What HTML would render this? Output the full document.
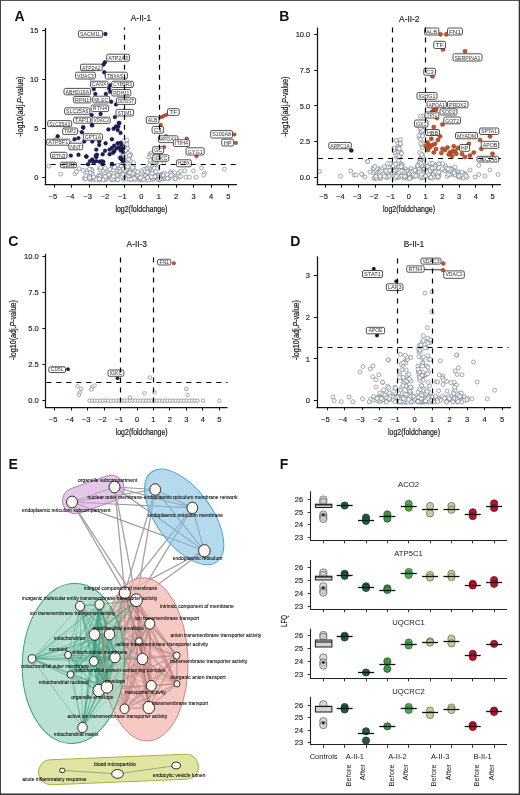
<!DOCTYPE html>
<html><head><meta charset="utf-8"><style>
html,body{margin:0;padding:0;background:#fff;width:520px;height:795px;overflow:hidden;font-family:"Liberation Sans", sans-serif;}
svg{display:block;will-change:transform;}
</style></head><body>
<svg width="520" height="795" viewBox="0 0 520 795" font-family='"Liberation Sans", sans-serif'><rect x="0" y="0" width="520" height="795" fill="#fff"/>
<circle cx="126.33" cy="141.79" r="2.0" fill="#f6f8fa" stroke="#727a85" stroke-width="0.6" />
<circle cx="127.63" cy="160.89" r="2.0" fill="#f6f8fa" stroke="#727a85" stroke-width="0.6" />
<circle cx="149.96" cy="154.16" r="2.0" fill="#f6f8fa" stroke="#727a85" stroke-width="0.6" />
<circle cx="142.33" cy="179.96" r="2.0" fill="#f6f8fa" stroke="#727a85" stroke-width="0.6" />
<circle cx="133.78" cy="177.86" r="2.0" fill="#f6f8fa" stroke="#727a85" stroke-width="0.6" />
<circle cx="105.71" cy="175.00" r="2.0" fill="#f6f8fa" stroke="#727a85" stroke-width="0.6" />
<circle cx="125.17" cy="161.26" r="2.0" fill="#f6f8fa" stroke="#727a85" stroke-width="0.6" />
<circle cx="146.92" cy="176.31" r="2.0" fill="#f6f8fa" stroke="#727a85" stroke-width="0.6" />
<circle cx="112.90" cy="177.09" r="2.0" fill="#f6f8fa" stroke="#727a85" stroke-width="0.6" />
<circle cx="165.04" cy="178.66" r="2.0" fill="#f6f8fa" stroke="#727a85" stroke-width="0.6" />
<circle cx="158.29" cy="179.40" r="2.0" fill="#f6f8fa" stroke="#727a85" stroke-width="0.6" />
<circle cx="156.29" cy="176.93" r="2.0" fill="#f6f8fa" stroke="#727a85" stroke-width="0.6" />
<circle cx="91.90" cy="171.45" r="2.0" fill="#f6f8fa" stroke="#727a85" stroke-width="0.6" />
<circle cx="125.85" cy="150.75" r="2.0" fill="#f6f8fa" stroke="#727a85" stroke-width="0.6" />
<circle cx="102.86" cy="167.36" r="2.0" fill="#f6f8fa" stroke="#727a85" stroke-width="0.6" />
<circle cx="168.72" cy="177.18" r="2.0" fill="#f6f8fa" stroke="#727a85" stroke-width="0.6" />
<circle cx="102.90" cy="170.61" r="2.0" fill="#f6f8fa" stroke="#727a85" stroke-width="0.6" />
<circle cx="114.24" cy="179.50" r="2.0" fill="#f6f8fa" stroke="#727a85" stroke-width="0.6" />
<circle cx="99.92" cy="168.80" r="2.0" fill="#f6f8fa" stroke="#727a85" stroke-width="0.6" />
<circle cx="162.14" cy="178.76" r="2.0" fill="#f6f8fa" stroke="#727a85" stroke-width="0.6" />
<circle cx="123.30" cy="179.45" r="2.0" fill="#f6f8fa" stroke="#727a85" stroke-width="0.6" />
<circle cx="151.05" cy="157.49" r="2.0" fill="#f6f8fa" stroke="#727a85" stroke-width="0.6" />
<circle cx="88.74" cy="174.83" r="2.0" fill="#f6f8fa" stroke="#727a85" stroke-width="0.6" />
<circle cx="101.99" cy="177.64" r="2.0" fill="#f6f8fa" stroke="#727a85" stroke-width="0.6" />
<circle cx="125.68" cy="175.35" r="2.0" fill="#f6f8fa" stroke="#727a85" stroke-width="0.6" />
<circle cx="139.28" cy="179.87" r="2.0" fill="#f6f8fa" stroke="#727a85" stroke-width="0.6" />
<circle cx="129.26" cy="172.54" r="2.0" fill="#f6f8fa" stroke="#727a85" stroke-width="0.6" />
<circle cx="179.94" cy="176.71" r="2.0" fill="#f6f8fa" stroke="#727a85" stroke-width="0.6" />
<circle cx="122.88" cy="149.74" r="2.0" fill="#f6f8fa" stroke="#727a85" stroke-width="0.6" />
<circle cx="119.47" cy="166.52" r="2.0" fill="#f6f8fa" stroke="#727a85" stroke-width="0.6" />
<circle cx="153.36" cy="162.77" r="2.0" fill="#f6f8fa" stroke="#727a85" stroke-width="0.6" />
<circle cx="164.16" cy="172.86" r="2.0" fill="#f6f8fa" stroke="#727a85" stroke-width="0.6" />
<circle cx="129.13" cy="159.08" r="2.0" fill="#f6f8fa" stroke="#727a85" stroke-width="0.6" />
<circle cx="130.73" cy="154.62" r="2.0" fill="#f6f8fa" stroke="#727a85" stroke-width="0.6" />
<circle cx="107.07" cy="177.11" r="2.0" fill="#f6f8fa" stroke="#727a85" stroke-width="0.6" />
<circle cx="148.46" cy="177.71" r="2.0" fill="#f6f8fa" stroke="#727a85" stroke-width="0.6" />
<circle cx="125.31" cy="169.62" r="2.0" fill="#f6f8fa" stroke="#727a85" stroke-width="0.6" />
<circle cx="147.26" cy="173.22" r="2.0" fill="#f6f8fa" stroke="#727a85" stroke-width="0.6" />
<circle cx="109.13" cy="175.01" r="2.0" fill="#f6f8fa" stroke="#727a85" stroke-width="0.6" />
<circle cx="108.97" cy="175.54" r="2.0" fill="#f6f8fa" stroke="#727a85" stroke-width="0.6" />
<circle cx="89.32" cy="170.70" r="2.0" fill="#f6f8fa" stroke="#727a85" stroke-width="0.6" />
<circle cx="159.57" cy="179.15" r="2.0" fill="#f6f8fa" stroke="#727a85" stroke-width="0.6" />
<circle cx="126.57" cy="147.39" r="2.0" fill="#f6f8fa" stroke="#727a85" stroke-width="0.6" />
<circle cx="105.27" cy="179.75" r="2.0" fill="#f6f8fa" stroke="#727a85" stroke-width="0.6" />
<circle cx="149.08" cy="170.71" r="2.0" fill="#f6f8fa" stroke="#727a85" stroke-width="0.6" />
<circle cx="99.51" cy="175.24" r="2.0" fill="#f6f8fa" stroke="#727a85" stroke-width="0.6" />
<circle cx="151.99" cy="174.68" r="2.0" fill="#f6f8fa" stroke="#727a85" stroke-width="0.6" />
<circle cx="156.11" cy="165.67" r="2.0" fill="#f6f8fa" stroke="#727a85" stroke-width="0.6" />
<circle cx="170.81" cy="171.75" r="2.0" fill="#f6f8fa" stroke="#727a85" stroke-width="0.6" />
<circle cx="152.79" cy="170.33" r="2.0" fill="#f6f8fa" stroke="#727a85" stroke-width="0.6" />
<circle cx="145.83" cy="168.90" r="2.0" fill="#f6f8fa" stroke="#727a85" stroke-width="0.6" />
<circle cx="152.33" cy="155.51" r="2.0" fill="#f6f8fa" stroke="#727a85" stroke-width="0.6" />
<circle cx="129.77" cy="156.21" r="2.0" fill="#f6f8fa" stroke="#727a85" stroke-width="0.6" />
<circle cx="159.21" cy="178.97" r="2.0" fill="#f6f8fa" stroke="#727a85" stroke-width="0.6" />
<circle cx="175.02" cy="178.85" r="2.0" fill="#f6f8fa" stroke="#727a85" stroke-width="0.6" />
<circle cx="133.61" cy="167.38" r="2.0" fill="#f6f8fa" stroke="#727a85" stroke-width="0.6" />
<circle cx="138.15" cy="175.56" r="2.0" fill="#f6f8fa" stroke="#727a85" stroke-width="0.6" />
<circle cx="131.31" cy="179.75" r="2.0" fill="#f6f8fa" stroke="#727a85" stroke-width="0.6" />
<circle cx="149.72" cy="168.41" r="2.0" fill="#f6f8fa" stroke="#727a85" stroke-width="0.6" />
<circle cx="128.37" cy="167.91" r="2.0" fill="#f6f8fa" stroke="#727a85" stroke-width="0.6" />
<circle cx="128.70" cy="175.95" r="2.0" fill="#f6f8fa" stroke="#727a85" stroke-width="0.6" />
<circle cx="84.23" cy="178.49" r="2.0" fill="#f6f8fa" stroke="#727a85" stroke-width="0.6" />
<circle cx="149.33" cy="173.48" r="2.0" fill="#f6f8fa" stroke="#727a85" stroke-width="0.6" />
<circle cx="142.74" cy="173.35" r="2.0" fill="#f6f8fa" stroke="#727a85" stroke-width="0.6" />
<circle cx="106.55" cy="174.00" r="2.0" fill="#f6f8fa" stroke="#727a85" stroke-width="0.6" />
<circle cx="124.80" cy="166.43" r="2.0" fill="#f6f8fa" stroke="#727a85" stroke-width="0.6" />
<circle cx="133.88" cy="177.69" r="2.0" fill="#f6f8fa" stroke="#727a85" stroke-width="0.6" />
<circle cx="112.96" cy="166.81" r="2.0" fill="#f6f8fa" stroke="#727a85" stroke-width="0.6" />
<circle cx="168.98" cy="178.53" r="2.0" fill="#f6f8fa" stroke="#727a85" stroke-width="0.6" />
<circle cx="153.20" cy="178.74" r="2.0" fill="#f6f8fa" stroke="#727a85" stroke-width="0.6" />
<circle cx="159.41" cy="176.38" r="2.0" fill="#f6f8fa" stroke="#727a85" stroke-width="0.6" />
<circle cx="149.15" cy="176.95" r="2.0" fill="#f6f8fa" stroke="#727a85" stroke-width="0.6" />
<circle cx="176.90" cy="176.78" r="2.0" fill="#f6f8fa" stroke="#727a85" stroke-width="0.6" />
<circle cx="149.20" cy="179.21" r="2.0" fill="#f6f8fa" stroke="#727a85" stroke-width="0.6" />
<circle cx="92.40" cy="174.66" r="2.0" fill="#f6f8fa" stroke="#727a85" stroke-width="0.6" />
<circle cx="132.45" cy="178.13" r="2.0" fill="#f6f8fa" stroke="#727a85" stroke-width="0.6" />
<circle cx="100.08" cy="169.86" r="2.0" fill="#f6f8fa" stroke="#727a85" stroke-width="0.6" />
<circle cx="91.33" cy="169.31" r="2.0" fill="#f6f8fa" stroke="#727a85" stroke-width="0.6" />
<circle cx="127.28" cy="170.82" r="2.0" fill="#f6f8fa" stroke="#727a85" stroke-width="0.6" />
<circle cx="127.76" cy="167.39" r="2.0" fill="#f6f8fa" stroke="#727a85" stroke-width="0.6" />
<circle cx="140.89" cy="173.70" r="2.0" fill="#f6f8fa" stroke="#727a85" stroke-width="0.6" />
<circle cx="164.74" cy="176.33" r="2.0" fill="#f6f8fa" stroke="#727a85" stroke-width="0.6" />
<circle cx="154.45" cy="177.23" r="2.0" fill="#f6f8fa" stroke="#727a85" stroke-width="0.6" />
<circle cx="121.64" cy="166.59" r="2.0" fill="#f6f8fa" stroke="#727a85" stroke-width="0.6" />
<circle cx="156.99" cy="168.62" r="2.0" fill="#f6f8fa" stroke="#727a85" stroke-width="0.6" />
<circle cx="127.95" cy="170.31" r="2.0" fill="#f6f8fa" stroke="#727a85" stroke-width="0.6" />
<circle cx="147.28" cy="168.19" r="2.0" fill="#f6f8fa" stroke="#727a85" stroke-width="0.6" />
<circle cx="154.40" cy="172.88" r="2.0" fill="#f6f8fa" stroke="#727a85" stroke-width="0.6" />
<circle cx="86.94" cy="176.99" r="2.0" fill="#f6f8fa" stroke="#727a85" stroke-width="0.6" />
<circle cx="91.65" cy="169.94" r="2.0" fill="#f6f8fa" stroke="#727a85" stroke-width="0.6" />
<circle cx="161.33" cy="174.40" r="2.0" fill="#f6f8fa" stroke="#727a85" stroke-width="0.6" />
<circle cx="156.41" cy="162.97" r="2.0" fill="#f6f8fa" stroke="#727a85" stroke-width="0.6" />
<circle cx="141.89" cy="170.71" r="2.0" fill="#f6f8fa" stroke="#727a85" stroke-width="0.6" />
<circle cx="123.23" cy="160.67" r="2.0" fill="#f6f8fa" stroke="#727a85" stroke-width="0.6" />
<circle cx="117.83" cy="171.13" r="2.0" fill="#f6f8fa" stroke="#727a85" stroke-width="0.6" />
<circle cx="152.23" cy="179.89" r="2.0" fill="#f6f8fa" stroke="#727a85" stroke-width="0.6" />
<circle cx="106.01" cy="178.78" r="2.0" fill="#f6f8fa" stroke="#727a85" stroke-width="0.6" />
<circle cx="155.96" cy="162.84" r="2.0" fill="#f6f8fa" stroke="#727a85" stroke-width="0.6" />
<circle cx="155.34" cy="159.14" r="2.0" fill="#f6f8fa" stroke="#727a85" stroke-width="0.6" />
<circle cx="174.56" cy="172.71" r="2.0" fill="#f6f8fa" stroke="#727a85" stroke-width="0.6" />
<circle cx="124.09" cy="140.91" r="2.0" fill="#f6f8fa" stroke="#727a85" stroke-width="0.6" />
<circle cx="126.66" cy="179.11" r="2.0" fill="#f6f8fa" stroke="#727a85" stroke-width="0.6" />
<circle cx="133.75" cy="173.55" r="2.0" fill="#f6f8fa" stroke="#727a85" stroke-width="0.6" />
<circle cx="147.45" cy="176.37" r="2.0" fill="#f6f8fa" stroke="#727a85" stroke-width="0.6" />
<circle cx="153.96" cy="178.56" r="2.0" fill="#f6f8fa" stroke="#727a85" stroke-width="0.6" />
<circle cx="100.60" cy="167.55" r="2.0" fill="#f6f8fa" stroke="#727a85" stroke-width="0.6" />
<circle cx="85.87" cy="178.06" r="2.0" fill="#f6f8fa" stroke="#727a85" stroke-width="0.6" />
<circle cx="123.67" cy="177.98" r="2.0" fill="#f6f8fa" stroke="#727a85" stroke-width="0.6" />
<circle cx="135.08" cy="179.59" r="2.0" fill="#f6f8fa" stroke="#727a85" stroke-width="0.6" />
<circle cx="148.28" cy="167.59" r="2.0" fill="#f6f8fa" stroke="#727a85" stroke-width="0.6" />
<circle cx="89.29" cy="171.58" r="2.0" fill="#f6f8fa" stroke="#727a85" stroke-width="0.6" />
<circle cx="118.19" cy="167.03" r="2.0" fill="#f6f8fa" stroke="#727a85" stroke-width="0.6" />
<circle cx="89.69" cy="174.70" r="2.0" fill="#f6f8fa" stroke="#727a85" stroke-width="0.6" />
<circle cx="129.52" cy="173.31" r="2.0" fill="#f6f8fa" stroke="#727a85" stroke-width="0.6" />
<circle cx="158.00" cy="177.98" r="2.0" fill="#f6f8fa" stroke="#727a85" stroke-width="0.6" />
<circle cx="146.89" cy="175.88" r="2.0" fill="#f6f8fa" stroke="#727a85" stroke-width="0.6" />
<circle cx="109.73" cy="176.28" r="2.0" fill="#f6f8fa" stroke="#727a85" stroke-width="0.6" />
<circle cx="153.15" cy="178.38" r="2.0" fill="#f6f8fa" stroke="#727a85" stroke-width="0.6" />
<circle cx="151.51" cy="153.16" r="2.0" fill="#f6f8fa" stroke="#727a85" stroke-width="0.6" />
<circle cx="124.92" cy="170.79" r="2.0" fill="#f6f8fa" stroke="#727a85" stroke-width="0.6" />
<circle cx="117.83" cy="175.40" r="2.0" fill="#f6f8fa" stroke="#727a85" stroke-width="0.6" />
<circle cx="119.98" cy="167.02" r="2.0" fill="#f6f8fa" stroke="#727a85" stroke-width="0.6" />
<circle cx="160.82" cy="176.10" r="2.0" fill="#f6f8fa" stroke="#727a85" stroke-width="0.6" />
<circle cx="159.23" cy="179.53" r="2.0" fill="#f6f8fa" stroke="#727a85" stroke-width="0.6" />
<circle cx="145.60" cy="177.70" r="2.0" fill="#f6f8fa" stroke="#727a85" stroke-width="0.6" />
<circle cx="156.94" cy="175.73" r="2.0" fill="#f6f8fa" stroke="#727a85" stroke-width="0.6" />
<circle cx="130.38" cy="160.79" r="2.0" fill="#f6f8fa" stroke="#727a85" stroke-width="0.6" />
<circle cx="122.24" cy="159.59" r="2.0" fill="#f6f8fa" stroke="#727a85" stroke-width="0.6" />
<circle cx="123.20" cy="154.49" r="2.0" fill="#f6f8fa" stroke="#727a85" stroke-width="0.6" />
<circle cx="98.43" cy="175.90" r="2.0" fill="#f6f8fa" stroke="#727a85" stroke-width="0.6" />
<circle cx="158.04" cy="179.59" r="2.0" fill="#f6f8fa" stroke="#727a85" stroke-width="0.6" />
<circle cx="126.96" cy="144.36" r="2.0" fill="#f6f8fa" stroke="#727a85" stroke-width="0.6" />
<circle cx="85.56" cy="178.83" r="2.0" fill="#f6f8fa" stroke="#727a85" stroke-width="0.6" />
<circle cx="103.30" cy="171.43" r="2.0" fill="#f6f8fa" stroke="#727a85" stroke-width="0.6" />
<circle cx="140.29" cy="178.88" r="2.0" fill="#f6f8fa" stroke="#727a85" stroke-width="0.6" />
<circle cx="109.54" cy="170.15" r="2.0" fill="#f6f8fa" stroke="#727a85" stroke-width="0.6" />
<circle cx="129.30" cy="179.34" r="2.0" fill="#f6f8fa" stroke="#727a85" stroke-width="0.6" />
<circle cx="119.73" cy="168.78" r="2.0" fill="#f6f8fa" stroke="#727a85" stroke-width="0.6" />
<circle cx="146.44" cy="179.95" r="2.0" fill="#f6f8fa" stroke="#727a85" stroke-width="0.6" />
<circle cx="128.32" cy="153.22" r="2.0" fill="#f6f8fa" stroke="#727a85" stroke-width="0.6" />
<circle cx="151.90" cy="177.37" r="2.0" fill="#f6f8fa" stroke="#727a85" stroke-width="0.6" />
<circle cx="134.39" cy="172.88" r="2.0" fill="#f6f8fa" stroke="#727a85" stroke-width="0.6" />
<circle cx="90.08" cy="172.73" r="2.0" fill="#f6f8fa" stroke="#727a85" stroke-width="0.6" />
<circle cx="133.52" cy="164.77" r="2.0" fill="#f6f8fa" stroke="#727a85" stroke-width="0.6" />
<circle cx="112.52" cy="179.49" r="2.0" fill="#f6f8fa" stroke="#727a85" stroke-width="0.6" />
<circle cx="152.08" cy="162.41" r="2.0" fill="#f6f8fa" stroke="#727a85" stroke-width="0.6" />
<circle cx="127.25" cy="149.09" r="2.0" fill="#f6f8fa" stroke="#727a85" stroke-width="0.6" />
<circle cx="146.09" cy="175.06" r="2.0" fill="#f6f8fa" stroke="#727a85" stroke-width="0.6" />
<circle cx="151.58" cy="165.84" r="2.0" fill="#f6f8fa" stroke="#727a85" stroke-width="0.6" />
<circle cx="126.89" cy="139.90" r="2.0" fill="#f6f8fa" stroke="#727a85" stroke-width="0.6" />
<circle cx="160.35" cy="174.86" r="2.0" fill="#f6f8fa" stroke="#727a85" stroke-width="0.6" />
<circle cx="147.34" cy="177.48" r="2.0" fill="#f6f8fa" stroke="#727a85" stroke-width="0.6" />
<circle cx="153.68" cy="156.79" r="2.0" fill="#f6f8fa" stroke="#727a85" stroke-width="0.6" />
<circle cx="91.04" cy="179.47" r="2.0" fill="#f6f8fa" stroke="#727a85" stroke-width="0.6" />
<circle cx="90.83" cy="178.98" r="2.0" fill="#f6f8fa" stroke="#727a85" stroke-width="0.6" />
<circle cx="123.85" cy="157.44" r="2.0" fill="#f6f8fa" stroke="#727a85" stroke-width="0.6" />
<circle cx="119.82" cy="171.52" r="2.0" fill="#f6f8fa" stroke="#727a85" stroke-width="0.6" />
<circle cx="141.64" cy="177.62" r="2.0" fill="#f6f8fa" stroke="#727a85" stroke-width="0.6" />
<circle cx="143.46" cy="179.55" r="2.0" fill="#f6f8fa" stroke="#727a85" stroke-width="0.6" />
<circle cx="150.32" cy="155.21" r="2.0" fill="#f6f8fa" stroke="#727a85" stroke-width="0.6" />
<circle cx="163.41" cy="175.19" r="2.0" fill="#f6f8fa" stroke="#727a85" stroke-width="0.6" />
<circle cx="89.47" cy="178.80" r="2.0" fill="#f6f8fa" stroke="#727a85" stroke-width="0.6" />
<circle cx="146.52" cy="168.95" r="2.0" fill="#f6f8fa" stroke="#727a85" stroke-width="0.6" />
<circle cx="154.29" cy="168.08" r="2.0" fill="#f6f8fa" stroke="#727a85" stroke-width="0.6" />
<circle cx="160.77" cy="178.93" r="2.0" fill="#f6f8fa" stroke="#727a85" stroke-width="0.6" />
<circle cx="127.87" cy="169.13" r="2.0" fill="#f6f8fa" stroke="#727a85" stroke-width="0.6" />
<circle cx="137.81" cy="175.73" r="2.0" fill="#f6f8fa" stroke="#727a85" stroke-width="0.6" />
<circle cx="122.32" cy="158.53" r="2.0" fill="#f6f8fa" stroke="#727a85" stroke-width="0.6" />
<circle cx="122.08" cy="163.75" r="2.0" fill="#f6f8fa" stroke="#727a85" stroke-width="0.6" />
<circle cx="133.45" cy="162.84" r="2.0" fill="#f6f8fa" stroke="#727a85" stroke-width="0.6" />
<circle cx="113.43" cy="170.30" r="2.0" fill="#f6f8fa" stroke="#727a85" stroke-width="0.6" />
<circle cx="88.84" cy="176.13" r="2.0" fill="#f6f8fa" stroke="#727a85" stroke-width="0.6" />
<circle cx="131.26" cy="179.43" r="2.0" fill="#f6f8fa" stroke="#727a85" stroke-width="0.6" />
<circle cx="150.10" cy="175.83" r="2.0" fill="#f6f8fa" stroke="#727a85" stroke-width="0.6" />
<circle cx="105.12" cy="168.06" r="2.0" fill="#f6f8fa" stroke="#727a85" stroke-width="0.6" />
<circle cx="170.53" cy="173.28" r="2.0" fill="#f6f8fa" stroke="#727a85" stroke-width="0.6" />
<circle cx="175.20" cy="178.70" r="2.0" fill="#f6f8fa" stroke="#727a85" stroke-width="0.6" />
<circle cx="111.33" cy="179.61" r="2.0" fill="#f6f8fa" stroke="#727a85" stroke-width="0.6" />
<circle cx="120.93" cy="164.85" r="2.0" fill="#f6f8fa" stroke="#727a85" stroke-width="0.6" />
<circle cx="86.50" cy="170.71" r="2.0" fill="#f6f8fa" stroke="#727a85" stroke-width="0.6" />
<circle cx="128.32" cy="172.63" r="2.0" fill="#f6f8fa" stroke="#727a85" stroke-width="0.6" />
<circle cx="143.97" cy="169.25" r="2.0" fill="#f6f8fa" stroke="#727a85" stroke-width="0.6" />
<circle cx="86.90" cy="172.92" r="2.0" fill="#f6f8fa" stroke="#727a85" stroke-width="0.6" />
<circle cx="89.74" cy="177.59" r="2.0" fill="#f6f8fa" stroke="#727a85" stroke-width="0.6" />
<circle cx="151.63" cy="176.78" r="2.0" fill="#f6f8fa" stroke="#727a85" stroke-width="0.6" />
<circle cx="139.81" cy="177.90" r="2.0" fill="#f6f8fa" stroke="#727a85" stroke-width="0.6" />
<circle cx="125.15" cy="160.73" r="2.0" fill="#f6f8fa" stroke="#727a85" stroke-width="0.6" />
<circle cx="109.88" cy="169.33" r="2.0" fill="#f6f8fa" stroke="#727a85" stroke-width="0.6" />
<circle cx="156.06" cy="176.28" r="2.0" fill="#f6f8fa" stroke="#727a85" stroke-width="0.6" />
<circle cx="135.71" cy="171.32" r="2.0" fill="#f6f8fa" stroke="#727a85" stroke-width="0.6" />
<circle cx="178.80" cy="177.28" r="2.0" fill="#f6f8fa" stroke="#727a85" stroke-width="0.6" />
<circle cx="155.56" cy="161.21" r="2.0" fill="#f6f8fa" stroke="#727a85" stroke-width="0.6" />
<circle cx="130.99" cy="167.21" r="2.0" fill="#f6f8fa" stroke="#727a85" stroke-width="0.6" />
<circle cx="145.21" cy="170.99" r="2.0" fill="#f6f8fa" stroke="#727a85" stroke-width="0.6" />
<circle cx="149.06" cy="157.14" r="2.0" fill="#f6f8fa" stroke="#727a85" stroke-width="0.6" />
<circle cx="159.53" cy="175.45" r="2.0" fill="#f6f8fa" stroke="#727a85" stroke-width="0.6" />
<circle cx="130.90" cy="165.83" r="2.0" fill="#f6f8fa" stroke="#727a85" stroke-width="0.6" />
<circle cx="152.04" cy="155.91" r="2.0" fill="#f6f8fa" stroke="#727a85" stroke-width="0.6" />
<circle cx="99.64" cy="179.93" r="2.0" fill="#f6f8fa" stroke="#727a85" stroke-width="0.6" />
<circle cx="130.62" cy="170.11" r="2.0" fill="#f6f8fa" stroke="#727a85" stroke-width="0.6" />
<circle cx="159.58" cy="179.06" r="2.0" fill="#f6f8fa" stroke="#727a85" stroke-width="0.6" />
<circle cx="112.48" cy="176.76" r="2.0" fill="#f6f8fa" stroke="#727a85" stroke-width="0.6" />
<circle cx="98.82" cy="178.85" r="2.0" fill="#f6f8fa" stroke="#727a85" stroke-width="0.6" />
<circle cx="159.10" cy="176.06" r="2.0" fill="#f6f8fa" stroke="#727a85" stroke-width="0.6" />
<circle cx="117.71" cy="165.23" r="2.0" fill="#f6f8fa" stroke="#727a85" stroke-width="0.6" />
<circle cx="155.00" cy="176.56" r="2.0" fill="#f6f8fa" stroke="#727a85" stroke-width="0.6" />
<circle cx="169.23" cy="177.22" r="2.0" fill="#f6f8fa" stroke="#727a85" stroke-width="0.6" />
<circle cx="89.50" cy="168.93" r="2.0" fill="#f6f8fa" stroke="#727a85" stroke-width="0.6" />
<circle cx="104.53" cy="173.82" r="2.0" fill="#f6f8fa" stroke="#727a85" stroke-width="0.6" />
<circle cx="141.87" cy="176.93" r="2.0" fill="#f6f8fa" stroke="#727a85" stroke-width="0.6" />
<circle cx="145.68" cy="175.86" r="2.0" fill="#f6f8fa" stroke="#727a85" stroke-width="0.6" />
<circle cx="127.33" cy="148.66" r="2.0" fill="#f6f8fa" stroke="#727a85" stroke-width="0.6" />
<circle cx="98.06" cy="178.32" r="2.0" fill="#f6f8fa" stroke="#727a85" stroke-width="0.6" />
<circle cx="127.84" cy="166.82" r="2.0" fill="#f6f8fa" stroke="#727a85" stroke-width="0.6" />
<circle cx="166.55" cy="177.16" r="2.0" fill="#f6f8fa" stroke="#727a85" stroke-width="0.6" />
<circle cx="117.56" cy="179.91" r="2.0" fill="#f6f8fa" stroke="#727a85" stroke-width="0.6" />
<circle cx="99.84" cy="176.24" r="2.0" fill="#f6f8fa" stroke="#727a85" stroke-width="0.6" />
<circle cx="119.67" cy="157.60" r="2.0" fill="#f6f8fa" stroke="#727a85" stroke-width="0.6" />
<circle cx="132.89" cy="173.64" r="2.0" fill="#f6f8fa" stroke="#727a85" stroke-width="0.6" />
<circle cx="105.35" cy="178.84" r="2.0" fill="#f6f8fa" stroke="#727a85" stroke-width="0.6" />
<circle cx="140.35" cy="177.80" r="2.0" fill="#f6f8fa" stroke="#727a85" stroke-width="0.6" />
<circle cx="123.56" cy="177.10" r="2.0" fill="#f6f8fa" stroke="#727a85" stroke-width="0.6" />
<circle cx="151.25" cy="160.62" r="2.0" fill="#f6f8fa" stroke="#727a85" stroke-width="0.6" />
<circle cx="147.29" cy="177.42" r="2.0" fill="#f6f8fa" stroke="#727a85" stroke-width="0.6" />
<circle cx="121.72" cy="152.71" r="2.0" fill="#f6f8fa" stroke="#727a85" stroke-width="0.6" />
<circle cx="104.15" cy="176.66" r="2.0" fill="#f6f8fa" stroke="#727a85" stroke-width="0.6" />
<circle cx="103.14" cy="179.89" r="2.0" fill="#f6f8fa" stroke="#727a85" stroke-width="0.6" />
<circle cx="172.07" cy="174.58" r="2.0" fill="#f6f8fa" stroke="#727a85" stroke-width="0.6" />
<circle cx="167.10" cy="174.61" r="2.0" fill="#f6f8fa" stroke="#727a85" stroke-width="0.6" />
<circle cx="120.46" cy="171.70" r="2.0" fill="#f6f8fa" stroke="#727a85" stroke-width="0.6" />
<circle cx="109.42" cy="175.68" r="2.0" fill="#f6f8fa" stroke="#727a85" stroke-width="0.6" />
<circle cx="128.57" cy="159.30" r="2.0" fill="#f6f8fa" stroke="#727a85" stroke-width="0.6" />
<circle cx="105.50" cy="176.65" r="2.0" fill="#f6f8fa" stroke="#727a85" stroke-width="0.6" />
<circle cx="123.39" cy="161.06" r="2.0" fill="#f6f8fa" stroke="#727a85" stroke-width="0.6" />
<circle cx="150.73" cy="162.23" r="2.0" fill="#f6f8fa" stroke="#727a85" stroke-width="0.6" />
<circle cx="117.70" cy="175.27" r="2.0" fill="#f6f8fa" stroke="#727a85" stroke-width="0.6" />
<circle cx="113.90" cy="179.89" r="2.0" fill="#f6f8fa" stroke="#727a85" stroke-width="0.6" />
<circle cx="147.47" cy="172.25" r="2.0" fill="#f6f8fa" stroke="#727a85" stroke-width="0.6" />
<circle cx="122.27" cy="173.49" r="2.0" fill="#f6f8fa" stroke="#727a85" stroke-width="0.6" />
<circle cx="85.74" cy="175.63" r="2.0" fill="#f6f8fa" stroke="#727a85" stroke-width="0.6" />
<circle cx="112.24" cy="165.90" r="2.0" fill="#f6f8fa" stroke="#727a85" stroke-width="0.6" />
<circle cx="96.69" cy="178.21" r="2.0" fill="#f6f8fa" stroke="#727a85" stroke-width="0.6" />
<circle cx="148.66" cy="180.00" r="2.0" fill="#f6f8fa" stroke="#727a85" stroke-width="0.6" />
<circle cx="114.68" cy="167.26" r="2.0" fill="#f6f8fa" stroke="#727a85" stroke-width="0.6" />
<circle cx="130.08" cy="171.69" r="2.0" fill="#f6f8fa" stroke="#727a85" stroke-width="0.6" />
<circle cx="134.33" cy="178.36" r="2.0" fill="#f6f8fa" stroke="#727a85" stroke-width="0.6" />
<circle cx="113.85" cy="173.78" r="2.0" fill="#f6f8fa" stroke="#727a85" stroke-width="0.6" />
<circle cx="94.35" cy="179.64" r="2.0" fill="#f6f8fa" stroke="#727a85" stroke-width="0.6" />
<circle cx="167.24" cy="178.36" r="2.0" fill="#f6f8fa" stroke="#727a85" stroke-width="0.6" />
<circle cx="120.44" cy="175.20" r="2.0" fill="#f6f8fa" stroke="#727a85" stroke-width="0.6" />
<circle cx="152.14" cy="173.15" r="2.0" fill="#f6f8fa" stroke="#727a85" stroke-width="0.6" />
<circle cx="123.22" cy="159.62" r="2.0" fill="#f6f8fa" stroke="#727a85" stroke-width="0.6" />
<circle cx="147.60" cy="177.66" r="2.0" fill="#f6f8fa" stroke="#727a85" stroke-width="0.6" />
<circle cx="123.09" cy="168.79" r="2.0" fill="#f6f8fa" stroke="#727a85" stroke-width="0.6" />
<circle cx="93.60" cy="177.69" r="2.0" fill="#f6f8fa" stroke="#727a85" stroke-width="0.6" />
<circle cx="129.34" cy="172.89" r="2.0" fill="#f6f8fa" stroke="#727a85" stroke-width="0.6" />
<circle cx="150.02" cy="160.10" r="2.0" fill="#f6f8fa" stroke="#727a85" stroke-width="0.6" />
<circle cx="96.40" cy="179.33" r="2.0" fill="#f6f8fa" stroke="#727a85" stroke-width="0.6" />
<circle cx="129.85" cy="172.83" r="2.0" fill="#f6f8fa" stroke="#727a85" stroke-width="0.6" />
<circle cx="108.85" cy="174.57" r="2.0" fill="#f6f8fa" stroke="#727a85" stroke-width="0.6" />
<circle cx="117.85" cy="179.68" r="2.0" fill="#f6f8fa" stroke="#727a85" stroke-width="0.6" />
<circle cx="112.32" cy="178.41" r="2.0" fill="#f6f8fa" stroke="#727a85" stroke-width="0.6" />
<circle cx="129.46" cy="155.53" r="2.0" fill="#f6f8fa" stroke="#727a85" stroke-width="0.6" />
<circle cx="120.80" cy="166.21" r="2.0" fill="#f6f8fa" stroke="#727a85" stroke-width="0.6" />
<circle cx="125.43" cy="150.52" r="2.0" fill="#f6f8fa" stroke="#727a85" stroke-width="0.6" />
<circle cx="99.23" cy="178.75" r="2.0" fill="#f6f8fa" stroke="#727a85" stroke-width="0.6" />
<circle cx="93.64" cy="176.90" r="2.0" fill="#f6f8fa" stroke="#727a85" stroke-width="0.6" />
<circle cx="155.85" cy="171.58" r="2.0" fill="#f6f8fa" stroke="#727a85" stroke-width="0.6" />
<circle cx="83.03" cy="170.38" r="2.0" fill="#f6f8fa" stroke="#727a85" stroke-width="0.6" />
<circle cx="154.07" cy="161.89" r="2.0" fill="#f6f8fa" stroke="#727a85" stroke-width="0.6" />
<circle cx="178.62" cy="173.00" r="2.0" fill="#f6f8fa" stroke="#727a85" stroke-width="0.6" />
<circle cx="121.42" cy="174.72" r="2.0" fill="#f6f8fa" stroke="#727a85" stroke-width="0.6" />
<circle cx="171.14" cy="175.61" r="2.0" fill="#f6f8fa" stroke="#727a85" stroke-width="0.6" />
<circle cx="113.52" cy="176.45" r="2.0" fill="#f6f8fa" stroke="#727a85" stroke-width="0.6" />
<circle cx="154.68" cy="164.58" r="2.0" fill="#f6f8fa" stroke="#727a85" stroke-width="0.6" />
<circle cx="99.37" cy="178.99" r="2.0" fill="#f6f8fa" stroke="#727a85" stroke-width="0.6" />
<circle cx="121.53" cy="165.61" r="2.0" fill="#f6f8fa" stroke="#727a85" stroke-width="0.6" />
<circle cx="155.91" cy="160.45" r="2.0" fill="#f6f8fa" stroke="#727a85" stroke-width="0.6" />
<circle cx="124.15" cy="174.33" r="2.0" fill="#f6f8fa" stroke="#727a85" stroke-width="0.6" />
<circle cx="122.01" cy="176.42" r="2.0" fill="#f6f8fa" stroke="#727a85" stroke-width="0.6" />
<circle cx="178.97" cy="175.90" r="2.0" fill="#f6f8fa" stroke="#727a85" stroke-width="0.6" />
<circle cx="137.64" cy="172.06" r="2.0" fill="#f6f8fa" stroke="#727a85" stroke-width="0.6" />
<circle cx="149.60" cy="164.90" r="2.0" fill="#f6f8fa" stroke="#727a85" stroke-width="0.6" />
<circle cx="123.10" cy="174.48" r="2.0" fill="#f6f8fa" stroke="#727a85" stroke-width="0.6" />
<circle cx="132.49" cy="167.66" r="2.0" fill="#f6f8fa" stroke="#727a85" stroke-width="0.6" />
<circle cx="48.80" cy="166.10" r="2.0" fill="#f6f8fa" stroke="#727a85" stroke-width="0.6" />
<circle cx="60.70" cy="174.20" r="2.0" fill="#f6f8fa" stroke="#727a85" stroke-width="0.6" />
<circle cx="75.00" cy="173.80" r="2.0" fill="#f6f8fa" stroke="#727a85" stroke-width="0.6" />
<circle cx="76.50" cy="171.60" r="2.0" fill="#f6f8fa" stroke="#727a85" stroke-width="0.6" />
<circle cx="79.20" cy="168.80" r="2.0" fill="#f6f8fa" stroke="#727a85" stroke-width="0.6" />
<circle cx="201.50" cy="167.80" r="2.0" fill="#f6f8fa" stroke="#727a85" stroke-width="0.6" />
<circle cx="224.40" cy="169.10" r="2.0" fill="#f6f8fa" stroke="#727a85" stroke-width="0.6" />
<circle cx="193.50" cy="170.90" r="2.0" fill="#f6f8fa" stroke="#727a85" stroke-width="0.6" />
<circle cx="204.50" cy="173.20" r="2.0" fill="#f6f8fa" stroke="#727a85" stroke-width="0.6" />
<circle cx="203.60" cy="175.20" r="2.0" fill="#f6f8fa" stroke="#727a85" stroke-width="0.6" />
<circle cx="196.20" cy="177.20" r="2.0" fill="#f6f8fa" stroke="#727a85" stroke-width="0.6" />
<circle cx="186.00" cy="177.20" r="2.0" fill="#f6f8fa" stroke="#727a85" stroke-width="0.6" />
<circle cx="189.40" cy="177.20" r="2.0" fill="#f6f8fa" stroke="#727a85" stroke-width="0.6" />
<circle cx="184.70" cy="170.90" r="2.0" fill="#f6f8fa" stroke="#727a85" stroke-width="0.6" />
<circle cx="180.70" cy="171.10" r="2.0" fill="#f6f8fa" stroke="#727a85" stroke-width="0.6" />
<circle cx="180.70" cy="176.50" r="2.0" fill="#f6f8fa" stroke="#727a85" stroke-width="0.6" />
<circle cx="160.50" cy="152.00" r="2.0" fill="#f6f8fa" stroke="#727a85" stroke-width="0.6" />
<circle cx="160.00" cy="156.00" r="2.0" fill="#f6f8fa" stroke="#727a85" stroke-width="0.6" />
<circle cx="162.00" cy="160.00" r="2.0" fill="#f6f8fa" stroke="#727a85" stroke-width="0.6" />
<circle cx="164.00" cy="163.00" r="2.0" fill="#f6f8fa" stroke="#727a85" stroke-width="0.6" />
<circle cx="105.40" cy="34.00" r="1.95" fill="#1d1e5a" stroke="#0c0d33" stroke-width="0.3" />
<circle cx="104.90" cy="62.30" r="1.95" fill="#1d1e5a" stroke="#0c0d33" stroke-width="0.3" />
<circle cx="103.50" cy="64.50" r="1.95" fill="#1d1e5a" stroke="#0c0d33" stroke-width="0.3" />
<circle cx="104.30" cy="72.20" r="1.95" fill="#1d1e5a" stroke="#0c0d33" stroke-width="0.3" />
<circle cx="110.20" cy="85.40" r="1.95" fill="#1d1e5a" stroke="#0c0d33" stroke-width="0.3" />
<circle cx="109.10" cy="88.60" r="1.95" fill="#1d1e5a" stroke="#0c0d33" stroke-width="0.3" />
<circle cx="93.80" cy="89.10" r="1.95" fill="#1d1e5a" stroke="#0c0d33" stroke-width="0.3" />
<circle cx="95.30" cy="93.90" r="1.95" fill="#1d1e5a" stroke="#0c0d33" stroke-width="0.3" />
<circle cx="105.90" cy="93.90" r="1.95" fill="#1d1e5a" stroke="#0c0d33" stroke-width="0.3" />
<circle cx="110.20" cy="91.70" r="1.95" fill="#1d1e5a" stroke="#0c0d33" stroke-width="0.3" />
<circle cx="111.20" cy="101.80" r="1.95" fill="#1d1e5a" stroke="#0c0d33" stroke-width="0.3" />
<circle cx="116.00" cy="104.40" r="1.95" fill="#1d1e5a" stroke="#0c0d33" stroke-width="0.3" />
<circle cx="100.60" cy="114.00" r="1.95" fill="#1d1e5a" stroke="#0c0d33" stroke-width="0.3" />
<circle cx="91.60" cy="115.00" r="1.95" fill="#1d1e5a" stroke="#0c0d33" stroke-width="0.3" />
<circle cx="114.90" cy="117.10" r="1.95" fill="#1d1e5a" stroke="#0c0d33" stroke-width="0.3" />
<circle cx="92.00" cy="124.80" r="1.95" fill="#1d1e5a" stroke="#0c0d33" stroke-width="0.3" />
<circle cx="83.30" cy="127.70" r="1.95" fill="#1d1e5a" stroke="#0c0d33" stroke-width="0.3" />
<circle cx="118.80" cy="122.90" r="1.95" fill="#1d1e5a" stroke="#0c0d33" stroke-width="0.3" />
<circle cx="92.10" cy="125.40" r="1.95" fill="#1d1e5a" stroke="#0c0d33" stroke-width="0.3" />
<circle cx="83.10" cy="127.10" r="1.95" fill="#1d1e5a" stroke="#0c0d33" stroke-width="0.3" />
<circle cx="81.90" cy="132.30" r="1.95" fill="#1d1e5a" stroke="#0c0d33" stroke-width="0.3" />
<circle cx="108.40" cy="129.40" r="1.95" fill="#1d1e5a" stroke="#0c0d33" stroke-width="0.3" />
<circle cx="113.60" cy="128.80" r="1.95" fill="#1d1e5a" stroke="#0c0d33" stroke-width="0.3" />
<circle cx="115.90" cy="126.50" r="1.95" fill="#1d1e5a" stroke="#0c0d33" stroke-width="0.3" />
<circle cx="119.40" cy="123.10" r="1.95" fill="#1d1e5a" stroke="#0c0d33" stroke-width="0.3" />
<circle cx="118.30" cy="126.50" r="1.95" fill="#1d1e5a" stroke="#0c0d33" stroke-width="0.3" />
<circle cx="117.70" cy="130.00" r="1.95" fill="#1d1e5a" stroke="#0c0d33" stroke-width="0.3" />
<circle cx="120.60" cy="132.90" r="1.95" fill="#1d1e5a" stroke="#0c0d33" stroke-width="0.3" />
<circle cx="78.50" cy="138.10" r="1.95" fill="#1d1e5a" stroke="#0c0d33" stroke-width="0.3" />
<circle cx="84.20" cy="141.50" r="1.95" fill="#1d1e5a" stroke="#0c0d33" stroke-width="0.3" />
<circle cx="92.30" cy="141.50" r="1.95" fill="#1d1e5a" stroke="#0c0d33" stroke-width="0.3" />
<circle cx="99.20" cy="141.50" r="1.95" fill="#1d1e5a" stroke="#0c0d33" stroke-width="0.3" />
<circle cx="99.20" cy="145.00" r="1.95" fill="#1d1e5a" stroke="#0c0d33" stroke-width="0.3" />
<circle cx="105.60" cy="143.30" r="1.95" fill="#1d1e5a" stroke="#0c0d33" stroke-width="0.3" />
<circle cx="111.90" cy="139.20" r="1.95" fill="#1d1e5a" stroke="#0c0d33" stroke-width="0.3" />
<circle cx="117.70" cy="143.30" r="1.95" fill="#1d1e5a" stroke="#0c0d33" stroke-width="0.3" />
<circle cx="120.60" cy="142.70" r="1.95" fill="#1d1e5a" stroke="#0c0d33" stroke-width="0.3" />
<circle cx="121.70" cy="145.00" r="1.95" fill="#1d1e5a" stroke="#0c0d33" stroke-width="0.3" />
<circle cx="114.20" cy="145.60" r="1.95" fill="#1d1e5a" stroke="#0c0d33" stroke-width="0.3" />
<circle cx="111.90" cy="147.90" r="1.95" fill="#1d1e5a" stroke="#0c0d33" stroke-width="0.3" />
<circle cx="109.60" cy="149.60" r="1.95" fill="#1d1e5a" stroke="#0c0d33" stroke-width="0.3" />
<circle cx="116.50" cy="148.40" r="1.95" fill="#1d1e5a" stroke="#0c0d33" stroke-width="0.3" />
<circle cx="118.80" cy="147.30" r="1.95" fill="#1d1e5a" stroke="#0c0d33" stroke-width="0.3" />
<circle cx="122.30" cy="148.40" r="1.95" fill="#1d1e5a" stroke="#0c0d33" stroke-width="0.3" />
<circle cx="120.60" cy="150.20" r="1.95" fill="#1d1e5a" stroke="#0c0d33" stroke-width="0.3" />
<circle cx="114.20" cy="151.30" r="1.95" fill="#1d1e5a" stroke="#0c0d33" stroke-width="0.3" />
<circle cx="109.60" cy="154.20" r="1.95" fill="#1d1e5a" stroke="#0c0d33" stroke-width="0.3" />
<circle cx="122.90" cy="151.90" r="1.95" fill="#1d1e5a" stroke="#0c0d33" stroke-width="0.3" />
<circle cx="96.30" cy="149.60" r="1.95" fill="#1d1e5a" stroke="#0c0d33" stroke-width="0.3" />
<circle cx="105.00" cy="150.80" r="1.95" fill="#1d1e5a" stroke="#0c0d33" stroke-width="0.3" />
<circle cx="96.90" cy="154.80" r="1.95" fill="#1d1e5a" stroke="#0c0d33" stroke-width="0.3" />
<circle cx="102.70" cy="154.20" r="1.95" fill="#1d1e5a" stroke="#0c0d33" stroke-width="0.3" />
<circle cx="96.30" cy="157.10" r="1.95" fill="#1d1e5a" stroke="#0c0d33" stroke-width="0.3" />
<circle cx="78.50" cy="154.80" r="1.95" fill="#1d1e5a" stroke="#0c0d33" stroke-width="0.3" />
<circle cx="86.50" cy="156.50" r="1.95" fill="#1d1e5a" stroke="#0c0d33" stroke-width="0.3" />
<circle cx="92.30" cy="159.40" r="1.95" fill="#1d1e5a" stroke="#0c0d33" stroke-width="0.3" />
<circle cx="90.00" cy="161.10" r="1.95" fill="#1d1e5a" stroke="#0c0d33" stroke-width="0.3" />
<circle cx="96.30" cy="161.10" r="1.95" fill="#1d1e5a" stroke="#0c0d33" stroke-width="0.3" />
<circle cx="99.80" cy="161.70" r="1.95" fill="#1d1e5a" stroke="#0c0d33" stroke-width="0.3" />
<circle cx="103.30" cy="161.70" r="1.95" fill="#1d1e5a" stroke="#0c0d33" stroke-width="0.3" />
<circle cx="102.70" cy="164.00" r="1.95" fill="#1d1e5a" stroke="#0c0d33" stroke-width="0.3" />
<circle cx="111.90" cy="164.00" r="1.95" fill="#1d1e5a" stroke="#0c0d33" stroke-width="0.3" />
<circle cx="120.60" cy="157.70" r="1.95" fill="#1d1e5a" stroke="#0c0d33" stroke-width="0.3" />
<circle cx="121.70" cy="159.40" r="1.95" fill="#1d1e5a" stroke="#0c0d33" stroke-width="0.3" />
<circle cx="123.40" cy="161.10" r="1.95" fill="#1d1e5a" stroke="#0c0d33" stroke-width="0.3" />
<circle cx="57.70" cy="136.30" r="1.95" fill="#1d1e5a" stroke="#0c0d33" stroke-width="0.3" />
<circle cx="74.60" cy="139.20" r="1.95" fill="#1d1e5a" stroke="#0c0d33" stroke-width="0.3" />
<circle cx="70.80" cy="155.60" r="1.95" fill="#1d1e5a" stroke="#0c0d33" stroke-width="0.3" />
<circle cx="86.20" cy="156.50" r="1.95" fill="#1d1e5a" stroke="#0c0d33" stroke-width="0.3" />
<circle cx="95.80" cy="155.60" r="1.95" fill="#1d1e5a" stroke="#0c0d33" stroke-width="0.3" />
<circle cx="88.00" cy="164.20" r="1.95" fill="#1d1e5a" stroke="#0c0d33" stroke-width="0.3" />
<circle cx="93.80" cy="162.30" r="1.95" fill="#1d1e5a" stroke="#0c0d33" stroke-width="0.3" />
<circle cx="101.50" cy="161.30" r="1.95" fill="#1d1e5a" stroke="#0c0d33" stroke-width="0.3" />
<circle cx="113.00" cy="152.70" r="1.95" fill="#1d1e5a" stroke="#0c0d33" stroke-width="0.3" />
<circle cx="120.80" cy="158.50" r="1.95" fill="#1d1e5a" stroke="#0c0d33" stroke-width="0.3" />
<circle cx="122.70" cy="160.40" r="1.95" fill="#1d1e5a" stroke="#0c0d33" stroke-width="0.3" />
<circle cx="112.00" cy="164.20" r="1.95" fill="#1d1e5a" stroke="#0c0d33" stroke-width="0.3" />
<circle cx="161.30" cy="117.30" r="1.8" fill="#c4532b" stroke="#7e3115" stroke-width="0.4" />
<circle cx="163.60" cy="116.10" r="1.8" fill="#c4532b" stroke="#7e3115" stroke-width="0.4" />
<circle cx="166.30" cy="114.90" r="1.8" fill="#c4532b" stroke="#7e3115" stroke-width="0.4" />
<circle cx="160.80" cy="124.80" r="1.8" fill="#c4532b" stroke="#7e3115" stroke-width="0.4" />
<circle cx="166.00" cy="136.00" r="1.8" fill="#c4532b" stroke="#7e3115" stroke-width="0.4" />
<circle cx="186.70" cy="138.60" r="1.8" fill="#c4532b" stroke="#7e3115" stroke-width="0.4" />
<circle cx="164.20" cy="147.00" r="1.8" fill="#c4532b" stroke="#7e3115" stroke-width="0.4" />
<circle cx="196.50" cy="156.30" r="1.8" fill="#c4532b" stroke="#7e3115" stroke-width="0.4" />
<circle cx="234.50" cy="134.50" r="1.8" fill="#c4532b" stroke="#7e3115" stroke-width="0.4" />
<circle cx="235.90" cy="142.90" r="1.8" fill="#c4532b" stroke="#7e3115" stroke-width="0.4" />
<line x1="90.00" y1="79.00" x2="93.80" y2="89.10" stroke="#333" stroke-width="0.5" />
<line x1="104.30" y1="72.20" x2="105.40" y2="78.00" stroke="#333" stroke-width="0.5" />
<line x1="70.00" y1="142.00" x2="78.50" y2="138.10" stroke="#333" stroke-width="0.5" />
<line x1="57.70" y1="136.30" x2="52.00" y2="140.00" stroke="#333" stroke-width="0.5" />
<line x1="76.00" y1="130.00" x2="81.90" y2="132.30" stroke="#333" stroke-width="0.5" />
<line x1="98.00" y1="140.20" x2="99.20" y2="141.50" stroke="#333" stroke-width="0.5" />
<rect x="78.50" y="30.60" width="24.00" height="6.70" rx="1.5" fill="#fff" stroke="#333" stroke-width="0.85"/>
<text x="90.50" y="36.06" font-size="5.7" fill="#333" text-anchor="middle" textLength="21.00" lengthAdjust="spacingAndGlyphs" >SACM1L</text>
<rect x="106.70" y="54.20" width="22.70" height="7.10" rx="1.5" fill="#fff" stroke="#333" stroke-width="0.85"/>
<text x="118.05" y="59.86" font-size="5.7" fill="#333" text-anchor="middle" textLength="19.70" lengthAdjust="spacingAndGlyphs" >ATP2A3</text>
<rect x="80.50" y="64.20" width="21.70" height="6.40" rx="1.5" fill="#fff" stroke="#333" stroke-width="0.85"/>
<text x="91.35" y="69.51" font-size="5.7" fill="#333" text-anchor="middle" textLength="18.70" lengthAdjust="spacingAndGlyphs" >ATP2A2</text>
<rect x="75.60" y="72.20" width="19.70" height="6.80" rx="1.5" fill="#fff" stroke="#333" stroke-width="0.85"/>
<text x="85.45" y="77.71" font-size="5.7" fill="#333" text-anchor="middle" textLength="16.70" lengthAdjust="spacingAndGlyphs" >VDAC3</text>
<rect x="105.40" y="72.20" width="22.00" height="6.80" rx="1.5" fill="#fff" stroke="#333" stroke-width="0.85"/>
<text x="116.40" y="77.71" font-size="5.7" fill="#333" text-anchor="middle" textLength="19.00" lengthAdjust="spacingAndGlyphs" >TBXAS1</text>
<rect x="90.60" y="81.20" width="17.40" height="6.30" rx="1.5" fill="#fff" stroke="#333" stroke-width="0.85"/>
<text x="99.30" y="86.46" font-size="5.7" fill="#333" text-anchor="middle" textLength="14.40" lengthAdjust="spacingAndGlyphs" >CANX</text>
<rect x="111.70" y="81.20" width="21.70" height="6.30" rx="1.5" fill="#fff" stroke="#333" stroke-width="0.85"/>
<text x="122.55" y="86.46" font-size="5.7" fill="#333" text-anchor="middle" textLength="18.70" lengthAdjust="spacingAndGlyphs" >CYB5R3</text>
<rect x="64.00" y="88.40" width="26.60" height="6.40" rx="1.5" fill="#fff" stroke="#333" stroke-width="0.85"/>
<text x="77.30" y="93.71" font-size="5.7" fill="#333" text-anchor="middle" textLength="23.60" lengthAdjust="spacingAndGlyphs" >ABHD16A</text>
<rect x="111.70" y="89.60" width="19.10" height="6.40" rx="1.5" fill="#fff" stroke="#333" stroke-width="0.85"/>
<text x="121.25" y="94.91" font-size="5.7" fill="#333" text-anchor="middle" textLength="16.10" lengthAdjust="spacingAndGlyphs" >RDH11</text>
<rect x="73.60" y="96.50" width="17.20" height="6.40" rx="1.5" fill="#fff" stroke="#333" stroke-width="0.85"/>
<text x="82.20" y="101.81" font-size="5.7" fill="#333" text-anchor="middle" textLength="14.20" lengthAdjust="spacingAndGlyphs" >RPN1</text>
<rect x="92.70" y="96.20" width="16.90" height="6.70" rx="1.5" fill="#fff" stroke="#333" stroke-width="0.85"/>
<text x="101.15" y="101.66" font-size="5.7" fill="#333" text-anchor="middle" textLength="13.90" lengthAdjust="spacingAndGlyphs" >MLEC</text>
<rect x="116.50" y="97.80" width="19.10" height="6.60" rx="1.5" fill="#fff" stroke="#333" stroke-width="0.85"/>
<text x="126.05" y="103.21" font-size="5.7" fill="#333" text-anchor="middle" textLength="16.10" lengthAdjust="spacingAndGlyphs" >DDOST</text>
<rect x="91.10" y="105.00" width="17.50" height="6.60" rx="1.5" fill="#fff" stroke="#333" stroke-width="0.85"/>
<text x="99.85" y="110.41" font-size="5.7" fill="#333" text-anchor="middle" textLength="14.50" lengthAdjust="spacingAndGlyphs" >RTN4</text>
<rect x="64.60" y="107.80" width="25.20" height="6.50" rx="1.5" fill="#fff" stroke="#333" stroke-width="0.85"/>
<text x="77.20" y="113.16" font-size="5.7" fill="#333" text-anchor="middle" textLength="22.20" lengthAdjust="spacingAndGlyphs" >SLC25A6</text>
<rect x="116.00" y="109.40" width="17.60" height="6.60" rx="1.5" fill="#fff" stroke="#333" stroke-width="0.85"/>
<text x="124.80" y="114.81" font-size="5.7" fill="#333" text-anchor="middle" textLength="14.60" lengthAdjust="spacingAndGlyphs" >STIM1</text>
<rect x="73.60" y="117.20" width="16.80" height="6.00" rx="1.5" fill="#fff" stroke="#333" stroke-width="0.85"/>
<text x="82.00" y="122.31" font-size="5.7" fill="#333" text-anchor="middle" textLength="13.80" lengthAdjust="spacingAndGlyphs" >TAP1</text>
<rect x="92.00" y="117.20" width="18.20" height="6.20" rx="1.5" fill="#fff" stroke="#333" stroke-width="0.85"/>
<text x="101.10" y="122.41" font-size="5.7" fill="#333" text-anchor="middle" textLength="15.20" lengthAdjust="spacingAndGlyphs" >VDAC2</text>
<rect x="47.70" y="120.60" width="24.00" height="6.00" rx="1.5" fill="#fff" stroke="#333" stroke-width="0.85"/>
<text x="59.70" y="125.71" font-size="5.7" fill="#333" text-anchor="middle" textLength="21.00" lengthAdjust="spacingAndGlyphs" >SLC25A3</text>
<rect x="62.70" y="128.00" width="14.80" height="6.40" rx="1.5" fill="#fff" stroke="#333" stroke-width="0.85"/>
<text x="70.10" y="133.31" font-size="5.7" fill="#333" text-anchor="middle" textLength="11.80" lengthAdjust="spacingAndGlyphs" >TAP2</text>
<rect x="83.30" y="133.80" width="19.20" height="6.40" rx="1.5" fill="#fff" stroke="#333" stroke-width="0.85"/>
<text x="92.90" y="139.11" font-size="5.7" fill="#333" text-anchor="middle" textLength="16.20" lengthAdjust="spacingAndGlyphs" >CPT1A</text>
<rect x="46.70" y="139.20" width="23.10" height="6.00" rx="1.5" fill="#fff" stroke="#333" stroke-width="0.85"/>
<text x="58.25" y="144.31" font-size="5.7" fill="#333" text-anchor="middle" textLength="20.10" lengthAdjust="spacingAndGlyphs" >ATP5F1</text>
<rect x="68.80" y="143.20" width="13.90" height="6.60" rx="1.5" fill="#fff" stroke="#333" stroke-width="0.85"/>
<text x="75.75" y="148.61" font-size="5.7" fill="#333" text-anchor="middle" textLength="10.90" lengthAdjust="spacingAndGlyphs" >NNT</text>
<rect x="50.60" y="152.30" width="16.40" height="6.20" rx="1.5" fill="#fff" stroke="#333" stroke-width="0.85"/>
<text x="58.80" y="157.51" font-size="5.7" fill="#333" text-anchor="middle" textLength="13.40" lengthAdjust="spacingAndGlyphs" >RTN3</text>
<rect x="60.40" y="162.20" width="16.10" height="5.60" rx="1.5" fill="#fff" stroke="#333" stroke-width="0.85"/>
<text x="68.45" y="167.11" font-size="5.7" fill="#333" text-anchor="middle" textLength="13.10" lengthAdjust="spacingAndGlyphs" >CBR2</text>
<rect x="167.50" y="108.70" width="11.70" height="6.70" rx="1.5" fill="#fff" stroke="#333" stroke-width="0.85"/>
<text x="173.35" y="114.16" font-size="5.7" fill="#333" text-anchor="middle" textLength="7.98" lengthAdjust="spacingAndGlyphs" >TF</text>
<rect x="146.30" y="116.70" width="12.70" height="6.70" rx="1.5" fill="#fff" stroke="#333" stroke-width="0.85"/>
<text x="152.65" y="122.16" font-size="5.7" fill="#333" text-anchor="middle" textLength="9.70" lengthAdjust="spacingAndGlyphs" >ALB</text>
<rect x="152.10" y="126.50" width="11.50" height="6.70" rx="1.5" fill="#fff" stroke="#333" stroke-width="0.85"/>
<text x="157.85" y="131.96" font-size="5.7" fill="#333" text-anchor="middle" textLength="7.98" lengthAdjust="spacingAndGlyphs" >C3</text>
<rect x="158.50" y="135.80" width="19.50" height="6.80" rx="1.5" fill="#fff" stroke="#333" stroke-width="0.85"/>
<text x="168.25" y="141.31" font-size="5.7" fill="#333" text-anchor="middle" textLength="16.50" lengthAdjust="spacingAndGlyphs" >APOA1</text>
<rect x="173.40" y="139.80" width="16.20" height="6.70" rx="1.5" fill="#fff" stroke="#333" stroke-width="0.85"/>
<text x="181.50" y="145.26" font-size="5.7" fill="#333" text-anchor="middle" textLength="13.20" lengthAdjust="spacingAndGlyphs" >ITIH4</text>
<rect x="152.70" y="146.70" width="10.90" height="6.70" rx="1.5" fill="#fff" stroke="#333" stroke-width="0.85"/>
<text x="158.15" y="152.16" font-size="5.7" fill="#333" text-anchor="middle" textLength="7.90" lengthAdjust="spacingAndGlyphs" >GC</text>
<rect x="152.70" y="154.80" width="16.10" height="6.40" rx="1.5" fill="#fff" stroke="#333" stroke-width="0.85"/>
<text x="160.75" y="160.11" font-size="5.7" fill="#333" text-anchor="middle" textLength="13.10" lengthAdjust="spacingAndGlyphs" >IGKC</text>
<rect x="186.00" y="147.80" width="18.20" height="7.20" rx="1.5" fill="#fff" stroke="#333" stroke-width="0.85"/>
<text x="195.10" y="153.51" font-size="5.7" fill="#333" text-anchor="middle" textLength="15.20" lengthAdjust="spacingAndGlyphs" >GYG1</text>
<rect x="176.50" y="159.80" width="14.90" height="7.00" rx="1.5" fill="#fff" stroke="#333" stroke-width="0.85"/>
<text x="183.95" y="165.41" font-size="5.7" fill="#333" text-anchor="middle" textLength="11.90" lengthAdjust="spacingAndGlyphs" >H2BX</text>
<rect x="210.70" y="130.60" width="21.80" height="7.40" rx="1.5" fill="#fff" stroke="#333" stroke-width="0.85"/>
<text x="221.60" y="136.41" font-size="5.7" fill="#333" text-anchor="middle" textLength="18.80" lengthAdjust="spacingAndGlyphs" >S100A8</text>
<rect x="221.70" y="139.20" width="11.90" height="6.80" rx="1.5" fill="#fff" stroke="#333" stroke-width="0.85"/>
<text x="227.65" y="144.71" font-size="5.7" fill="#333" text-anchor="middle" textLength="7.98" lengthAdjust="spacingAndGlyphs" >HP</text>
<line x1="124.50" y1="27.60" x2="124.50" y2="184.00" stroke="#000" stroke-width="1.2" stroke-dasharray="5 5" stroke-dashoffset="2.9"/>
<line x1="159.50" y1="27.60" x2="159.50" y2="184.00" stroke="#000" stroke-width="1.2" stroke-dasharray="5 5" stroke-dashoffset="2.9"/>
<line x1="46.00" y1="164.50" x2="237.50" y2="164.50" stroke="#000" stroke-width="1.2" stroke-dasharray="5 5" stroke-dashoffset="5.3"/>
<line x1="45.50" y1="28.00" x2="45.50" y2="185.10" stroke="#111" stroke-width="1.25" />
<line x1="44.80" y1="184.50" x2="237.00" y2="184.50" stroke="#111" stroke-width="1.25" />
<line x1="42.20" y1="177.50" x2="45.40" y2="177.50" stroke="#111" stroke-width="1.0" />
<text x="38.40" y="180.20" font-size="7.5" fill="#222" text-anchor="end" stroke="#222" stroke-width="0.15">0</text>
<line x1="42.20" y1="128.50" x2="45.40" y2="128.50" stroke="#111" stroke-width="1.0" />
<text x="38.40" y="131.20" font-size="7.5" fill="#222" text-anchor="end" stroke="#222" stroke-width="0.15">5</text>
<line x1="42.20" y1="79.50" x2="45.40" y2="79.50" stroke="#111" stroke-width="1.0" />
<text x="38.40" y="82.20" font-size="7.5" fill="#222" text-anchor="end" stroke="#222" stroke-width="0.15">10</text>
<line x1="42.20" y1="30.50" x2="45.40" y2="30.50" stroke="#111" stroke-width="1.0" />
<text x="38.40" y="33.20" font-size="7.5" fill="#222" text-anchor="end" stroke="#222" stroke-width="0.15">15</text>
<line x1="54.50" y1="184.50" x2="54.50" y2="187.70" stroke="#111" stroke-width="1.0" />
<text x="52.80" y="199.10" font-size="7.5" fill="#222" text-anchor="middle" stroke="#222" stroke-width="0.15">−5</text>
<line x1="71.50" y1="184.50" x2="71.50" y2="187.70" stroke="#111" stroke-width="1.0" />
<text x="70.20" y="199.10" font-size="7.5" fill="#222" text-anchor="middle" stroke="#222" stroke-width="0.15">−4</text>
<line x1="89.50" y1="184.50" x2="89.50" y2="187.70" stroke="#111" stroke-width="1.0" />
<text x="87.60" y="199.10" font-size="7.5" fill="#222" text-anchor="middle" stroke="#222" stroke-width="0.15">−3</text>
<line x1="106.50" y1="184.50" x2="106.50" y2="187.70" stroke="#111" stroke-width="1.0" />
<text x="105.00" y="199.10" font-size="7.5" fill="#222" text-anchor="middle" stroke="#222" stroke-width="0.15">−2</text>
<line x1="124.50" y1="184.50" x2="124.50" y2="187.70" stroke="#111" stroke-width="1.0" />
<text x="122.40" y="199.10" font-size="7.5" fill="#222" text-anchor="middle" stroke="#222" stroke-width="0.15">−1</text>
<line x1="141.50" y1="184.50" x2="141.50" y2="187.70" stroke="#111" stroke-width="1.0" />
<text x="141.40" y="199.10" font-size="7.5" fill="#222" text-anchor="middle" stroke="#222" stroke-width="0.15">0</text>
<line x1="158.50" y1="184.50" x2="158.50" y2="187.70" stroke="#111" stroke-width="1.0" />
<text x="158.80" y="199.10" font-size="7.5" fill="#222" text-anchor="middle" stroke="#222" stroke-width="0.15">1</text>
<line x1="176.50" y1="184.50" x2="176.50" y2="187.70" stroke="#111" stroke-width="1.0" />
<text x="176.20" y="199.10" font-size="7.5" fill="#222" text-anchor="middle" stroke="#222" stroke-width="0.15">2</text>
<line x1="193.50" y1="184.50" x2="193.50" y2="187.70" stroke="#111" stroke-width="1.0" />
<text x="193.60" y="199.10" font-size="7.5" fill="#222" text-anchor="middle" stroke="#222" stroke-width="0.15">3</text>
<line x1="211.50" y1="184.50" x2="211.50" y2="187.70" stroke="#111" stroke-width="1.0" />
<text x="211.00" y="199.10" font-size="7.5" fill="#222" text-anchor="middle" stroke="#222" stroke-width="0.15">4</text>
<line x1="228.50" y1="184.50" x2="228.50" y2="187.70" stroke="#111" stroke-width="1.0" />
<text x="228.40" y="199.10" font-size="7.5" fill="#222" text-anchor="middle" stroke="#222" stroke-width="0.15">5</text>
<text x="141.00" y="21.00" font-size="8.4" fill="#1a1a1a" text-anchor="middle" stroke="#1a1a1a" stroke-width="0.15">A-II-1</text>
<text x="14.60" y="20.60" font-size="14.0" fill="#111" text-anchor="start" font-weight="bold" >A</text>
<text x="23.20" y="106.50" font-size="8.2" fill="#222" text-anchor="middle" textLength="60" lengthAdjust="spacingAndGlyphs" transform="rotate(-90 23.20 106.50)" stroke="#222" stroke-width="0.22">-log10(adj.<tspan font-style="italic">P</tspan>-value)</text>
<text x="141.40" y="212.00" font-size="8.4" fill="#222" text-anchor="middle" textLength="52" lengthAdjust="spacingAndGlyphs" stroke="#222" stroke-width="0.22">log2(foldchange)</text>
<circle cx="463.99" cy="173.47" r="2.0" fill="#f6f8fa" stroke="#727a85" stroke-width="0.6" />
<circle cx="374.27" cy="178.48" r="2.0" fill="#f6f8fa" stroke="#727a85" stroke-width="0.6" />
<circle cx="389.69" cy="164.87" r="2.0" fill="#f6f8fa" stroke="#727a85" stroke-width="0.6" />
<circle cx="434.54" cy="168.36" r="2.0" fill="#f6f8fa" stroke="#727a85" stroke-width="0.6" />
<circle cx="457.40" cy="172.23" r="2.0" fill="#f6f8fa" stroke="#727a85" stroke-width="0.6" />
<circle cx="464.11" cy="174.55" r="2.0" fill="#f6f8fa" stroke="#727a85" stroke-width="0.6" />
<circle cx="429.71" cy="177.45" r="2.0" fill="#f6f8fa" stroke="#727a85" stroke-width="0.6" />
<circle cx="437.78" cy="177.32" r="2.0" fill="#f6f8fa" stroke="#727a85" stroke-width="0.6" />
<circle cx="439.98" cy="163.75" r="2.0" fill="#f6f8fa" stroke="#727a85" stroke-width="0.6" />
<circle cx="456.61" cy="175.04" r="2.0" fill="#f6f8fa" stroke="#727a85" stroke-width="0.6" />
<circle cx="401.83" cy="165.95" r="2.0" fill="#f6f8fa" stroke="#727a85" stroke-width="0.6" />
<circle cx="453.58" cy="174.54" r="2.0" fill="#f6f8fa" stroke="#727a85" stroke-width="0.6" />
<circle cx="462.05" cy="177.02" r="2.0" fill="#f6f8fa" stroke="#727a85" stroke-width="0.6" />
<circle cx="464.27" cy="176.00" r="2.0" fill="#f6f8fa" stroke="#727a85" stroke-width="0.6" />
<circle cx="439.04" cy="172.49" r="2.0" fill="#f6f8fa" stroke="#727a85" stroke-width="0.6" />
<circle cx="396.81" cy="177.83" r="2.0" fill="#f6f8fa" stroke="#727a85" stroke-width="0.6" />
<circle cx="402.00" cy="175.11" r="2.0" fill="#f6f8fa" stroke="#727a85" stroke-width="0.6" />
<circle cx="463.64" cy="176.41" r="2.0" fill="#f6f8fa" stroke="#727a85" stroke-width="0.6" />
<circle cx="385.65" cy="175.79" r="2.0" fill="#f6f8fa" stroke="#727a85" stroke-width="0.6" />
<circle cx="436.08" cy="165.87" r="2.0" fill="#f6f8fa" stroke="#727a85" stroke-width="0.6" />
<circle cx="376.72" cy="173.12" r="2.0" fill="#f6f8fa" stroke="#727a85" stroke-width="0.6" />
<circle cx="375.10" cy="177.64" r="2.0" fill="#f6f8fa" stroke="#727a85" stroke-width="0.6" />
<circle cx="420.60" cy="171.02" r="2.0" fill="#f6f8fa" stroke="#727a85" stroke-width="0.6" />
<circle cx="411.31" cy="174.94" r="2.0" fill="#f6f8fa" stroke="#727a85" stroke-width="0.6" />
<circle cx="459.98" cy="173.47" r="2.0" fill="#f6f8fa" stroke="#727a85" stroke-width="0.6" />
<circle cx="407.88" cy="174.12" r="2.0" fill="#f6f8fa" stroke="#727a85" stroke-width="0.6" />
<circle cx="400.54" cy="172.23" r="2.0" fill="#f6f8fa" stroke="#727a85" stroke-width="0.6" />
<circle cx="424.14" cy="169.72" r="2.0" fill="#f6f8fa" stroke="#727a85" stroke-width="0.6" />
<circle cx="436.63" cy="171.19" r="2.0" fill="#f6f8fa" stroke="#727a85" stroke-width="0.6" />
<circle cx="380.46" cy="178.45" r="2.0" fill="#f6f8fa" stroke="#727a85" stroke-width="0.6" />
<circle cx="406.15" cy="172.53" r="2.0" fill="#f6f8fa" stroke="#727a85" stroke-width="0.6" />
<circle cx="410.67" cy="177.76" r="2.0" fill="#f6f8fa" stroke="#727a85" stroke-width="0.6" />
<circle cx="463.41" cy="175.54" r="2.0" fill="#f6f8fa" stroke="#727a85" stroke-width="0.6" />
<circle cx="410.46" cy="169.01" r="2.0" fill="#f6f8fa" stroke="#727a85" stroke-width="0.6" />
<circle cx="457.97" cy="171.90" r="2.0" fill="#f6f8fa" stroke="#727a85" stroke-width="0.6" />
<circle cx="424.48" cy="168.41" r="2.0" fill="#f6f8fa" stroke="#727a85" stroke-width="0.6" />
<circle cx="403.52" cy="171.75" r="2.0" fill="#f6f8fa" stroke="#727a85" stroke-width="0.6" />
<circle cx="390.36" cy="163.57" r="2.0" fill="#f6f8fa" stroke="#727a85" stroke-width="0.6" />
<circle cx="423.40" cy="175.34" r="2.0" fill="#f6f8fa" stroke="#727a85" stroke-width="0.6" />
<circle cx="434.12" cy="166.12" r="2.0" fill="#f6f8fa" stroke="#727a85" stroke-width="0.6" />
<circle cx="438.59" cy="163.81" r="2.0" fill="#f6f8fa" stroke="#727a85" stroke-width="0.6" />
<circle cx="411.43" cy="176.70" r="2.0" fill="#f6f8fa" stroke="#727a85" stroke-width="0.6" />
<circle cx="460.42" cy="174.67" r="2.0" fill="#f6f8fa" stroke="#727a85" stroke-width="0.6" />
<circle cx="453.27" cy="173.68" r="2.0" fill="#f6f8fa" stroke="#727a85" stroke-width="0.6" />
<circle cx="422.30" cy="172.06" r="2.0" fill="#f6f8fa" stroke="#727a85" stroke-width="0.6" />
<circle cx="467.16" cy="177.28" r="2.0" fill="#f6f8fa" stroke="#727a85" stroke-width="0.6" />
<circle cx="417.41" cy="174.27" r="2.0" fill="#f6f8fa" stroke="#727a85" stroke-width="0.6" />
<circle cx="433.75" cy="168.48" r="2.0" fill="#f6f8fa" stroke="#727a85" stroke-width="0.6" />
<circle cx="447.28" cy="176.39" r="2.0" fill="#f6f8fa" stroke="#727a85" stroke-width="0.6" />
<circle cx="430.41" cy="177.61" r="2.0" fill="#f6f8fa" stroke="#727a85" stroke-width="0.6" />
<circle cx="373.75" cy="172.75" r="2.0" fill="#f6f8fa" stroke="#727a85" stroke-width="0.6" />
<circle cx="432.92" cy="168.28" r="2.0" fill="#f6f8fa" stroke="#727a85" stroke-width="0.6" />
<circle cx="388.45" cy="173.73" r="2.0" fill="#f6f8fa" stroke="#727a85" stroke-width="0.6" />
<circle cx="413.70" cy="170.82" r="2.0" fill="#f6f8fa" stroke="#727a85" stroke-width="0.6" />
<circle cx="376.02" cy="178.12" r="2.0" fill="#f6f8fa" stroke="#727a85" stroke-width="0.6" />
<circle cx="405.82" cy="169.24" r="2.0" fill="#f6f8fa" stroke="#727a85" stroke-width="0.6" />
<circle cx="392.77" cy="166.95" r="2.0" fill="#f6f8fa" stroke="#727a85" stroke-width="0.6" />
<circle cx="455.15" cy="171.17" r="2.0" fill="#f6f8fa" stroke="#727a85" stroke-width="0.6" />
<circle cx="398.53" cy="164.51" r="2.0" fill="#f6f8fa" stroke="#727a85" stroke-width="0.6" />
<circle cx="417.12" cy="166.22" r="2.0" fill="#f6f8fa" stroke="#727a85" stroke-width="0.6" />
<circle cx="405.04" cy="175.72" r="2.0" fill="#f6f8fa" stroke="#727a85" stroke-width="0.6" />
<circle cx="460.81" cy="177.34" r="2.0" fill="#f6f8fa" stroke="#727a85" stroke-width="0.6" />
<circle cx="375.68" cy="171.34" r="2.0" fill="#f6f8fa" stroke="#727a85" stroke-width="0.6" />
<circle cx="453.50" cy="169.29" r="2.0" fill="#f6f8fa" stroke="#727a85" stroke-width="0.6" />
<circle cx="391.51" cy="170.59" r="2.0" fill="#f6f8fa" stroke="#727a85" stroke-width="0.6" />
<circle cx="408.71" cy="175.88" r="2.0" fill="#f6f8fa" stroke="#727a85" stroke-width="0.6" />
<circle cx="440.94" cy="170.20" r="2.0" fill="#f6f8fa" stroke="#727a85" stroke-width="0.6" />
<circle cx="395.91" cy="166.58" r="2.0" fill="#f6f8fa" stroke="#727a85" stroke-width="0.6" />
<circle cx="397.56" cy="164.01" r="2.0" fill="#f6f8fa" stroke="#727a85" stroke-width="0.6" />
<circle cx="435.91" cy="165.45" r="2.0" fill="#f6f8fa" stroke="#727a85" stroke-width="0.6" />
<circle cx="457.38" cy="175.61" r="2.0" fill="#f6f8fa" stroke="#727a85" stroke-width="0.6" />
<circle cx="377.45" cy="172.74" r="2.0" fill="#f6f8fa" stroke="#727a85" stroke-width="0.6" />
<circle cx="429.95" cy="163.65" r="2.0" fill="#f6f8fa" stroke="#727a85" stroke-width="0.6" />
<circle cx="418.73" cy="163.46" r="2.0" fill="#f6f8fa" stroke="#727a85" stroke-width="0.6" />
<circle cx="445.56" cy="166.25" r="2.0" fill="#f6f8fa" stroke="#727a85" stroke-width="0.6" />
<circle cx="432.67" cy="178.28" r="2.0" fill="#f6f8fa" stroke="#727a85" stroke-width="0.6" />
<circle cx="453.25" cy="171.13" r="2.0" fill="#f6f8fa" stroke="#727a85" stroke-width="0.6" />
<circle cx="423.32" cy="165.17" r="2.0" fill="#f6f8fa" stroke="#727a85" stroke-width="0.6" />
<circle cx="404.86" cy="177.07" r="2.0" fill="#f6f8fa" stroke="#727a85" stroke-width="0.6" />
<circle cx="450.50" cy="168.02" r="2.0" fill="#f6f8fa" stroke="#727a85" stroke-width="0.6" />
<circle cx="408.47" cy="174.72" r="2.0" fill="#f6f8fa" stroke="#727a85" stroke-width="0.6" />
<circle cx="388.85" cy="175.44" r="2.0" fill="#f6f8fa" stroke="#727a85" stroke-width="0.6" />
<circle cx="457.74" cy="174.89" r="2.0" fill="#f6f8fa" stroke="#727a85" stroke-width="0.6" />
<circle cx="406.76" cy="176.91" r="2.0" fill="#f6f8fa" stroke="#727a85" stroke-width="0.6" />
<circle cx="421.23" cy="165.92" r="2.0" fill="#f6f8fa" stroke="#727a85" stroke-width="0.6" />
<circle cx="398.67" cy="165.47" r="2.0" fill="#f6f8fa" stroke="#727a85" stroke-width="0.6" />
<circle cx="452.52" cy="173.66" r="2.0" fill="#f6f8fa" stroke="#727a85" stroke-width="0.6" />
<circle cx="438.88" cy="175.67" r="2.0" fill="#f6f8fa" stroke="#727a85" stroke-width="0.6" />
<circle cx="465.48" cy="174.18" r="2.0" fill="#f6f8fa" stroke="#727a85" stroke-width="0.6" />
<circle cx="410.95" cy="177.18" r="2.0" fill="#f6f8fa" stroke="#727a85" stroke-width="0.6" />
<circle cx="445.12" cy="170.86" r="2.0" fill="#f6f8fa" stroke="#727a85" stroke-width="0.6" />
<circle cx="434.95" cy="166.02" r="2.0" fill="#f6f8fa" stroke="#727a85" stroke-width="0.6" />
<circle cx="387.53" cy="163.78" r="2.0" fill="#f6f8fa" stroke="#727a85" stroke-width="0.6" />
<circle cx="408.45" cy="170.48" r="2.0" fill="#f6f8fa" stroke="#727a85" stroke-width="0.6" />
<circle cx="421.70" cy="178.03" r="2.0" fill="#f6f8fa" stroke="#727a85" stroke-width="0.6" />
<circle cx="386.68" cy="171.64" r="2.0" fill="#f6f8fa" stroke="#727a85" stroke-width="0.6" />
<circle cx="455.01" cy="174.89" r="2.0" fill="#f6f8fa" stroke="#727a85" stroke-width="0.6" />
<circle cx="422.61" cy="174.90" r="2.0" fill="#f6f8fa" stroke="#727a85" stroke-width="0.6" />
<circle cx="374.10" cy="177.91" r="2.0" fill="#f6f8fa" stroke="#727a85" stroke-width="0.6" />
<circle cx="437.90" cy="175.50" r="2.0" fill="#f6f8fa" stroke="#727a85" stroke-width="0.6" />
<circle cx="451.22" cy="169.19" r="2.0" fill="#f6f8fa" stroke="#727a85" stroke-width="0.6" />
<circle cx="378.39" cy="169.05" r="2.0" fill="#f6f8fa" stroke="#727a85" stroke-width="0.6" />
<circle cx="420.46" cy="177.54" r="2.0" fill="#f6f8fa" stroke="#727a85" stroke-width="0.6" />
<circle cx="459.29" cy="174.09" r="2.0" fill="#f6f8fa" stroke="#727a85" stroke-width="0.6" />
<circle cx="431.75" cy="174.47" r="2.0" fill="#f6f8fa" stroke="#727a85" stroke-width="0.6" />
<circle cx="403.91" cy="178.19" r="2.0" fill="#f6f8fa" stroke="#727a85" stroke-width="0.6" />
<circle cx="462.41" cy="176.75" r="2.0" fill="#f6f8fa" stroke="#727a85" stroke-width="0.6" />
<circle cx="458.54" cy="176.95" r="2.0" fill="#f6f8fa" stroke="#727a85" stroke-width="0.6" />
<circle cx="434.61" cy="167.98" r="2.0" fill="#f6f8fa" stroke="#727a85" stroke-width="0.6" />
<circle cx="399.01" cy="166.70" r="2.0" fill="#f6f8fa" stroke="#727a85" stroke-width="0.6" />
<circle cx="377.51" cy="177.65" r="2.0" fill="#f6f8fa" stroke="#727a85" stroke-width="0.6" />
<circle cx="400.64" cy="163.37" r="2.0" fill="#f6f8fa" stroke="#727a85" stroke-width="0.6" />
<circle cx="402.35" cy="164.60" r="2.0" fill="#f6f8fa" stroke="#727a85" stroke-width="0.6" />
<circle cx="414.73" cy="171.49" r="2.0" fill="#f6f8fa" stroke="#727a85" stroke-width="0.6" />
<circle cx="388.85" cy="170.39" r="2.0" fill="#f6f8fa" stroke="#727a85" stroke-width="0.6" />
<circle cx="411.83" cy="171.72" r="2.0" fill="#f6f8fa" stroke="#727a85" stroke-width="0.6" />
<circle cx="450.07" cy="171.07" r="2.0" fill="#f6f8fa" stroke="#727a85" stroke-width="0.6" />
<circle cx="423.96" cy="176.61" r="2.0" fill="#f6f8fa" stroke="#727a85" stroke-width="0.6" />
<circle cx="464.07" cy="174.86" r="2.0" fill="#f6f8fa" stroke="#727a85" stroke-width="0.6" />
<circle cx="375.89" cy="177.93" r="2.0" fill="#f6f8fa" stroke="#727a85" stroke-width="0.6" />
<circle cx="421.36" cy="166.37" r="2.0" fill="#f6f8fa" stroke="#727a85" stroke-width="0.6" />
<circle cx="384.31" cy="166.70" r="2.0" fill="#f6f8fa" stroke="#727a85" stroke-width="0.6" />
<circle cx="401.81" cy="165.15" r="2.0" fill="#f6f8fa" stroke="#727a85" stroke-width="0.6" />
<circle cx="376.71" cy="178.44" r="2.0" fill="#f6f8fa" stroke="#727a85" stroke-width="0.6" />
<circle cx="450.74" cy="169.20" r="2.0" fill="#f6f8fa" stroke="#727a85" stroke-width="0.6" />
<circle cx="418.15" cy="175.42" r="2.0" fill="#f6f8fa" stroke="#727a85" stroke-width="0.6" />
<circle cx="420.43" cy="164.07" r="2.0" fill="#f6f8fa" stroke="#727a85" stroke-width="0.6" />
<circle cx="404.61" cy="172.00" r="2.0" fill="#f6f8fa" stroke="#727a85" stroke-width="0.6" />
<circle cx="459.79" cy="175.45" r="2.0" fill="#f6f8fa" stroke="#727a85" stroke-width="0.6" />
<circle cx="416.06" cy="172.78" r="2.0" fill="#f6f8fa" stroke="#727a85" stroke-width="0.6" />
<circle cx="376.67" cy="174.89" r="2.0" fill="#f6f8fa" stroke="#727a85" stroke-width="0.6" />
<circle cx="449.57" cy="174.91" r="2.0" fill="#f6f8fa" stroke="#727a85" stroke-width="0.6" />
<circle cx="406.64" cy="171.00" r="2.0" fill="#f6f8fa" stroke="#727a85" stroke-width="0.6" />
<circle cx="372.97" cy="167.94" r="2.0" fill="#f6f8fa" stroke="#727a85" stroke-width="0.6" />
<circle cx="386.84" cy="170.03" r="2.0" fill="#f6f8fa" stroke="#727a85" stroke-width="0.6" />
<circle cx="446.72" cy="169.18" r="2.0" fill="#f6f8fa" stroke="#727a85" stroke-width="0.6" />
<circle cx="417.35" cy="172.86" r="2.0" fill="#f6f8fa" stroke="#727a85" stroke-width="0.6" />
<circle cx="432.43" cy="163.32" r="2.0" fill="#f6f8fa" stroke="#727a85" stroke-width="0.6" />
<circle cx="460.37" cy="175.55" r="2.0" fill="#f6f8fa" stroke="#727a85" stroke-width="0.6" />
<circle cx="401.11" cy="166.71" r="2.0" fill="#f6f8fa" stroke="#727a85" stroke-width="0.6" />
<circle cx="438.14" cy="177.46" r="2.0" fill="#f6f8fa" stroke="#727a85" stroke-width="0.6" />
<circle cx="404.38" cy="172.18" r="2.0" fill="#f6f8fa" stroke="#727a85" stroke-width="0.6" />
<circle cx="425.48" cy="165.71" r="2.0" fill="#f6f8fa" stroke="#727a85" stroke-width="0.6" />
<circle cx="410.96" cy="177.63" r="2.0" fill="#f6f8fa" stroke="#727a85" stroke-width="0.6" />
<circle cx="425.41" cy="175.76" r="2.0" fill="#f6f8fa" stroke="#727a85" stroke-width="0.6" />
<circle cx="397.14" cy="176.46" r="2.0" fill="#f6f8fa" stroke="#727a85" stroke-width="0.6" />
<circle cx="447.13" cy="169.40" r="2.0" fill="#f6f8fa" stroke="#727a85" stroke-width="0.6" />
<circle cx="422.88" cy="173.57" r="2.0" fill="#f6f8fa" stroke="#727a85" stroke-width="0.6" />
<circle cx="427.00" cy="172.33" r="2.0" fill="#f6f8fa" stroke="#727a85" stroke-width="0.6" />
<circle cx="395.05" cy="171.59" r="2.0" fill="#f6f8fa" stroke="#727a85" stroke-width="0.6" />
<circle cx="406.04" cy="176.38" r="2.0" fill="#f6f8fa" stroke="#727a85" stroke-width="0.6" />
<circle cx="407.78" cy="178.28" r="2.0" fill="#f6f8fa" stroke="#727a85" stroke-width="0.6" />
<circle cx="427.73" cy="166.53" r="2.0" fill="#f6f8fa" stroke="#727a85" stroke-width="0.6" />
<circle cx="411.91" cy="169.34" r="2.0" fill="#f6f8fa" stroke="#727a85" stroke-width="0.6" />
<circle cx="442.69" cy="163.71" r="2.0" fill="#f6f8fa" stroke="#727a85" stroke-width="0.6" />
<circle cx="430.07" cy="167.77" r="2.0" fill="#f6f8fa" stroke="#727a85" stroke-width="0.6" />
<circle cx="446.60" cy="168.07" r="2.0" fill="#f6f8fa" stroke="#727a85" stroke-width="0.6" />
<circle cx="437.32" cy="174.07" r="2.0" fill="#f6f8fa" stroke="#727a85" stroke-width="0.6" />
<circle cx="394.38" cy="165.02" r="2.0" fill="#f6f8fa" stroke="#727a85" stroke-width="0.6" />
<circle cx="407.76" cy="174.81" r="2.0" fill="#f6f8fa" stroke="#727a85" stroke-width="0.6" />
<circle cx="397.05" cy="163.14" r="2.0" fill="#f6f8fa" stroke="#727a85" stroke-width="0.6" />
<circle cx="414.38" cy="176.49" r="2.0" fill="#f6f8fa" stroke="#727a85" stroke-width="0.6" />
<circle cx="387.15" cy="177.58" r="2.0" fill="#f6f8fa" stroke="#727a85" stroke-width="0.6" />
<circle cx="420.79" cy="165.49" r="2.0" fill="#f6f8fa" stroke="#727a85" stroke-width="0.6" />
<circle cx="381.61" cy="168.75" r="2.0" fill="#f6f8fa" stroke="#727a85" stroke-width="0.6" />
<circle cx="417.73" cy="165.72" r="2.0" fill="#f6f8fa" stroke="#727a85" stroke-width="0.6" />
<circle cx="380.07" cy="170.77" r="2.0" fill="#f6f8fa" stroke="#727a85" stroke-width="0.6" />
<circle cx="396.39" cy="169.89" r="2.0" fill="#f6f8fa" stroke="#727a85" stroke-width="0.6" />
<circle cx="415.27" cy="175.32" r="2.0" fill="#f6f8fa" stroke="#727a85" stroke-width="0.6" />
<circle cx="427.45" cy="166.54" r="2.0" fill="#f6f8fa" stroke="#727a85" stroke-width="0.6" />
<circle cx="389.25" cy="176.31" r="2.0" fill="#f6f8fa" stroke="#727a85" stroke-width="0.6" />
<circle cx="376.85" cy="168.42" r="2.0" fill="#f6f8fa" stroke="#727a85" stroke-width="0.6" />
<circle cx="378.71" cy="176.50" r="2.0" fill="#f6f8fa" stroke="#727a85" stroke-width="0.6" />
<circle cx="423.93" cy="177.32" r="2.0" fill="#f6f8fa" stroke="#727a85" stroke-width="0.6" />
<circle cx="432.12" cy="168.20" r="2.0" fill="#f6f8fa" stroke="#727a85" stroke-width="0.6" />
<circle cx="413.33" cy="175.69" r="2.0" fill="#f6f8fa" stroke="#727a85" stroke-width="0.6" />
<circle cx="394.20" cy="175.45" r="2.0" fill="#f6f8fa" stroke="#727a85" stroke-width="0.6" />
<circle cx="411.12" cy="168.44" r="2.0" fill="#f6f8fa" stroke="#727a85" stroke-width="0.6" />
<circle cx="404.99" cy="173.88" r="2.0" fill="#f6f8fa" stroke="#727a85" stroke-width="0.6" />
<circle cx="386.07" cy="177.03" r="2.0" fill="#f6f8fa" stroke="#727a85" stroke-width="0.6" />
<circle cx="460.91" cy="175.11" r="2.0" fill="#f6f8fa" stroke="#727a85" stroke-width="0.6" />
<circle cx="458.84" cy="176.13" r="2.0" fill="#f6f8fa" stroke="#727a85" stroke-width="0.6" />
<circle cx="423.65" cy="165.45" r="2.0" fill="#f6f8fa" stroke="#727a85" stroke-width="0.6" />
<circle cx="463.47" cy="178.01" r="2.0" fill="#f6f8fa" stroke="#727a85" stroke-width="0.6" />
<circle cx="415.39" cy="172.04" r="2.0" fill="#f6f8fa" stroke="#727a85" stroke-width="0.6" />
<circle cx="379.07" cy="174.12" r="2.0" fill="#f6f8fa" stroke="#727a85" stroke-width="0.6" />
<circle cx="454.07" cy="172.80" r="2.0" fill="#f6f8fa" stroke="#727a85" stroke-width="0.6" />
<circle cx="399.72" cy="172.50" r="2.0" fill="#f6f8fa" stroke="#727a85" stroke-width="0.6" />
<circle cx="448.16" cy="169.04" r="2.0" fill="#f6f8fa" stroke="#727a85" stroke-width="0.6" />
<circle cx="399.11" cy="172.96" r="2.0" fill="#f6f8fa" stroke="#727a85" stroke-width="0.6" />
<circle cx="375.97" cy="176.39" r="2.0" fill="#f6f8fa" stroke="#727a85" stroke-width="0.6" />
<circle cx="402.29" cy="175.90" r="2.0" fill="#f6f8fa" stroke="#727a85" stroke-width="0.6" />
<circle cx="415.67" cy="169.74" r="2.0" fill="#f6f8fa" stroke="#727a85" stroke-width="0.6" />
<circle cx="373.86" cy="168.30" r="2.0" fill="#f6f8fa" stroke="#727a85" stroke-width="0.6" />
<circle cx="396.99" cy="174.74" r="2.0" fill="#f6f8fa" stroke="#727a85" stroke-width="0.6" />
<circle cx="448.23" cy="174.31" r="2.0" fill="#f6f8fa" stroke="#727a85" stroke-width="0.6" />
<circle cx="401.49" cy="173.29" r="2.0" fill="#f6f8fa" stroke="#727a85" stroke-width="0.6" />
<circle cx="442.32" cy="168.69" r="2.0" fill="#f6f8fa" stroke="#727a85" stroke-width="0.6" />
<circle cx="379.83" cy="172.39" r="2.0" fill="#f6f8fa" stroke="#727a85" stroke-width="0.6" />
<circle cx="393.31" cy="165.92" r="2.0" fill="#f6f8fa" stroke="#727a85" stroke-width="0.6" />
<circle cx="403.43" cy="170.63" r="2.0" fill="#f6f8fa" stroke="#727a85" stroke-width="0.6" />
<circle cx="433.88" cy="172.39" r="2.0" fill="#f6f8fa" stroke="#727a85" stroke-width="0.6" />
<circle cx="433.91" cy="176.27" r="2.0" fill="#f6f8fa" stroke="#727a85" stroke-width="0.6" />
<circle cx="380.65" cy="177.64" r="2.0" fill="#f6f8fa" stroke="#727a85" stroke-width="0.6" />
<circle cx="428.57" cy="174.47" r="2.0" fill="#f6f8fa" stroke="#727a85" stroke-width="0.6" />
<circle cx="433.06" cy="174.07" r="2.0" fill="#f6f8fa" stroke="#727a85" stroke-width="0.6" />
<circle cx="381.51" cy="171.27" r="2.0" fill="#f6f8fa" stroke="#727a85" stroke-width="0.6" />
<circle cx="398.63" cy="177.29" r="2.0" fill="#f6f8fa" stroke="#727a85" stroke-width="0.6" />
<circle cx="429.77" cy="171.00" r="2.0" fill="#f6f8fa" stroke="#727a85" stroke-width="0.6" />
<circle cx="400.99" cy="170.95" r="2.0" fill="#f6f8fa" stroke="#727a85" stroke-width="0.6" />
<circle cx="393.71" cy="172.99" r="2.0" fill="#f6f8fa" stroke="#727a85" stroke-width="0.6" />
<circle cx="404.87" cy="171.27" r="2.0" fill="#f6f8fa" stroke="#727a85" stroke-width="0.6" />
<circle cx="419.46" cy="172.06" r="2.0" fill="#f6f8fa" stroke="#727a85" stroke-width="0.6" />
<circle cx="433.40" cy="174.09" r="2.0" fill="#f6f8fa" stroke="#727a85" stroke-width="0.6" />
<circle cx="405.78" cy="176.51" r="2.0" fill="#f6f8fa" stroke="#727a85" stroke-width="0.6" />
<circle cx="400.70" cy="172.18" r="2.0" fill="#f6f8fa" stroke="#727a85" stroke-width="0.6" />
<circle cx="387.35" cy="172.51" r="2.0" fill="#f6f8fa" stroke="#727a85" stroke-width="0.6" />
<circle cx="394.07" cy="176.25" r="2.0" fill="#f6f8fa" stroke="#727a85" stroke-width="0.6" />
<circle cx="401.30" cy="176.01" r="2.0" fill="#f6f8fa" stroke="#727a85" stroke-width="0.6" />
<circle cx="396.53" cy="170.59" r="2.0" fill="#f6f8fa" stroke="#727a85" stroke-width="0.6" />
<circle cx="398.29" cy="173.34" r="2.0" fill="#f6f8fa" stroke="#727a85" stroke-width="0.6" />
<circle cx="434.61" cy="171.69" r="2.0" fill="#f6f8fa" stroke="#727a85" stroke-width="0.6" />
<circle cx="392.70" cy="171.33" r="2.0" fill="#f6f8fa" stroke="#727a85" stroke-width="0.6" />
<circle cx="395.19" cy="178.16" r="2.0" fill="#f6f8fa" stroke="#727a85" stroke-width="0.6" />
<circle cx="435.91" cy="171.93" r="2.0" fill="#f6f8fa" stroke="#727a85" stroke-width="0.6" />
<circle cx="382.99" cy="174.14" r="2.0" fill="#f6f8fa" stroke="#727a85" stroke-width="0.6" />
<circle cx="415.08" cy="170.95" r="2.0" fill="#f6f8fa" stroke="#727a85" stroke-width="0.6" />
<circle cx="405.09" cy="176.53" r="2.0" fill="#f6f8fa" stroke="#727a85" stroke-width="0.6" />
<circle cx="380.08" cy="176.11" r="2.0" fill="#f6f8fa" stroke="#727a85" stroke-width="0.6" />
<circle cx="421.09" cy="176.68" r="2.0" fill="#f6f8fa" stroke="#727a85" stroke-width="0.6" />
<circle cx="409.21" cy="173.94" r="2.0" fill="#f6f8fa" stroke="#727a85" stroke-width="0.6" />
<circle cx="411.11" cy="171.16" r="2.0" fill="#f6f8fa" stroke="#727a85" stroke-width="0.6" />
<circle cx="410.83" cy="172.04" r="2.0" fill="#f6f8fa" stroke="#727a85" stroke-width="0.6" />
<circle cx="399.26" cy="170.38" r="2.0" fill="#f6f8fa" stroke="#727a85" stroke-width="0.6" />
<circle cx="389.51" cy="170.47" r="2.0" fill="#f6f8fa" stroke="#727a85" stroke-width="0.6" />
<circle cx="412.46" cy="172.01" r="2.0" fill="#f6f8fa" stroke="#727a85" stroke-width="0.6" />
<circle cx="413.34" cy="174.28" r="2.0" fill="#f6f8fa" stroke="#727a85" stroke-width="0.6" />
<circle cx="393.98" cy="171.08" r="2.0" fill="#f6f8fa" stroke="#727a85" stroke-width="0.6" />
<circle cx="415.76" cy="175.75" r="2.0" fill="#f6f8fa" stroke="#727a85" stroke-width="0.6" />
<circle cx="421.42" cy="174.32" r="2.0" fill="#f6f8fa" stroke="#727a85" stroke-width="0.6" />
<circle cx="414.80" cy="170.21" r="2.0" fill="#f6f8fa" stroke="#727a85" stroke-width="0.6" />
<circle cx="398.38" cy="176.81" r="2.0" fill="#f6f8fa" stroke="#727a85" stroke-width="0.6" />
<circle cx="402.63" cy="170.88" r="2.0" fill="#f6f8fa" stroke="#727a85" stroke-width="0.6" />
<circle cx="405.25" cy="177.09" r="2.0" fill="#f6f8fa" stroke="#727a85" stroke-width="0.6" />
<circle cx="385.89" cy="170.95" r="2.0" fill="#f6f8fa" stroke="#727a85" stroke-width="0.6" />
<circle cx="409.90" cy="177.42" r="2.0" fill="#f6f8fa" stroke="#727a85" stroke-width="0.6" />
<circle cx="403.43" cy="172.11" r="2.0" fill="#f6f8fa" stroke="#727a85" stroke-width="0.6" />
<circle cx="426.08" cy="170.80" r="2.0" fill="#f6f8fa" stroke="#727a85" stroke-width="0.6" />
<circle cx="397.72" cy="175.09" r="2.0" fill="#f6f8fa" stroke="#727a85" stroke-width="0.6" />
<circle cx="430.97" cy="177.32" r="2.0" fill="#f6f8fa" stroke="#727a85" stroke-width="0.6" />
<circle cx="399.55" cy="172.26" r="2.0" fill="#f6f8fa" stroke="#727a85" stroke-width="0.6" />
<circle cx="401.80" cy="171.03" r="2.0" fill="#f6f8fa" stroke="#727a85" stroke-width="0.6" />
<circle cx="396.36" cy="176.52" r="2.0" fill="#f6f8fa" stroke="#727a85" stroke-width="0.6" />
<circle cx="438.74" cy="172.30" r="2.0" fill="#f6f8fa" stroke="#727a85" stroke-width="0.6" />
<circle cx="384.34" cy="176.29" r="2.0" fill="#f6f8fa" stroke="#727a85" stroke-width="0.6" />
<circle cx="437.97" cy="176.75" r="2.0" fill="#f6f8fa" stroke="#727a85" stroke-width="0.6" />
<circle cx="404.76" cy="176.32" r="2.0" fill="#f6f8fa" stroke="#727a85" stroke-width="0.6" />
<circle cx="425.63" cy="176.32" r="2.0" fill="#f6f8fa" stroke="#727a85" stroke-width="0.6" />
<circle cx="409.57" cy="178.49" r="2.0" fill="#f6f8fa" stroke="#727a85" stroke-width="0.6" />
<circle cx="426.85" cy="172.00" r="2.0" fill="#f6f8fa" stroke="#727a85" stroke-width="0.6" />
<circle cx="399.98" cy="154.66" r="2.0" fill="#f6f8fa" stroke="#727a85" stroke-width="0.6" />
<circle cx="399.43" cy="145.38" r="2.0" fill="#f6f8fa" stroke="#727a85" stroke-width="0.6" />
<circle cx="395.41" cy="153.33" r="2.0" fill="#f6f8fa" stroke="#727a85" stroke-width="0.6" />
<circle cx="398.03" cy="162.91" r="2.0" fill="#f6f8fa" stroke="#727a85" stroke-width="0.6" />
<circle cx="396.41" cy="156.51" r="2.0" fill="#f6f8fa" stroke="#727a85" stroke-width="0.6" />
<circle cx="398.72" cy="148.57" r="2.0" fill="#f6f8fa" stroke="#727a85" stroke-width="0.6" />
<circle cx="399.22" cy="142.51" r="2.0" fill="#f6f8fa" stroke="#727a85" stroke-width="0.6" />
<circle cx="396.36" cy="148.59" r="2.0" fill="#f6f8fa" stroke="#727a85" stroke-width="0.6" />
<circle cx="400.92" cy="152.08" r="2.0" fill="#f6f8fa" stroke="#727a85" stroke-width="0.6" />
<circle cx="398.29" cy="150.74" r="2.0" fill="#f6f8fa" stroke="#727a85" stroke-width="0.6" />
<circle cx="395.83" cy="155.50" r="2.0" fill="#f6f8fa" stroke="#727a85" stroke-width="0.6" />
<circle cx="399.99" cy="156.05" r="2.0" fill="#f6f8fa" stroke="#727a85" stroke-width="0.6" />
<circle cx="397.88" cy="143.31" r="2.0" fill="#f6f8fa" stroke="#727a85" stroke-width="0.6" />
<circle cx="394.06" cy="148.04" r="2.0" fill="#f6f8fa" stroke="#727a85" stroke-width="0.6" />
<circle cx="398.27" cy="151.32" r="2.0" fill="#f6f8fa" stroke="#727a85" stroke-width="0.6" />
<circle cx="398.75" cy="149.12" r="2.0" fill="#f6f8fa" stroke="#727a85" stroke-width="0.6" />
<circle cx="397.99" cy="146.97" r="2.0" fill="#f6f8fa" stroke="#727a85" stroke-width="0.6" />
<circle cx="395.51" cy="164.14" r="2.0" fill="#f6f8fa" stroke="#727a85" stroke-width="0.6" />
<circle cx="398.17" cy="148.58" r="2.0" fill="#f6f8fa" stroke="#727a85" stroke-width="0.6" />
<circle cx="400.25" cy="144.16" r="2.0" fill="#f6f8fa" stroke="#727a85" stroke-width="0.6" />
<circle cx="397.93" cy="155.28" r="2.0" fill="#f6f8fa" stroke="#727a85" stroke-width="0.6" />
<circle cx="398.62" cy="160.64" r="2.0" fill="#f6f8fa" stroke="#727a85" stroke-width="0.6" />
<circle cx="421.90" cy="159.15" r="2.0" fill="#f6f8fa" stroke="#727a85" stroke-width="0.6" />
<circle cx="423.28" cy="165.01" r="2.0" fill="#f6f8fa" stroke="#727a85" stroke-width="0.6" />
<circle cx="423.59" cy="163.76" r="2.0" fill="#f6f8fa" stroke="#727a85" stroke-width="0.6" />
<circle cx="422.76" cy="115.99" r="2.0" fill="#f6f8fa" stroke="#727a85" stroke-width="0.6" />
<circle cx="420.71" cy="130.22" r="2.0" fill="#f6f8fa" stroke="#727a85" stroke-width="0.6" />
<circle cx="421.43" cy="128.10" r="2.0" fill="#f6f8fa" stroke="#727a85" stroke-width="0.6" />
<circle cx="423.09" cy="162.35" r="2.0" fill="#f6f8fa" stroke="#727a85" stroke-width="0.6" />
<circle cx="422.33" cy="123.10" r="2.0" fill="#f6f8fa" stroke="#727a85" stroke-width="0.6" />
<circle cx="422.38" cy="154.62" r="2.0" fill="#f6f8fa" stroke="#727a85" stroke-width="0.6" />
<circle cx="420.48" cy="116.26" r="2.0" fill="#f6f8fa" stroke="#727a85" stroke-width="0.6" />
<circle cx="424.36" cy="130.93" r="2.0" fill="#f6f8fa" stroke="#727a85" stroke-width="0.6" />
<circle cx="418.25" cy="126.02" r="2.0" fill="#f6f8fa" stroke="#727a85" stroke-width="0.6" />
<circle cx="419.63" cy="159.74" r="2.0" fill="#f6f8fa" stroke="#727a85" stroke-width="0.6" />
<circle cx="421.31" cy="131.93" r="2.0" fill="#f6f8fa" stroke="#727a85" stroke-width="0.6" />
<circle cx="420.41" cy="158.32" r="2.0" fill="#f6f8fa" stroke="#727a85" stroke-width="0.6" />
<circle cx="420.93" cy="160.23" r="2.0" fill="#f6f8fa" stroke="#727a85" stroke-width="0.6" />
<circle cx="422.13" cy="147.60" r="2.0" fill="#f6f8fa" stroke="#727a85" stroke-width="0.6" />
<circle cx="419.70" cy="152.49" r="2.0" fill="#f6f8fa" stroke="#727a85" stroke-width="0.6" />
<circle cx="420.54" cy="158.49" r="2.0" fill="#f6f8fa" stroke="#727a85" stroke-width="0.6" />
<circle cx="422.67" cy="156.44" r="2.0" fill="#f6f8fa" stroke="#727a85" stroke-width="0.6" />
<circle cx="421.68" cy="154.61" r="2.0" fill="#f6f8fa" stroke="#727a85" stroke-width="0.6" />
<circle cx="422.74" cy="134.90" r="2.0" fill="#f6f8fa" stroke="#727a85" stroke-width="0.6" />
<circle cx="419.12" cy="137.76" r="2.0" fill="#f6f8fa" stroke="#727a85" stroke-width="0.6" />
<circle cx="419.07" cy="135.35" r="2.0" fill="#f6f8fa" stroke="#727a85" stroke-width="0.6" />
<circle cx="420.00" cy="162.33" r="2.0" fill="#f6f8fa" stroke="#727a85" stroke-width="0.6" />
<circle cx="422.54" cy="130.45" r="2.0" fill="#f6f8fa" stroke="#727a85" stroke-width="0.6" />
<circle cx="422.92" cy="143.21" r="2.0" fill="#f6f8fa" stroke="#727a85" stroke-width="0.6" />
<circle cx="422.44" cy="135.99" r="2.0" fill="#f6f8fa" stroke="#727a85" stroke-width="0.6" />
<circle cx="420.52" cy="128.02" r="2.0" fill="#f6f8fa" stroke="#727a85" stroke-width="0.6" />
<circle cx="421.85" cy="165.36" r="2.0" fill="#f6f8fa" stroke="#727a85" stroke-width="0.6" />
<circle cx="421.50" cy="144.71" r="2.0" fill="#f6f8fa" stroke="#727a85" stroke-width="0.6" />
<circle cx="420.77" cy="143.61" r="2.0" fill="#f6f8fa" stroke="#727a85" stroke-width="0.6" />
<circle cx="420.49" cy="139.42" r="2.0" fill="#f6f8fa" stroke="#727a85" stroke-width="0.6" />
<circle cx="421.10" cy="163.66" r="2.0" fill="#f6f8fa" stroke="#727a85" stroke-width="0.6" />
<circle cx="319.40" cy="171.50" r="2.0" fill="#f6f8fa" stroke="#727a85" stroke-width="0.6" />
<circle cx="340.60" cy="176.10" r="2.0" fill="#f6f8fa" stroke="#727a85" stroke-width="0.6" />
<circle cx="350.70" cy="171.00" r="2.0" fill="#f6f8fa" stroke="#727a85" stroke-width="0.6" />
<circle cx="354.20" cy="175.00" r="2.0" fill="#f6f8fa" stroke="#727a85" stroke-width="0.6" />
<circle cx="356.00" cy="175.00" r="2.0" fill="#f6f8fa" stroke="#727a85" stroke-width="0.6" />
<circle cx="362.50" cy="175.00" r="2.0" fill="#f6f8fa" stroke="#727a85" stroke-width="0.6" />
<circle cx="367.50" cy="161.30" r="2.0" fill="#f6f8fa" stroke="#727a85" stroke-width="0.6" />
<circle cx="367.70" cy="161.60" r="2.0" fill="#f6f8fa" stroke="#727a85" stroke-width="0.6" />
<circle cx="375.00" cy="166.30" r="2.0" fill="#f6f8fa" stroke="#727a85" stroke-width="0.6" />
<circle cx="361.50" cy="174.00" r="2.0" fill="#f6f8fa" stroke="#727a85" stroke-width="0.6" />
<circle cx="365.00" cy="177.00" r="2.0" fill="#f6f8fa" stroke="#727a85" stroke-width="0.6" />
<circle cx="370.00" cy="172.00" r="2.0" fill="#f6f8fa" stroke="#727a85" stroke-width="0.6" />
<circle cx="396.20" cy="140.40" r="2.0" fill="#f6f8fa" stroke="#727a85" stroke-width="0.6" />
<circle cx="400.30" cy="139.60" r="2.0" fill="#f6f8fa" stroke="#727a85" stroke-width="0.6" />
<circle cx="400.30" cy="143.50" r="2.0" fill="#f6f8fa" stroke="#727a85" stroke-width="0.6" />
<circle cx="399.20" cy="148.80" r="2.0" fill="#f6f8fa" stroke="#727a85" stroke-width="0.6" />
<circle cx="401.50" cy="153.50" r="2.0" fill="#f6f8fa" stroke="#727a85" stroke-width="0.6" />
<circle cx="399.20" cy="156.50" r="2.0" fill="#f6f8fa" stroke="#727a85" stroke-width="0.6" />
<circle cx="498.00" cy="174.50" r="2.0" fill="#f6f8fa" stroke="#727a85" stroke-width="0.6" />
<circle cx="478.80" cy="165.50" r="2.0" fill="#f6f8fa" stroke="#727a85" stroke-width="0.6" />
<circle cx="478.80" cy="174.50" r="2.0" fill="#f6f8fa" stroke="#727a85" stroke-width="0.6" />
<circle cx="470.00" cy="170.00" r="2.0" fill="#f6f8fa" stroke="#727a85" stroke-width="0.6" />
<circle cx="485.00" cy="176.00" r="2.0" fill="#f6f8fa" stroke="#727a85" stroke-width="0.6" />
<circle cx="490.00" cy="170.00" r="2.0" fill="#f6f8fa" stroke="#727a85" stroke-width="0.6" />
<circle cx="475.00" cy="177.00" r="2.0" fill="#f6f8fa" stroke="#727a85" stroke-width="0.6" />
<circle cx="462.00" cy="172.00" r="2.0" fill="#f6f8fa" stroke="#727a85" stroke-width="0.6" />
<circle cx="466.00" cy="176.00" r="2.0" fill="#f6f8fa" stroke="#727a85" stroke-width="0.6" />
<circle cx="455.00" cy="167.00" r="2.0" fill="#f6f8fa" stroke="#727a85" stroke-width="0.6" />
<circle cx="440.50" cy="34.30" r="2.1" fill="#c4532b" stroke="#7e3115" stroke-width="0.45" />
<circle cx="446.30" cy="34.30" r="2.1" fill="#c4532b" stroke="#7e3115" stroke-width="0.45" />
<circle cx="443.00" cy="49.50" r="2.1" fill="#c4532b" stroke="#7e3115" stroke-width="0.45" />
<circle cx="465.00" cy="51.30" r="2.1" fill="#c4532b" stroke="#7e3115" stroke-width="0.45" />
<circle cx="432.50" cy="76.30" r="2.1" fill="#c4532b" stroke="#7e3115" stroke-width="0.45" />
<circle cx="433.80" cy="110.00" r="2.1" fill="#c4532b" stroke="#7e3115" stroke-width="0.45" />
<circle cx="436.00" cy="109.50" r="2.1" fill="#c4532b" stroke="#7e3115" stroke-width="0.45" />
<circle cx="442.50" cy="124.50" r="2.1" fill="#c4532b" stroke="#7e3115" stroke-width="0.45" />
<circle cx="433.80" cy="127.00" r="2.1" fill="#c4532b" stroke="#7e3115" stroke-width="0.45" />
<circle cx="440.00" cy="136.30" r="2.1" fill="#c4532b" stroke="#7e3115" stroke-width="0.45" />
<circle cx="431.30" cy="138.80" r="2.1" fill="#c4532b" stroke="#7e3115" stroke-width="0.45" />
<circle cx="427.50" cy="142.50" r="2.1" fill="#c4532b" stroke="#7e3115" stroke-width="0.45" />
<circle cx="428.80" cy="145.00" r="2.1" fill="#c4532b" stroke="#7e3115" stroke-width="0.45" />
<circle cx="426.00" cy="146.00" r="2.1" fill="#c4532b" stroke="#7e3115" stroke-width="0.45" />
<circle cx="430.00" cy="147.00" r="2.1" fill="#c4532b" stroke="#7e3115" stroke-width="0.45" />
<circle cx="432.50" cy="145.00" r="2.1" fill="#c4532b" stroke="#7e3115" stroke-width="0.45" />
<circle cx="435.00" cy="143.80" r="2.1" fill="#c4532b" stroke="#7e3115" stroke-width="0.45" />
<circle cx="433.80" cy="152.50" r="2.1" fill="#c4532b" stroke="#7e3115" stroke-width="0.45" />
<circle cx="441.30" cy="153.00" r="2.1" fill="#c4532b" stroke="#7e3115" stroke-width="0.45" />
<circle cx="447.50" cy="147.50" r="2.1" fill="#c4532b" stroke="#7e3115" stroke-width="0.45" />
<circle cx="442.50" cy="148.80" r="2.1" fill="#c4532b" stroke="#7e3115" stroke-width="0.45" />
<circle cx="450.00" cy="152.50" r="2.1" fill="#c4532b" stroke="#7e3115" stroke-width="0.45" />
<circle cx="448.80" cy="154.50" r="2.1" fill="#c4532b" stroke="#7e3115" stroke-width="0.45" />
<circle cx="453.80" cy="146.30" r="2.1" fill="#c4532b" stroke="#7e3115" stroke-width="0.45" />
<circle cx="452.50" cy="151.30" r="2.1" fill="#c4532b" stroke="#7e3115" stroke-width="0.45" />
<circle cx="455.00" cy="151.30" r="2.1" fill="#c4532b" stroke="#7e3115" stroke-width="0.45" />
<circle cx="456.30" cy="153.80" r="2.1" fill="#c4532b" stroke="#7e3115" stroke-width="0.45" />
<circle cx="468.80" cy="143.80" r="2.1" fill="#c4532b" stroke="#7e3115" stroke-width="0.45" />
<circle cx="473.80" cy="152.50" r="2.1" fill="#c4532b" stroke="#7e3115" stroke-width="0.45" />
<circle cx="470.00" cy="155.50" r="2.1" fill="#c4532b" stroke="#7e3115" stroke-width="0.45" />
<circle cx="480.00" cy="140.00" r="2.1" fill="#c4532b" stroke="#7e3115" stroke-width="0.45" />
<circle cx="481.30" cy="148.80" r="2.1" fill="#c4532b" stroke="#7e3115" stroke-width="0.45" />
<circle cx="490.00" cy="136.30" r="2.1" fill="#c4532b" stroke="#7e3115" stroke-width="0.45" />
<circle cx="492.50" cy="153.80" r="2.1" fill="#c4532b" stroke="#7e3115" stroke-width="0.45" />
<circle cx="428.00" cy="150.00" r="2.1" fill="#c4532b" stroke="#7e3115" stroke-width="0.45" />
<circle cx="436.00" cy="149.00" r="2.1" fill="#c4532b" stroke="#7e3115" stroke-width="0.45" />
<circle cx="438.00" cy="140.00" r="2.1" fill="#c4532b" stroke="#7e3115" stroke-width="0.45" />
<circle cx="437.00" cy="118.00" r="2.1" fill="#c4532b" stroke="#7e3115" stroke-width="0.45" />
<circle cx="432.00" cy="112.00" r="2.1" fill="#c4532b" stroke="#7e3115" stroke-width="0.45" />
<circle cx="445.00" cy="150.00" r="2.1" fill="#c4532b" stroke="#7e3115" stroke-width="0.45" />
<circle cx="452.00" cy="156.00" r="2.1" fill="#c4532b" stroke="#7e3115" stroke-width="0.45" />
<circle cx="462.00" cy="154.00" r="2.1" fill="#c4532b" stroke="#7e3115" stroke-width="0.45" />
<circle cx="458.00" cy="148.00" r="2.1" fill="#c4532b" stroke="#7e3115" stroke-width="0.45" />
<circle cx="465.00" cy="157.00" r="2.1" fill="#c4532b" stroke="#7e3115" stroke-width="0.45" />
<circle cx="351.30" cy="150.50" r="2.1" fill="#1d1e5a" stroke="#0c0d33" stroke-width="0.3" />
<rect x="424.50" y="28.00" width="14.30" height="7.00" rx="1.5" fill="#fff" stroke="#333" stroke-width="0.85"/>
<text x="431.65" y="33.61" font-size="5.7" fill="#333" text-anchor="middle" textLength="11.30" lengthAdjust="spacingAndGlyphs" >ALB</text>
<rect x="447.50" y="28.00" width="15.00" height="7.00" rx="1.5" fill="#fff" stroke="#333" stroke-width="0.85"/>
<text x="455.00" y="33.61" font-size="5.7" fill="#333" text-anchor="middle" textLength="11.97" lengthAdjust="spacingAndGlyphs" >FN1</text>
<rect x="433.80" y="41.30" width="11.70" height="7.20" rx="1.5" fill="#fff" stroke="#333" stroke-width="0.85"/>
<text x="439.65" y="47.01" font-size="5.7" fill="#333" text-anchor="middle" textLength="7.98" lengthAdjust="spacingAndGlyphs" >TF</text>
<rect x="453.00" y="53.80" width="29.00" height="7.20" rx="1.5" fill="#fff" stroke="#333" stroke-width="0.85"/>
<text x="467.50" y="59.51" font-size="5.7" fill="#333" text-anchor="middle" textLength="26.00" lengthAdjust="spacingAndGlyphs" >SERPINA1</text>
<rect x="423.80" y="68.30" width="11.70" height="7.00" rx="1.5" fill="#fff" stroke="#333" stroke-width="0.85"/>
<text x="429.65" y="73.91" font-size="5.7" fill="#333" text-anchor="middle" textLength="7.98" lengthAdjust="spacingAndGlyphs" >C3</text>
<rect x="417.00" y="92.50" width="20.00" height="6.80" rx="1.5" fill="#fff" stroke="#333" stroke-width="0.85"/>
<text x="427.00" y="98.01" font-size="5.7" fill="#333" text-anchor="middle" textLength="17.00" lengthAdjust="spacingAndGlyphs" >IGHG1</text>
<rect x="427.00" y="101.30" width="19.30" height="6.50" rx="1.5" fill="#fff" stroke="#333" stroke-width="0.85"/>
<text x="436.65" y="106.66" font-size="5.7" fill="#333" text-anchor="middle" textLength="16.30" lengthAdjust="spacingAndGlyphs" >APOA1</text>
<rect x="447.50" y="101.30" width="20.50" height="6.50" rx="1.5" fill="#fff" stroke="#333" stroke-width="0.85"/>
<text x="457.75" y="106.66" font-size="5.7" fill="#333" text-anchor="middle" textLength="17.50" lengthAdjust="spacingAndGlyphs" >PRDX2</text>
<rect x="440.00" y="108.80" width="17.00" height="6.20" rx="1.5" fill="#fff" stroke="#333" stroke-width="0.85"/>
<text x="448.50" y="114.01" font-size="5.7" fill="#333" text-anchor="middle" textLength="14.00" lengthAdjust="spacingAndGlyphs" >SOD2</text>
<rect x="425.00" y="112.00" width="13.80" height="6.00" rx="1.5" fill="#fff" stroke="#333" stroke-width="0.85"/>
<text x="431.90" y="117.11" font-size="5.7" fill="#333" text-anchor="middle" textLength="10.80" lengthAdjust="spacingAndGlyphs" >TPI1</text>
<rect x="443.80" y="117.00" width="16.70" height="6.80" rx="1.5" fill="#fff" stroke="#333" stroke-width="0.85"/>
<text x="452.15" y="122.51" font-size="5.7" fill="#333" text-anchor="middle" textLength="13.70" lengthAdjust="spacingAndGlyphs" >GOT2</text>
<rect x="414.50" y="120.00" width="13.50" height="7.00" rx="1.5" fill="#fff" stroke="#333" stroke-width="0.85"/>
<text x="421.25" y="125.61" font-size="5.7" fill="#333" text-anchor="middle" textLength="10.50" lengthAdjust="spacingAndGlyphs" >IGKC</text>
<rect x="425.50" y="129.50" width="14.00" height="6.00" rx="1.5" fill="#fff" stroke="#333" stroke-width="0.85"/>
<text x="432.50" y="134.61" font-size="5.7" fill="#333" text-anchor="middle" textLength="11.00" lengthAdjust="spacingAndGlyphs" >HBB</text>
<rect x="455.50" y="132.50" width="22.00" height="6.30" rx="1.5" fill="#fff" stroke="#333" stroke-width="0.85"/>
<text x="466.50" y="137.76" font-size="5.7" fill="#333" text-anchor="middle" textLength="19.00" lengthAdjust="spacingAndGlyphs" >MYADM</text>
<rect x="479.50" y="128.00" width="19.30" height="6.50" rx="1.5" fill="#fff" stroke="#333" stroke-width="0.85"/>
<text x="489.15" y="133.36" font-size="5.7" fill="#333" text-anchor="middle" textLength="16.30" lengthAdjust="spacingAndGlyphs" >SPTA1</text>
<rect x="481.30" y="141.30" width="17.50" height="7.00" rx="1.5" fill="#fff" stroke="#333" stroke-width="0.85"/>
<text x="490.05" y="146.91" font-size="5.7" fill="#333" text-anchor="middle" textLength="14.50" lengthAdjust="spacingAndGlyphs" >APOB</text>
<rect x="459.50" y="144.50" width="10.00" height="6.80" rx="1.5" fill="#fff" stroke="#333" stroke-width="0.85"/>
<text x="464.50" y="150.01" font-size="5.7" fill="#333" text-anchor="middle" textLength="7.00" lengthAdjust="spacingAndGlyphs" >HP</text>
<rect x="477.00" y="156.30" width="21.80" height="5.70" rx="1.5" fill="#fff" stroke="#333" stroke-width="0.85"/>
<text x="487.90" y="161.26" font-size="5.7" fill="#333" text-anchor="middle" textLength="18.80" lengthAdjust="spacingAndGlyphs" >SEC24A</text>
<rect x="328.80" y="142.50" width="22.50" height="6.30" rx="1.5" fill="#fff" stroke="#333" stroke-width="0.85"/>
<text x="340.05" y="147.76" font-size="5.7" fill="#333" text-anchor="middle" textLength="19.50" lengthAdjust="spacingAndGlyphs" >ARPC1A</text>
<line x1="392.50" y1="27.50" x2="392.50" y2="184.00" stroke="#000" stroke-width="1.2" stroke-dasharray="5 5" stroke-dashoffset="0"/>
<line x1="425.50" y1="27.50" x2="425.50" y2="184.00" stroke="#000" stroke-width="1.2" stroke-dasharray="5 5" stroke-dashoffset="0"/>
<line x1="318.00" y1="158.50" x2="501.00" y2="158.50" stroke="#000" stroke-width="1.2" stroke-dasharray="5 5" stroke-dashoffset="0"/>
<line x1="317.50" y1="27.50" x2="317.50" y2="185.10" stroke="#111" stroke-width="1.25" />
<line x1="316.70" y1="184.50" x2="501.00" y2="184.50" stroke="#111" stroke-width="1.25" />
<line x1="314.10" y1="177.50" x2="317.30" y2="177.50" stroke="#111" stroke-width="1.0" />
<text x="310.30" y="180.00" font-size="7.5" fill="#222" text-anchor="end" stroke="#222" stroke-width="0.15">0.0</text>
<line x1="314.10" y1="141.50" x2="317.30" y2="141.50" stroke="#111" stroke-width="1.0" />
<text x="310.30" y="144.30" font-size="7.5" fill="#222" text-anchor="end" stroke="#222" stroke-width="0.15">2.5</text>
<line x1="314.10" y1="105.50" x2="317.30" y2="105.50" stroke="#111" stroke-width="1.0" />
<text x="310.30" y="108.60" font-size="7.5" fill="#222" text-anchor="end" stroke="#222" stroke-width="0.15">5.0</text>
<line x1="314.10" y1="70.50" x2="317.30" y2="70.50" stroke="#111" stroke-width="1.0" />
<text x="310.30" y="72.90" font-size="7.5" fill="#222" text-anchor="end" stroke="#222" stroke-width="0.15">7.5</text>
<line x1="314.10" y1="34.50" x2="317.30" y2="34.50" stroke="#111" stroke-width="1.0" />
<text x="310.30" y="37.20" font-size="7.5" fill="#222" text-anchor="end" stroke="#222" stroke-width="0.15">10.0</text>
<line x1="325.50" y1="184.50" x2="325.50" y2="187.70" stroke="#111" stroke-width="1.0" />
<text x="323.55" y="199.10" font-size="7.5" fill="#222" text-anchor="middle" stroke="#222" stroke-width="0.15">−5</text>
<line x1="341.50" y1="184.50" x2="341.50" y2="187.70" stroke="#111" stroke-width="1.0" />
<text x="340.30" y="199.10" font-size="7.5" fill="#222" text-anchor="middle" stroke="#222" stroke-width="0.15">−4</text>
<line x1="358.50" y1="184.50" x2="358.50" y2="187.70" stroke="#111" stroke-width="1.0" />
<text x="357.05" y="199.10" font-size="7.5" fill="#222" text-anchor="middle" stroke="#222" stroke-width="0.15">−3</text>
<line x1="375.50" y1="184.50" x2="375.50" y2="187.70" stroke="#111" stroke-width="1.0" />
<text x="373.80" y="199.10" font-size="7.5" fill="#222" text-anchor="middle" stroke="#222" stroke-width="0.15">−2</text>
<line x1="392.50" y1="184.50" x2="392.50" y2="187.70" stroke="#111" stroke-width="1.0" />
<text x="390.55" y="199.10" font-size="7.5" fill="#222" text-anchor="middle" stroke="#222" stroke-width="0.15">−1</text>
<line x1="408.50" y1="184.50" x2="408.50" y2="187.70" stroke="#111" stroke-width="1.0" />
<text x="408.90" y="199.10" font-size="7.5" fill="#222" text-anchor="middle" stroke="#222" stroke-width="0.15">0</text>
<line x1="425.50" y1="184.50" x2="425.50" y2="187.70" stroke="#111" stroke-width="1.0" />
<text x="425.65" y="199.10" font-size="7.5" fill="#222" text-anchor="middle" stroke="#222" stroke-width="0.15">1</text>
<line x1="442.50" y1="184.50" x2="442.50" y2="187.70" stroke="#111" stroke-width="1.0" />
<text x="442.40" y="199.10" font-size="7.5" fill="#222" text-anchor="middle" stroke="#222" stroke-width="0.15">2</text>
<line x1="459.50" y1="184.50" x2="459.50" y2="187.70" stroke="#111" stroke-width="1.0" />
<text x="459.15" y="199.10" font-size="7.5" fill="#222" text-anchor="middle" stroke="#222" stroke-width="0.15">3</text>
<line x1="475.50" y1="184.50" x2="475.50" y2="187.70" stroke="#111" stroke-width="1.0" />
<text x="475.90" y="199.10" font-size="7.5" fill="#222" text-anchor="middle" stroke="#222" stroke-width="0.15">4</text>
<line x1="492.50" y1="184.50" x2="492.50" y2="187.70" stroke="#111" stroke-width="1.0" />
<text x="492.65" y="199.10" font-size="7.5" fill="#222" text-anchor="middle" stroke="#222" stroke-width="0.15">5</text>
<text x="409.30" y="21.60" font-size="8.4" fill="#1a1a1a" text-anchor="middle" stroke="#1a1a1a" stroke-width="0.15">A-II-2</text>
<text x="279.30" y="20.60" font-size="14.0" fill="#111" text-anchor="start" font-weight="bold" >B</text>
<text x="287.80" y="106.60" font-size="8.2" fill="#222" text-anchor="middle" textLength="60" lengthAdjust="spacingAndGlyphs" transform="rotate(-90 287.80 106.60)" stroke="#222" stroke-width="0.22">-log10(adj.<tspan font-style="italic">P</tspan>-value)</text>
<text x="409.00" y="212.00" font-size="8.4" fill="#222" text-anchor="middle" textLength="52" lengthAdjust="spacingAndGlyphs" stroke="#222" stroke-width="0.22">log2(foldchange)</text>
<circle cx="89.50" cy="400.70" r="1.8" fill="#f6f8fa" stroke="#727a85" stroke-width="0.6" />
<circle cx="92.20" cy="400.70" r="1.8" fill="#f6f8fa" stroke="#727a85" stroke-width="0.6" />
<circle cx="94.90" cy="400.70" r="1.8" fill="#f6f8fa" stroke="#727a85" stroke-width="0.6" />
<circle cx="97.60" cy="400.70" r="1.8" fill="#f6f8fa" stroke="#727a85" stroke-width="0.6" />
<circle cx="100.30" cy="400.70" r="1.8" fill="#f6f8fa" stroke="#727a85" stroke-width="0.6" />
<circle cx="103.00" cy="400.70" r="1.8" fill="#f6f8fa" stroke="#727a85" stroke-width="0.6" />
<circle cx="105.70" cy="400.70" r="1.8" fill="#f6f8fa" stroke="#727a85" stroke-width="0.6" />
<circle cx="108.40" cy="400.70" r="1.8" fill="#f6f8fa" stroke="#727a85" stroke-width="0.6" />
<circle cx="111.10" cy="400.70" r="1.8" fill="#f6f8fa" stroke="#727a85" stroke-width="0.6" />
<circle cx="113.80" cy="400.70" r="1.8" fill="#f6f8fa" stroke="#727a85" stroke-width="0.6" />
<circle cx="116.50" cy="400.70" r="1.8" fill="#f6f8fa" stroke="#727a85" stroke-width="0.6" />
<circle cx="119.20" cy="400.70" r="1.8" fill="#f6f8fa" stroke="#727a85" stroke-width="0.6" />
<circle cx="121.90" cy="400.70" r="1.8" fill="#f6f8fa" stroke="#727a85" stroke-width="0.6" />
<circle cx="124.60" cy="400.70" r="1.8" fill="#f6f8fa" stroke="#727a85" stroke-width="0.6" />
<circle cx="127.30" cy="400.70" r="1.8" fill="#f6f8fa" stroke="#727a85" stroke-width="0.6" />
<circle cx="130.00" cy="400.70" r="1.8" fill="#f6f8fa" stroke="#727a85" stroke-width="0.6" />
<circle cx="132.70" cy="400.70" r="1.8" fill="#f6f8fa" stroke="#727a85" stroke-width="0.6" />
<circle cx="135.40" cy="400.70" r="1.8" fill="#f6f8fa" stroke="#727a85" stroke-width="0.6" />
<circle cx="138.10" cy="400.70" r="1.8" fill="#f6f8fa" stroke="#727a85" stroke-width="0.6" />
<circle cx="140.80" cy="400.70" r="1.8" fill="#f6f8fa" stroke="#727a85" stroke-width="0.6" />
<circle cx="143.50" cy="400.70" r="1.8" fill="#f6f8fa" stroke="#727a85" stroke-width="0.6" />
<circle cx="146.20" cy="400.70" r="1.8" fill="#f6f8fa" stroke="#727a85" stroke-width="0.6" />
<circle cx="148.90" cy="400.70" r="1.8" fill="#f6f8fa" stroke="#727a85" stroke-width="0.6" />
<circle cx="151.60" cy="400.70" r="1.8" fill="#f6f8fa" stroke="#727a85" stroke-width="0.6" />
<circle cx="154.30" cy="400.70" r="1.8" fill="#f6f8fa" stroke="#727a85" stroke-width="0.6" />
<circle cx="157.00" cy="400.70" r="1.8" fill="#f6f8fa" stroke="#727a85" stroke-width="0.6" />
<circle cx="159.70" cy="400.70" r="1.8" fill="#f6f8fa" stroke="#727a85" stroke-width="0.6" />
<circle cx="162.40" cy="400.70" r="1.8" fill="#f6f8fa" stroke="#727a85" stroke-width="0.6" />
<circle cx="165.10" cy="400.70" r="1.8" fill="#f6f8fa" stroke="#727a85" stroke-width="0.6" />
<circle cx="167.80" cy="400.70" r="1.8" fill="#f6f8fa" stroke="#727a85" stroke-width="0.6" />
<circle cx="170.50" cy="400.70" r="1.8" fill="#f6f8fa" stroke="#727a85" stroke-width="0.6" />
<circle cx="173.20" cy="400.70" r="1.8" fill="#f6f8fa" stroke="#727a85" stroke-width="0.6" />
<circle cx="175.90" cy="400.70" r="1.8" fill="#f6f8fa" stroke="#727a85" stroke-width="0.6" />
<circle cx="178.60" cy="400.70" r="1.8" fill="#f6f8fa" stroke="#727a85" stroke-width="0.6" />
<circle cx="181.30" cy="400.70" r="1.8" fill="#f6f8fa" stroke="#727a85" stroke-width="0.6" />
<circle cx="184.00" cy="400.70" r="1.8" fill="#f6f8fa" stroke="#727a85" stroke-width="0.6" />
<circle cx="186.70" cy="400.70" r="1.8" fill="#f6f8fa" stroke="#727a85" stroke-width="0.6" />
<circle cx="189.40" cy="400.70" r="1.8" fill="#f6f8fa" stroke="#727a85" stroke-width="0.6" />
<circle cx="192.10" cy="400.70" r="1.8" fill="#f6f8fa" stroke="#727a85" stroke-width="0.6" />
<circle cx="194.80" cy="400.70" r="1.8" fill="#f6f8fa" stroke="#727a85" stroke-width="0.6" />
<circle cx="197.50" cy="400.70" r="1.8" fill="#f6f8fa" stroke="#727a85" stroke-width="0.6" />
<circle cx="203.00" cy="400.70" r="1.8" fill="#f6f8fa" stroke="#727a85" stroke-width="0.6" />
<circle cx="219.30" cy="400.70" r="1.8" fill="#f6f8fa" stroke="#727a85" stroke-width="0.6" />
<circle cx="77.50" cy="386.30" r="1.8" fill="#f6f8fa" stroke="#727a85" stroke-width="0.6" />
<circle cx="81.30" cy="388.80" r="1.8" fill="#f6f8fa" stroke="#727a85" stroke-width="0.6" />
<circle cx="80.00" cy="392.50" r="1.8" fill="#f6f8fa" stroke="#727a85" stroke-width="0.6" />
<circle cx="78.80" cy="395.00" r="1.8" fill="#f6f8fa" stroke="#727a85" stroke-width="0.6" />
<circle cx="92.50" cy="387.00" r="1.8" fill="#f6f8fa" stroke="#727a85" stroke-width="0.6" />
<circle cx="94.50" cy="385.50" r="1.8" fill="#f6f8fa" stroke="#727a85" stroke-width="0.6" />
<circle cx="91.30" cy="389.50" r="1.8" fill="#f6f8fa" stroke="#727a85" stroke-width="0.6" />
<circle cx="150.00" cy="377.50" r="1.8" fill="#f6f8fa" stroke="#727a85" stroke-width="0.6" />
<circle cx="144.50" cy="393.30" r="1.8" fill="#f6f8fa" stroke="#727a85" stroke-width="0.6" />
<circle cx="154.50" cy="392.50" r="1.8" fill="#f6f8fa" stroke="#727a85" stroke-width="0.6" />
<circle cx="130.00" cy="397.50" r="1.8" fill="#f6f8fa" stroke="#727a85" stroke-width="0.6" />
<circle cx="186.30" cy="388.80" r="1.8" fill="#f6f8fa" stroke="#727a85" stroke-width="0.6" />
<circle cx="187.50" cy="395.00" r="1.8" fill="#f6f8fa" stroke="#727a85" stroke-width="0.6" />
<circle cx="173.80" cy="263.30" r="1.75" fill="#c4532b" stroke="#7e3115" stroke-width="0.45" />
<circle cx="68.00" cy="369.30" r="1.75" fill="#1d1e5a" stroke="#0c0d33" stroke-width="0.3" />
<circle cx="117.50" cy="378.30" r="1.75" fill="#1d1e5a" stroke="#0c0d33" stroke-width="0.3" />
<rect x="157.50" y="259.30" width="13.30" height="5.70" rx="1.5" fill="#fff" stroke="#333" stroke-width="0.85"/>
<text x="164.15" y="263.81" font-size="4.5" fill="#333" text-anchor="middle" textLength="9.45" lengthAdjust="spacingAndGlyphs" >FN1</text>
<rect x="48.80" y="366.80" width="16.70" height="5.70" rx="1.5" fill="#fff" stroke="#333" stroke-width="0.85"/>
<text x="57.15" y="371.31" font-size="4.5" fill="#333" text-anchor="middle" textLength="12.60" lengthAdjust="spacingAndGlyphs" >CD5L</text>
<rect x="108.00" y="370.00" width="15.80" height="6.30" rx="1.5" fill="#fff" stroke="#333" stroke-width="0.85"/>
<text x="115.90" y="374.81" font-size="4.5" fill="#333" text-anchor="middle" textLength="12.60" lengthAdjust="spacingAndGlyphs" >IGKC</text>
<line x1="120.50" y1="257.50" x2="120.50" y2="407.00" stroke="#000" stroke-width="1.2" stroke-dasharray="5 5" stroke-dashoffset="0"/>
<line x1="153.50" y1="257.50" x2="153.50" y2="407.00" stroke="#000" stroke-width="1.2" stroke-dasharray="5 5" stroke-dashoffset="0"/>
<line x1="46.30" y1="382.50" x2="227.50" y2="382.50" stroke="#000" stroke-width="1.2" stroke-dasharray="5 5" stroke-dashoffset="0"/>
<line x1="45.50" y1="253.80" x2="45.50" y2="407.90" stroke="#111" stroke-width="1.25" />
<line x1="45.00" y1="407.50" x2="227.50" y2="407.50" stroke="#111" stroke-width="1.25" />
<line x1="42.40" y1="400.50" x2="45.60" y2="400.50" stroke="#111" stroke-width="1.0" />
<text x="38.60" y="403.40" font-size="7.5" fill="#222" text-anchor="end" stroke="#222" stroke-width="0.15">0.0</text>
<line x1="42.40" y1="364.50" x2="45.60" y2="364.50" stroke="#111" stroke-width="1.0" />
<text x="38.60" y="367.35" font-size="7.5" fill="#222" text-anchor="end" stroke="#222" stroke-width="0.15">2.5</text>
<line x1="42.40" y1="328.50" x2="45.60" y2="328.50" stroke="#111" stroke-width="1.0" />
<text x="38.60" y="331.30" font-size="7.5" fill="#222" text-anchor="end" stroke="#222" stroke-width="0.15">5.0</text>
<line x1="42.40" y1="292.50" x2="45.60" y2="292.50" stroke="#111" stroke-width="1.0" />
<text x="38.60" y="295.25" font-size="7.5" fill="#222" text-anchor="end" stroke="#222" stroke-width="0.15">7.5</text>
<line x1="42.40" y1="256.50" x2="45.60" y2="256.50" stroke="#111" stroke-width="1.0" />
<text x="38.60" y="259.20" font-size="7.5" fill="#222" text-anchor="end" stroke="#222" stroke-width="0.15">10.0</text>
<line x1="54.50" y1="407.30" x2="54.50" y2="410.50" stroke="#111" stroke-width="1.0" />
<text x="53.15" y="421.90" font-size="7.5" fill="#222" text-anchor="middle" stroke="#222" stroke-width="0.15">−5</text>
<line x1="71.50" y1="407.30" x2="71.50" y2="410.50" stroke="#111" stroke-width="1.0" />
<text x="69.60" y="421.90" font-size="7.5" fill="#222" text-anchor="middle" stroke="#222" stroke-width="0.15">−4</text>
<line x1="87.50" y1="407.30" x2="87.50" y2="410.50" stroke="#111" stroke-width="1.0" />
<text x="86.05" y="421.90" font-size="7.5" fill="#222" text-anchor="middle" stroke="#222" stroke-width="0.15">−3</text>
<line x1="104.50" y1="407.30" x2="104.50" y2="410.50" stroke="#111" stroke-width="1.0" />
<text x="102.50" y="421.90" font-size="7.5" fill="#222" text-anchor="middle" stroke="#222" stroke-width="0.15">−2</text>
<line x1="120.50" y1="407.30" x2="120.50" y2="410.50" stroke="#111" stroke-width="1.0" />
<text x="118.95" y="421.90" font-size="7.5" fill="#222" text-anchor="middle" stroke="#222" stroke-width="0.15">−1</text>
<line x1="137.50" y1="407.30" x2="137.50" y2="410.50" stroke="#111" stroke-width="1.0" />
<text x="137.00" y="421.90" font-size="7.5" fill="#222" text-anchor="middle" stroke="#222" stroke-width="0.15">0</text>
<line x1="153.50" y1="407.30" x2="153.50" y2="410.50" stroke="#111" stroke-width="1.0" />
<text x="153.45" y="421.90" font-size="7.5" fill="#222" text-anchor="middle" stroke="#222" stroke-width="0.15">1</text>
<line x1="169.50" y1="407.30" x2="169.50" y2="410.50" stroke="#111" stroke-width="1.0" />
<text x="169.90" y="421.90" font-size="7.5" fill="#222" text-anchor="middle" stroke="#222" stroke-width="0.15">2</text>
<line x1="186.50" y1="407.30" x2="186.50" y2="410.50" stroke="#111" stroke-width="1.0" />
<text x="186.35" y="421.90" font-size="7.5" fill="#222" text-anchor="middle" stroke="#222" stroke-width="0.15">3</text>
<line x1="202.50" y1="407.30" x2="202.50" y2="410.50" stroke="#111" stroke-width="1.0" />
<text x="202.80" y="421.90" font-size="7.5" fill="#222" text-anchor="middle" stroke="#222" stroke-width="0.15">4</text>
<line x1="219.50" y1="407.30" x2="219.50" y2="410.50" stroke="#111" stroke-width="1.0" />
<text x="219.25" y="421.90" font-size="7.5" fill="#222" text-anchor="middle" stroke="#222" stroke-width="0.15">5</text>
<text x="136.80" y="246.60" font-size="8.4" fill="#1a1a1a" text-anchor="middle" stroke="#1a1a1a" stroke-width="0.15">A-II-3</text>
<text x="8.30" y="245.80" font-size="14.0" fill="#111" text-anchor="start" font-weight="bold" >C</text>
<text x="15.90" y="330.10" font-size="8.2" fill="#222" text-anchor="middle" textLength="60" lengthAdjust="spacingAndGlyphs" transform="rotate(-90 15.90 330.10)" stroke="#222" stroke-width="0.22">-log10(adj.<tspan font-style="italic">P</tspan>-value)</text>
<text x="141.70" y="435.00" font-size="8.4" fill="#222" text-anchor="middle" textLength="52" lengthAdjust="spacingAndGlyphs" stroke="#222" stroke-width="0.22">log2(foldchange)</text>
<circle cx="411.22" cy="399.14" r="2.0" fill="#f6f8fa" stroke="#727a85" stroke-width="0.6" />
<circle cx="454.76" cy="397.02" r="2.0" fill="#f6f8fa" stroke="#727a85" stroke-width="0.6" />
<circle cx="393.62" cy="396.17" r="2.0" fill="#f6f8fa" stroke="#727a85" stroke-width="0.6" />
<circle cx="383.20" cy="396.05" r="2.0" fill="#f6f8fa" stroke="#727a85" stroke-width="0.6" />
<circle cx="387.04" cy="398.98" r="2.0" fill="#f6f8fa" stroke="#727a85" stroke-width="0.6" />
<circle cx="466.99" cy="400.02" r="2.0" fill="#f6f8fa" stroke="#727a85" stroke-width="0.6" />
<circle cx="408.33" cy="398.35" r="2.0" fill="#f6f8fa" stroke="#727a85" stroke-width="0.6" />
<circle cx="438.37" cy="397.89" r="2.0" fill="#f6f8fa" stroke="#727a85" stroke-width="0.6" />
<circle cx="379.06" cy="400.88" r="2.0" fill="#f6f8fa" stroke="#727a85" stroke-width="0.6" />
<circle cx="431.25" cy="396.65" r="2.0" fill="#f6f8fa" stroke="#727a85" stroke-width="0.6" />
<circle cx="378.73" cy="396.55" r="2.0" fill="#f6f8fa" stroke="#727a85" stroke-width="0.6" />
<circle cx="464.06" cy="396.62" r="2.0" fill="#f6f8fa" stroke="#727a85" stroke-width="0.6" />
<circle cx="432.03" cy="401.62" r="2.0" fill="#f6f8fa" stroke="#727a85" stroke-width="0.6" />
<circle cx="375.36" cy="398.24" r="2.0" fill="#f6f8fa" stroke="#727a85" stroke-width="0.6" />
<circle cx="417.82" cy="401.32" r="2.0" fill="#f6f8fa" stroke="#727a85" stroke-width="0.6" />
<circle cx="390.10" cy="397.50" r="2.0" fill="#f6f8fa" stroke="#727a85" stroke-width="0.6" />
<circle cx="395.80" cy="396.29" r="2.0" fill="#f6f8fa" stroke="#727a85" stroke-width="0.6" />
<circle cx="436.68" cy="400.74" r="2.0" fill="#f6f8fa" stroke="#727a85" stroke-width="0.6" />
<circle cx="413.89" cy="396.22" r="2.0" fill="#f6f8fa" stroke="#727a85" stroke-width="0.6" />
<circle cx="440.50" cy="400.27" r="2.0" fill="#f6f8fa" stroke="#727a85" stroke-width="0.6" />
<circle cx="434.73" cy="397.91" r="2.0" fill="#f6f8fa" stroke="#727a85" stroke-width="0.6" />
<circle cx="451.73" cy="399.66" r="2.0" fill="#f6f8fa" stroke="#727a85" stroke-width="0.6" />
<circle cx="428.64" cy="399.14" r="2.0" fill="#f6f8fa" stroke="#727a85" stroke-width="0.6" />
<circle cx="394.39" cy="398.64" r="2.0" fill="#f6f8fa" stroke="#727a85" stroke-width="0.6" />
<circle cx="448.23" cy="399.97" r="2.0" fill="#f6f8fa" stroke="#727a85" stroke-width="0.6" />
<circle cx="405.21" cy="400.75" r="2.0" fill="#f6f8fa" stroke="#727a85" stroke-width="0.6" />
<circle cx="452.58" cy="396.25" r="2.0" fill="#f6f8fa" stroke="#727a85" stroke-width="0.6" />
<circle cx="387.10" cy="397.29" r="2.0" fill="#f6f8fa" stroke="#727a85" stroke-width="0.6" />
<circle cx="373.40" cy="400.37" r="2.0" fill="#f6f8fa" stroke="#727a85" stroke-width="0.6" />
<circle cx="434.09" cy="399.15" r="2.0" fill="#f6f8fa" stroke="#727a85" stroke-width="0.6" />
<circle cx="467.49" cy="398.07" r="2.0" fill="#f6f8fa" stroke="#727a85" stroke-width="0.6" />
<circle cx="391.11" cy="396.65" r="2.0" fill="#f6f8fa" stroke="#727a85" stroke-width="0.6" />
<circle cx="404.65" cy="400.86" r="2.0" fill="#f6f8fa" stroke="#727a85" stroke-width="0.6" />
<circle cx="430.25" cy="396.34" r="2.0" fill="#f6f8fa" stroke="#727a85" stroke-width="0.6" />
<circle cx="413.59" cy="396.28" r="2.0" fill="#f6f8fa" stroke="#727a85" stroke-width="0.6" />
<circle cx="431.82" cy="396.71" r="2.0" fill="#f6f8fa" stroke="#727a85" stroke-width="0.6" />
<circle cx="389.23" cy="399.73" r="2.0" fill="#f6f8fa" stroke="#727a85" stroke-width="0.6" />
<circle cx="452.21" cy="399.59" r="2.0" fill="#f6f8fa" stroke="#727a85" stroke-width="0.6" />
<circle cx="400.20" cy="399.74" r="2.0" fill="#f6f8fa" stroke="#727a85" stroke-width="0.6" />
<circle cx="398.12" cy="396.04" r="2.0" fill="#f6f8fa" stroke="#727a85" stroke-width="0.6" />
<circle cx="398.30" cy="399.99" r="2.0" fill="#f6f8fa" stroke="#727a85" stroke-width="0.6" />
<circle cx="432.14" cy="397.12" r="2.0" fill="#f6f8fa" stroke="#727a85" stroke-width="0.6" />
<circle cx="452.70" cy="400.82" r="2.0" fill="#f6f8fa" stroke="#727a85" stroke-width="0.6" />
<circle cx="398.82" cy="401.57" r="2.0" fill="#f6f8fa" stroke="#727a85" stroke-width="0.6" />
<circle cx="397.21" cy="396.38" r="2.0" fill="#f6f8fa" stroke="#727a85" stroke-width="0.6" />
<circle cx="421.17" cy="401.02" r="2.0" fill="#f6f8fa" stroke="#727a85" stroke-width="0.6" />
<circle cx="429.57" cy="399.17" r="2.0" fill="#f6f8fa" stroke="#727a85" stroke-width="0.6" />
<circle cx="418.81" cy="397.65" r="2.0" fill="#f6f8fa" stroke="#727a85" stroke-width="0.6" />
<circle cx="400.79" cy="398.34" r="2.0" fill="#f6f8fa" stroke="#727a85" stroke-width="0.6" />
<circle cx="424.52" cy="401.47" r="2.0" fill="#f6f8fa" stroke="#727a85" stroke-width="0.6" />
<circle cx="378.99" cy="397.46" r="2.0" fill="#f6f8fa" stroke="#727a85" stroke-width="0.6" />
<circle cx="462.57" cy="399.81" r="2.0" fill="#f6f8fa" stroke="#727a85" stroke-width="0.6" />
<circle cx="379.14" cy="398.56" r="2.0" fill="#f6f8fa" stroke="#727a85" stroke-width="0.6" />
<circle cx="434.50" cy="401.29" r="2.0" fill="#f6f8fa" stroke="#727a85" stroke-width="0.6" />
<circle cx="380.09" cy="401.23" r="2.0" fill="#f6f8fa" stroke="#727a85" stroke-width="0.6" />
<circle cx="445.99" cy="397.62" r="2.0" fill="#f6f8fa" stroke="#727a85" stroke-width="0.6" />
<circle cx="423.21" cy="400.79" r="2.0" fill="#f6f8fa" stroke="#727a85" stroke-width="0.6" />
<circle cx="395.34" cy="400.07" r="2.0" fill="#f6f8fa" stroke="#727a85" stroke-width="0.6" />
<circle cx="425.77" cy="396.42" r="2.0" fill="#f6f8fa" stroke="#727a85" stroke-width="0.6" />
<circle cx="398.09" cy="398.39" r="2.0" fill="#f6f8fa" stroke="#727a85" stroke-width="0.6" />
<circle cx="385.40" cy="401.47" r="2.0" fill="#f6f8fa" stroke="#727a85" stroke-width="0.6" />
<circle cx="396.01" cy="397.34" r="2.0" fill="#f6f8fa" stroke="#727a85" stroke-width="0.6" />
<circle cx="429.33" cy="399.06" r="2.0" fill="#f6f8fa" stroke="#727a85" stroke-width="0.6" />
<circle cx="402.63" cy="397.89" r="2.0" fill="#f6f8fa" stroke="#727a85" stroke-width="0.6" />
<circle cx="419.67" cy="401.27" r="2.0" fill="#f6f8fa" stroke="#727a85" stroke-width="0.6" />
<circle cx="379.58" cy="401.29" r="2.0" fill="#f6f8fa" stroke="#727a85" stroke-width="0.6" />
<circle cx="462.05" cy="399.96" r="2.0" fill="#f6f8fa" stroke="#727a85" stroke-width="0.6" />
<circle cx="449.06" cy="398.22" r="2.0" fill="#f6f8fa" stroke="#727a85" stroke-width="0.6" />
<circle cx="464.41" cy="400.31" r="2.0" fill="#f6f8fa" stroke="#727a85" stroke-width="0.6" />
<circle cx="437.93" cy="398.60" r="2.0" fill="#f6f8fa" stroke="#727a85" stroke-width="0.6" />
<circle cx="393.19" cy="400.01" r="2.0" fill="#f6f8fa" stroke="#727a85" stroke-width="0.6" />
<circle cx="442.64" cy="396.03" r="2.0" fill="#f6f8fa" stroke="#727a85" stroke-width="0.6" />
<circle cx="401.88" cy="399.11" r="2.0" fill="#f6f8fa" stroke="#727a85" stroke-width="0.6" />
<circle cx="392.34" cy="396.75" r="2.0" fill="#f6f8fa" stroke="#727a85" stroke-width="0.6" />
<circle cx="390.04" cy="396.09" r="2.0" fill="#f6f8fa" stroke="#727a85" stroke-width="0.6" />
<circle cx="383.58" cy="398.27" r="2.0" fill="#f6f8fa" stroke="#727a85" stroke-width="0.6" />
<circle cx="420.14" cy="399.70" r="2.0" fill="#f6f8fa" stroke="#727a85" stroke-width="0.6" />
<circle cx="401.58" cy="396.74" r="2.0" fill="#f6f8fa" stroke="#727a85" stroke-width="0.6" />
<circle cx="460.34" cy="399.66" r="2.0" fill="#f6f8fa" stroke="#727a85" stroke-width="0.6" />
<circle cx="437.17" cy="400.00" r="2.0" fill="#f6f8fa" stroke="#727a85" stroke-width="0.6" />
<circle cx="402.90" cy="399.44" r="2.0" fill="#f6f8fa" stroke="#727a85" stroke-width="0.6" />
<circle cx="402.60" cy="399.79" r="2.0" fill="#f6f8fa" stroke="#727a85" stroke-width="0.6" />
<circle cx="450.51" cy="396.09" r="2.0" fill="#f6f8fa" stroke="#727a85" stroke-width="0.6" />
<circle cx="448.39" cy="396.68" r="2.0" fill="#f6f8fa" stroke="#727a85" stroke-width="0.6" />
<circle cx="373.55" cy="396.44" r="2.0" fill="#f6f8fa" stroke="#727a85" stroke-width="0.6" />
<circle cx="425.99" cy="400.97" r="2.0" fill="#f6f8fa" stroke="#727a85" stroke-width="0.6" />
<circle cx="460.84" cy="396.91" r="2.0" fill="#f6f8fa" stroke="#727a85" stroke-width="0.6" />
<circle cx="413.18" cy="401.46" r="2.0" fill="#f6f8fa" stroke="#727a85" stroke-width="0.6" />
<circle cx="457.20" cy="400.79" r="2.0" fill="#f6f8fa" stroke="#727a85" stroke-width="0.6" />
<circle cx="395.83" cy="397.59" r="2.0" fill="#f6f8fa" stroke="#727a85" stroke-width="0.6" />
<circle cx="386.31" cy="397.53" r="2.0" fill="#f6f8fa" stroke="#727a85" stroke-width="0.6" />
<circle cx="410.84" cy="400.62" r="2.0" fill="#f6f8fa" stroke="#727a85" stroke-width="0.6" />
<circle cx="435.36" cy="397.00" r="2.0" fill="#f6f8fa" stroke="#727a85" stroke-width="0.6" />
<circle cx="389.16" cy="398.61" r="2.0" fill="#f6f8fa" stroke="#727a85" stroke-width="0.6" />
<circle cx="457.48" cy="398.74" r="2.0" fill="#f6f8fa" stroke="#727a85" stroke-width="0.6" />
<circle cx="376.83" cy="400.31" r="2.0" fill="#f6f8fa" stroke="#727a85" stroke-width="0.6" />
<circle cx="378.17" cy="399.38" r="2.0" fill="#f6f8fa" stroke="#727a85" stroke-width="0.6" />
<circle cx="370.67" cy="399.20" r="2.0" fill="#f6f8fa" stroke="#727a85" stroke-width="0.6" />
<circle cx="377.03" cy="398.34" r="2.0" fill="#f6f8fa" stroke="#727a85" stroke-width="0.6" />
<circle cx="401.82" cy="369.79" r="2.0" fill="#f6f8fa" stroke="#727a85" stroke-width="0.6" />
<circle cx="405.26" cy="383.07" r="2.0" fill="#f6f8fa" stroke="#727a85" stroke-width="0.6" />
<circle cx="401.59" cy="401.92" r="2.0" fill="#f6f8fa" stroke="#727a85" stroke-width="0.6" />
<circle cx="402.20" cy="393.52" r="2.0" fill="#f6f8fa" stroke="#727a85" stroke-width="0.6" />
<circle cx="399.90" cy="398.57" r="2.0" fill="#f6f8fa" stroke="#727a85" stroke-width="0.6" />
<circle cx="410.82" cy="393.21" r="2.0" fill="#f6f8fa" stroke="#727a85" stroke-width="0.6" />
<circle cx="399.55" cy="372.37" r="2.0" fill="#f6f8fa" stroke="#727a85" stroke-width="0.6" />
<circle cx="403.12" cy="400.63" r="2.0" fill="#f6f8fa" stroke="#727a85" stroke-width="0.6" />
<circle cx="407.16" cy="381.68" r="2.0" fill="#f6f8fa" stroke="#727a85" stroke-width="0.6" />
<circle cx="403.39" cy="378.78" r="2.0" fill="#f6f8fa" stroke="#727a85" stroke-width="0.6" />
<circle cx="410.01" cy="396.69" r="2.0" fill="#f6f8fa" stroke="#727a85" stroke-width="0.6" />
<circle cx="405.47" cy="402.00" r="2.0" fill="#f6f8fa" stroke="#727a85" stroke-width="0.6" />
<circle cx="406.60" cy="398.07" r="2.0" fill="#f6f8fa" stroke="#727a85" stroke-width="0.6" />
<circle cx="407.33" cy="375.56" r="2.0" fill="#f6f8fa" stroke="#727a85" stroke-width="0.6" />
<circle cx="403.59" cy="381.52" r="2.0" fill="#f6f8fa" stroke="#727a85" stroke-width="0.6" />
<circle cx="410.81" cy="400.69" r="2.0" fill="#f6f8fa" stroke="#727a85" stroke-width="0.6" />
<circle cx="409.07" cy="391.52" r="2.0" fill="#f6f8fa" stroke="#727a85" stroke-width="0.6" />
<circle cx="410.82" cy="401.75" r="2.0" fill="#f6f8fa" stroke="#727a85" stroke-width="0.6" />
<circle cx="404.10" cy="400.79" r="2.0" fill="#f6f8fa" stroke="#727a85" stroke-width="0.6" />
<circle cx="402.61" cy="365.55" r="2.0" fill="#f6f8fa" stroke="#727a85" stroke-width="0.6" />
<circle cx="405.87" cy="396.11" r="2.0" fill="#f6f8fa" stroke="#727a85" stroke-width="0.6" />
<circle cx="411.05" cy="401.87" r="2.0" fill="#f6f8fa" stroke="#727a85" stroke-width="0.6" />
<circle cx="399.72" cy="374.88" r="2.0" fill="#f6f8fa" stroke="#727a85" stroke-width="0.6" />
<circle cx="406.19" cy="370.10" r="2.0" fill="#f6f8fa" stroke="#727a85" stroke-width="0.6" />
<circle cx="405.45" cy="361.01" r="2.0" fill="#f6f8fa" stroke="#727a85" stroke-width="0.6" />
<circle cx="403.48" cy="399.59" r="2.0" fill="#f6f8fa" stroke="#727a85" stroke-width="0.6" />
<circle cx="410.10" cy="388.92" r="2.0" fill="#f6f8fa" stroke="#727a85" stroke-width="0.6" />
<circle cx="399.86" cy="402.00" r="2.0" fill="#f6f8fa" stroke="#727a85" stroke-width="0.6" />
<circle cx="399.69" cy="377.52" r="2.0" fill="#f6f8fa" stroke="#727a85" stroke-width="0.6" />
<circle cx="407.16" cy="401.41" r="2.0" fill="#f6f8fa" stroke="#727a85" stroke-width="0.6" />
<circle cx="409.06" cy="374.30" r="2.0" fill="#f6f8fa" stroke="#727a85" stroke-width="0.6" />
<circle cx="407.07" cy="386.64" r="2.0" fill="#f6f8fa" stroke="#727a85" stroke-width="0.6" />
<circle cx="404.71" cy="379.94" r="2.0" fill="#f6f8fa" stroke="#727a85" stroke-width="0.6" />
<circle cx="404.17" cy="362.47" r="2.0" fill="#f6f8fa" stroke="#727a85" stroke-width="0.6" />
<circle cx="406.59" cy="381.17" r="2.0" fill="#f6f8fa" stroke="#727a85" stroke-width="0.6" />
<circle cx="410.61" cy="357.52" r="2.0" fill="#f6f8fa" stroke="#727a85" stroke-width="0.6" />
<circle cx="405.89" cy="401.42" r="2.0" fill="#f6f8fa" stroke="#727a85" stroke-width="0.6" />
<circle cx="405.80" cy="363.17" r="2.0" fill="#f6f8fa" stroke="#727a85" stroke-width="0.6" />
<circle cx="401.99" cy="399.00" r="2.0" fill="#f6f8fa" stroke="#727a85" stroke-width="0.6" />
<circle cx="402.80" cy="399.52" r="2.0" fill="#f6f8fa" stroke="#727a85" stroke-width="0.6" />
<circle cx="409.25" cy="388.80" r="2.0" fill="#f6f8fa" stroke="#727a85" stroke-width="0.6" />
<circle cx="400.53" cy="389.98" r="2.0" fill="#f6f8fa" stroke="#727a85" stroke-width="0.6" />
<circle cx="407.85" cy="401.97" r="2.0" fill="#f6f8fa" stroke="#727a85" stroke-width="0.6" />
<circle cx="401.85" cy="401.99" r="2.0" fill="#f6f8fa" stroke="#727a85" stroke-width="0.6" />
<circle cx="407.85" cy="394.64" r="2.0" fill="#f6f8fa" stroke="#727a85" stroke-width="0.6" />
<circle cx="399.66" cy="399.19" r="2.0" fill="#f6f8fa" stroke="#727a85" stroke-width="0.6" />
<circle cx="401.81" cy="387.12" r="2.0" fill="#f6f8fa" stroke="#727a85" stroke-width="0.6" />
<circle cx="404.62" cy="393.85" r="2.0" fill="#f6f8fa" stroke="#727a85" stroke-width="0.6" />
<circle cx="403.45" cy="401.93" r="2.0" fill="#f6f8fa" stroke="#727a85" stroke-width="0.6" />
<circle cx="403.42" cy="383.51" r="2.0" fill="#f6f8fa" stroke="#727a85" stroke-width="0.6" />
<circle cx="405.95" cy="386.10" r="2.0" fill="#f6f8fa" stroke="#727a85" stroke-width="0.6" />
<circle cx="401.41" cy="401.92" r="2.0" fill="#f6f8fa" stroke="#727a85" stroke-width="0.6" />
<circle cx="408.65" cy="378.58" r="2.0" fill="#f6f8fa" stroke="#727a85" stroke-width="0.6" />
<circle cx="407.40" cy="359.39" r="2.0" fill="#f6f8fa" stroke="#727a85" stroke-width="0.6" />
<circle cx="403.18" cy="377.36" r="2.0" fill="#f6f8fa" stroke="#727a85" stroke-width="0.6" />
<circle cx="402.96" cy="385.49" r="2.0" fill="#f6f8fa" stroke="#727a85" stroke-width="0.6" />
<circle cx="410.38" cy="392.46" r="2.0" fill="#f6f8fa" stroke="#727a85" stroke-width="0.6" />
<circle cx="406.88" cy="357.15" r="2.0" fill="#f6f8fa" stroke="#727a85" stroke-width="0.6" />
<circle cx="405.38" cy="399.37" r="2.0" fill="#f6f8fa" stroke="#727a85" stroke-width="0.6" />
<circle cx="410.95" cy="381.08" r="2.0" fill="#f6f8fa" stroke="#727a85" stroke-width="0.6" />
<circle cx="403.41" cy="398.53" r="2.0" fill="#f6f8fa" stroke="#727a85" stroke-width="0.6" />
<circle cx="399.77" cy="401.66" r="2.0" fill="#f6f8fa" stroke="#727a85" stroke-width="0.6" />
<circle cx="411.25" cy="387.63" r="2.0" fill="#f6f8fa" stroke="#727a85" stroke-width="0.6" />
<circle cx="408.84" cy="399.34" r="2.0" fill="#f6f8fa" stroke="#727a85" stroke-width="0.6" />
<circle cx="409.59" cy="379.05" r="2.0" fill="#f6f8fa" stroke="#727a85" stroke-width="0.6" />
<circle cx="410.00" cy="391.17" r="2.0" fill="#f6f8fa" stroke="#727a85" stroke-width="0.6" />
<circle cx="410.51" cy="387.13" r="2.0" fill="#f6f8fa" stroke="#727a85" stroke-width="0.6" />
<circle cx="401.23" cy="364.01" r="2.0" fill="#f6f8fa" stroke="#727a85" stroke-width="0.6" />
<circle cx="403.12" cy="362.78" r="2.0" fill="#f6f8fa" stroke="#727a85" stroke-width="0.6" />
<circle cx="406.09" cy="394.64" r="2.0" fill="#f6f8fa" stroke="#727a85" stroke-width="0.6" />
<circle cx="424.26" cy="393.71" r="2.0" fill="#f6f8fa" stroke="#727a85" stroke-width="0.6" />
<circle cx="418.51" cy="401.90" r="2.0" fill="#f6f8fa" stroke="#727a85" stroke-width="0.6" />
<circle cx="418.60" cy="348.73" r="2.0" fill="#f6f8fa" stroke="#727a85" stroke-width="0.6" />
<circle cx="422.03" cy="401.98" r="2.0" fill="#f6f8fa" stroke="#727a85" stroke-width="0.6" />
<circle cx="422.71" cy="376.58" r="2.0" fill="#f6f8fa" stroke="#727a85" stroke-width="0.6" />
<circle cx="425.74" cy="347.36" r="2.0" fill="#f6f8fa" stroke="#727a85" stroke-width="0.6" />
<circle cx="422.06" cy="342.22" r="2.0" fill="#f6f8fa" stroke="#727a85" stroke-width="0.6" />
<circle cx="417.65" cy="400.62" r="2.0" fill="#f6f8fa" stroke="#727a85" stroke-width="0.6" />
<circle cx="423.88" cy="375.61" r="2.0" fill="#f6f8fa" stroke="#727a85" stroke-width="0.6" />
<circle cx="422.93" cy="362.34" r="2.0" fill="#f6f8fa" stroke="#727a85" stroke-width="0.6" />
<circle cx="424.60" cy="402.00" r="2.0" fill="#f6f8fa" stroke="#727a85" stroke-width="0.6" />
<circle cx="422.57" cy="376.04" r="2.0" fill="#f6f8fa" stroke="#727a85" stroke-width="0.6" />
<circle cx="420.85" cy="400.07" r="2.0" fill="#f6f8fa" stroke="#727a85" stroke-width="0.6" />
<circle cx="425.87" cy="389.07" r="2.0" fill="#f6f8fa" stroke="#727a85" stroke-width="0.6" />
<circle cx="430.34" cy="342.51" r="2.0" fill="#f6f8fa" stroke="#727a85" stroke-width="0.6" />
<circle cx="421.50" cy="401.95" r="2.0" fill="#f6f8fa" stroke="#727a85" stroke-width="0.6" />
<circle cx="419.81" cy="390.64" r="2.0" fill="#f6f8fa" stroke="#727a85" stroke-width="0.6" />
<circle cx="423.01" cy="390.66" r="2.0" fill="#f6f8fa" stroke="#727a85" stroke-width="0.6" />
<circle cx="418.62" cy="396.75" r="2.0" fill="#f6f8fa" stroke="#727a85" stroke-width="0.6" />
<circle cx="422.83" cy="365.49" r="2.0" fill="#f6f8fa" stroke="#727a85" stroke-width="0.6" />
<circle cx="419.00" cy="376.67" r="2.0" fill="#f6f8fa" stroke="#727a85" stroke-width="0.6" />
<circle cx="422.43" cy="363.37" r="2.0" fill="#f6f8fa" stroke="#727a85" stroke-width="0.6" />
<circle cx="426.35" cy="399.95" r="2.0" fill="#f6f8fa" stroke="#727a85" stroke-width="0.6" />
<circle cx="426.67" cy="393.85" r="2.0" fill="#f6f8fa" stroke="#727a85" stroke-width="0.6" />
<circle cx="428.33" cy="401.98" r="2.0" fill="#f6f8fa" stroke="#727a85" stroke-width="0.6" />
<circle cx="421.57" cy="385.45" r="2.0" fill="#f6f8fa" stroke="#727a85" stroke-width="0.6" />
<circle cx="421.32" cy="392.89" r="2.0" fill="#f6f8fa" stroke="#727a85" stroke-width="0.6" />
<circle cx="425.00" cy="398.75" r="2.0" fill="#f6f8fa" stroke="#727a85" stroke-width="0.6" />
<circle cx="428.67" cy="397.27" r="2.0" fill="#f6f8fa" stroke="#727a85" stroke-width="0.6" />
<circle cx="426.48" cy="341.41" r="2.0" fill="#f6f8fa" stroke="#727a85" stroke-width="0.6" />
<circle cx="418.79" cy="351.94" r="2.0" fill="#f6f8fa" stroke="#727a85" stroke-width="0.6" />
<circle cx="419.78" cy="389.47" r="2.0" fill="#f6f8fa" stroke="#727a85" stroke-width="0.6" />
<circle cx="419.04" cy="345.62" r="2.0" fill="#f6f8fa" stroke="#727a85" stroke-width="0.6" />
<circle cx="421.53" cy="385.66" r="2.0" fill="#f6f8fa" stroke="#727a85" stroke-width="0.6" />
<circle cx="430.13" cy="400.83" r="2.0" fill="#f6f8fa" stroke="#727a85" stroke-width="0.6" />
<circle cx="418.52" cy="371.30" r="2.0" fill="#f6f8fa" stroke="#727a85" stroke-width="0.6" />
<circle cx="418.09" cy="401.14" r="2.0" fill="#f6f8fa" stroke="#727a85" stroke-width="0.6" />
<circle cx="420.81" cy="402.00" r="2.0" fill="#f6f8fa" stroke="#727a85" stroke-width="0.6" />
<circle cx="421.96" cy="401.84" r="2.0" fill="#f6f8fa" stroke="#727a85" stroke-width="0.6" />
<circle cx="429.61" cy="385.93" r="2.0" fill="#f6f8fa" stroke="#727a85" stroke-width="0.6" />
<circle cx="417.90" cy="366.05" r="2.0" fill="#f6f8fa" stroke="#727a85" stroke-width="0.6" />
<circle cx="420.60" cy="351.41" r="2.0" fill="#f6f8fa" stroke="#727a85" stroke-width="0.6" />
<circle cx="417.96" cy="401.21" r="2.0" fill="#f6f8fa" stroke="#727a85" stroke-width="0.6" />
<circle cx="422.33" cy="358.05" r="2.0" fill="#f6f8fa" stroke="#727a85" stroke-width="0.6" />
<circle cx="429.63" cy="340.77" r="2.0" fill="#f6f8fa" stroke="#727a85" stroke-width="0.6" />
<circle cx="420.18" cy="393.71" r="2.0" fill="#f6f8fa" stroke="#727a85" stroke-width="0.6" />
<circle cx="428.59" cy="359.35" r="2.0" fill="#f6f8fa" stroke="#727a85" stroke-width="0.6" />
<circle cx="429.72" cy="401.66" r="2.0" fill="#f6f8fa" stroke="#727a85" stroke-width="0.6" />
<circle cx="418.00" cy="392.26" r="2.0" fill="#f6f8fa" stroke="#727a85" stroke-width="0.6" />
<circle cx="428.46" cy="371.88" r="2.0" fill="#f6f8fa" stroke="#727a85" stroke-width="0.6" />
<circle cx="422.90" cy="372.40" r="2.0" fill="#f6f8fa" stroke="#727a85" stroke-width="0.6" />
<circle cx="423.27" cy="356.89" r="2.0" fill="#f6f8fa" stroke="#727a85" stroke-width="0.6" />
<circle cx="421.24" cy="365.73" r="2.0" fill="#f6f8fa" stroke="#727a85" stroke-width="0.6" />
<circle cx="419.48" cy="380.25" r="2.0" fill="#f6f8fa" stroke="#727a85" stroke-width="0.6" />
<circle cx="421.57" cy="395.26" r="2.0" fill="#f6f8fa" stroke="#727a85" stroke-width="0.6" />
<circle cx="420.97" cy="401.95" r="2.0" fill="#f6f8fa" stroke="#727a85" stroke-width="0.6" />
<circle cx="418.73" cy="373.43" r="2.0" fill="#f6f8fa" stroke="#727a85" stroke-width="0.6" />
<circle cx="426.16" cy="374.58" r="2.0" fill="#f6f8fa" stroke="#727a85" stroke-width="0.6" />
<circle cx="423.12" cy="380.23" r="2.0" fill="#f6f8fa" stroke="#727a85" stroke-width="0.6" />
<circle cx="427.83" cy="338.11" r="2.0" fill="#f6f8fa" stroke="#727a85" stroke-width="0.6" />
<circle cx="422.58" cy="366.16" r="2.0" fill="#f6f8fa" stroke="#727a85" stroke-width="0.6" />
<circle cx="428.05" cy="355.71" r="2.0" fill="#f6f8fa" stroke="#727a85" stroke-width="0.6" />
<circle cx="426.21" cy="399.01" r="2.0" fill="#f6f8fa" stroke="#727a85" stroke-width="0.6" />
<circle cx="428.06" cy="382.44" r="2.0" fill="#f6f8fa" stroke="#727a85" stroke-width="0.6" />
<circle cx="427.14" cy="366.43" r="2.0" fill="#f6f8fa" stroke="#727a85" stroke-width="0.6" />
<circle cx="420.19" cy="401.74" r="2.0" fill="#f6f8fa" stroke="#727a85" stroke-width="0.6" />
<circle cx="427.65" cy="373.82" r="2.0" fill="#f6f8fa" stroke="#727a85" stroke-width="0.6" />
<circle cx="417.72" cy="401.90" r="2.0" fill="#f6f8fa" stroke="#727a85" stroke-width="0.6" />
<circle cx="422.99" cy="375.07" r="2.0" fill="#f6f8fa" stroke="#727a85" stroke-width="0.6" />
<circle cx="419.10" cy="371.26" r="2.0" fill="#f6f8fa" stroke="#727a85" stroke-width="0.6" />
<circle cx="421.97" cy="375.45" r="2.0" fill="#f6f8fa" stroke="#727a85" stroke-width="0.6" />
<circle cx="421.04" cy="398.88" r="2.0" fill="#f6f8fa" stroke="#727a85" stroke-width="0.6" />
<circle cx="419.42" cy="372.06" r="2.0" fill="#f6f8fa" stroke="#727a85" stroke-width="0.6" />
<circle cx="425.60" cy="401.76" r="2.0" fill="#f6f8fa" stroke="#727a85" stroke-width="0.6" />
<circle cx="418.98" cy="356.70" r="2.0" fill="#f6f8fa" stroke="#727a85" stroke-width="0.6" />
<circle cx="420.89" cy="345.54" r="2.0" fill="#f6f8fa" stroke="#727a85" stroke-width="0.6" />
<circle cx="430.20" cy="359.54" r="2.0" fill="#f6f8fa" stroke="#727a85" stroke-width="0.6" />
<circle cx="419.30" cy="401.44" r="2.0" fill="#f6f8fa" stroke="#727a85" stroke-width="0.6" />
<circle cx="428.27" cy="391.51" r="2.0" fill="#f6f8fa" stroke="#727a85" stroke-width="0.6" />
<circle cx="417.92" cy="401.43" r="2.0" fill="#f6f8fa" stroke="#727a85" stroke-width="0.6" />
<circle cx="421.20" cy="398.47" r="2.0" fill="#f6f8fa" stroke="#727a85" stroke-width="0.6" />
<circle cx="417.98" cy="369.16" r="2.0" fill="#f6f8fa" stroke="#727a85" stroke-width="0.6" />
<circle cx="418.25" cy="397.16" r="2.0" fill="#f6f8fa" stroke="#727a85" stroke-width="0.6" />
<circle cx="426.58" cy="365.96" r="2.0" fill="#f6f8fa" stroke="#727a85" stroke-width="0.6" />
<circle cx="427.77" cy="398.79" r="2.0" fill="#f6f8fa" stroke="#727a85" stroke-width="0.6" />
<circle cx="419.71" cy="377.79" r="2.0" fill="#f6f8fa" stroke="#727a85" stroke-width="0.6" />
<circle cx="427.97" cy="367.06" r="2.0" fill="#f6f8fa" stroke="#727a85" stroke-width="0.6" />
<circle cx="427.13" cy="391.62" r="2.0" fill="#f6f8fa" stroke="#727a85" stroke-width="0.6" />
<circle cx="426.82" cy="347.99" r="2.0" fill="#f6f8fa" stroke="#727a85" stroke-width="0.6" />
<circle cx="425.51" cy="400.85" r="2.0" fill="#f6f8fa" stroke="#727a85" stroke-width="0.6" />
<circle cx="457.42" cy="401.99" r="2.0" fill="#f6f8fa" stroke="#727a85" stroke-width="0.6" />
<circle cx="431.35" cy="400.47" r="2.0" fill="#f6f8fa" stroke="#727a85" stroke-width="0.6" />
<circle cx="442.94" cy="375.98" r="2.0" fill="#f6f8fa" stroke="#727a85" stroke-width="0.6" />
<circle cx="454.55" cy="398.20" r="2.0" fill="#f6f8fa" stroke="#727a85" stroke-width="0.6" />
<circle cx="449.36" cy="398.59" r="2.0" fill="#f6f8fa" stroke="#727a85" stroke-width="0.6" />
<circle cx="459.79" cy="393.18" r="2.0" fill="#f6f8fa" stroke="#727a85" stroke-width="0.6" />
<circle cx="442.62" cy="378.14" r="2.0" fill="#f6f8fa" stroke="#727a85" stroke-width="0.6" />
<circle cx="457.10" cy="398.71" r="2.0" fill="#f6f8fa" stroke="#727a85" stroke-width="0.6" />
<circle cx="461.76" cy="401.97" r="2.0" fill="#f6f8fa" stroke="#727a85" stroke-width="0.6" />
<circle cx="459.02" cy="397.84" r="2.0" fill="#f6f8fa" stroke="#727a85" stroke-width="0.6" />
<circle cx="446.59" cy="381.42" r="2.0" fill="#f6f8fa" stroke="#727a85" stroke-width="0.6" />
<circle cx="444.51" cy="398.20" r="2.0" fill="#f6f8fa" stroke="#727a85" stroke-width="0.6" />
<circle cx="438.60" cy="390.78" r="2.0" fill="#f6f8fa" stroke="#727a85" stroke-width="0.6" />
<circle cx="453.95" cy="391.22" r="2.0" fill="#f6f8fa" stroke="#727a85" stroke-width="0.6" />
<circle cx="436.09" cy="381.77" r="2.0" fill="#f6f8fa" stroke="#727a85" stroke-width="0.6" />
<circle cx="446.72" cy="401.85" r="2.0" fill="#f6f8fa" stroke="#727a85" stroke-width="0.6" />
<circle cx="437.63" cy="401.81" r="2.0" fill="#f6f8fa" stroke="#727a85" stroke-width="0.6" />
<circle cx="435.58" cy="396.31" r="2.0" fill="#f6f8fa" stroke="#727a85" stroke-width="0.6" />
<circle cx="455.06" cy="390.19" r="2.0" fill="#f6f8fa" stroke="#727a85" stroke-width="0.6" />
<circle cx="462.07" cy="374.80" r="2.0" fill="#f6f8fa" stroke="#727a85" stroke-width="0.6" />
<circle cx="450.92" cy="382.68" r="2.0" fill="#f6f8fa" stroke="#727a85" stroke-width="0.6" />
<circle cx="460.19" cy="396.41" r="2.0" fill="#f6f8fa" stroke="#727a85" stroke-width="0.6" />
<circle cx="457.92" cy="394.92" r="2.0" fill="#f6f8fa" stroke="#727a85" stroke-width="0.6" />
<circle cx="455.18" cy="385.27" r="2.0" fill="#f6f8fa" stroke="#727a85" stroke-width="0.6" />
<circle cx="460.04" cy="396.48" r="2.0" fill="#f6f8fa" stroke="#727a85" stroke-width="0.6" />
<circle cx="433.57" cy="401.97" r="2.0" fill="#f6f8fa" stroke="#727a85" stroke-width="0.6" />
<circle cx="453.63" cy="393.54" r="2.0" fill="#f6f8fa" stroke="#727a85" stroke-width="0.6" />
<circle cx="458.05" cy="401.57" r="2.0" fill="#f6f8fa" stroke="#727a85" stroke-width="0.6" />
<circle cx="457.16" cy="374.53" r="2.0" fill="#f6f8fa" stroke="#727a85" stroke-width="0.6" />
<circle cx="446.38" cy="401.91" r="2.0" fill="#f6f8fa" stroke="#727a85" stroke-width="0.6" />
<circle cx="453.03" cy="401.94" r="2.0" fill="#f6f8fa" stroke="#727a85" stroke-width="0.6" />
<circle cx="456.43" cy="385.04" r="2.0" fill="#f6f8fa" stroke="#727a85" stroke-width="0.6" />
<circle cx="443.15" cy="380.00" r="2.0" fill="#f6f8fa" stroke="#727a85" stroke-width="0.6" />
<circle cx="443.06" cy="384.42" r="2.0" fill="#f6f8fa" stroke="#727a85" stroke-width="0.6" />
<circle cx="386.00" cy="391.56" r="2.0" fill="#f6f8fa" stroke="#727a85" stroke-width="0.6" />
<circle cx="382.88" cy="399.70" r="2.0" fill="#f6f8fa" stroke="#727a85" stroke-width="0.6" />
<circle cx="387.73" cy="386.22" r="2.0" fill="#f6f8fa" stroke="#727a85" stroke-width="0.6" />
<circle cx="395.03" cy="401.78" r="2.0" fill="#f6f8fa" stroke="#727a85" stroke-width="0.6" />
<circle cx="388.83" cy="387.73" r="2.0" fill="#f6f8fa" stroke="#727a85" stroke-width="0.6" />
<circle cx="397.66" cy="397.76" r="2.0" fill="#f6f8fa" stroke="#727a85" stroke-width="0.6" />
<circle cx="383.74" cy="389.68" r="2.0" fill="#f6f8fa" stroke="#727a85" stroke-width="0.6" />
<circle cx="384.27" cy="394.90" r="2.0" fill="#f6f8fa" stroke="#727a85" stroke-width="0.6" />
<circle cx="386.33" cy="401.91" r="2.0" fill="#f6f8fa" stroke="#727a85" stroke-width="0.6" />
<circle cx="381.38" cy="398.57" r="2.0" fill="#f6f8fa" stroke="#727a85" stroke-width="0.6" />
<circle cx="381.79" cy="393.85" r="2.0" fill="#f6f8fa" stroke="#727a85" stroke-width="0.6" />
<circle cx="393.68" cy="391.33" r="2.0" fill="#f6f8fa" stroke="#727a85" stroke-width="0.6" />
<circle cx="333.00" cy="397.00" r="2.0" fill="#f6f8fa" stroke="#727a85" stroke-width="0.6" />
<circle cx="334.20" cy="400.80" r="2.0" fill="#f6f8fa" stroke="#727a85" stroke-width="0.6" />
<circle cx="341.30" cy="401.70" r="2.0" fill="#f6f8fa" stroke="#727a85" stroke-width="0.6" />
<circle cx="349.00" cy="397.00" r="2.0" fill="#f6f8fa" stroke="#727a85" stroke-width="0.6" />
<circle cx="352.90" cy="401.70" r="2.0" fill="#f6f8fa" stroke="#727a85" stroke-width="0.6" />
<circle cx="362.50" cy="398.80" r="2.0" fill="#f6f8fa" stroke="#727a85" stroke-width="0.6" />
<circle cx="369.20" cy="401.70" r="2.0" fill="#f6f8fa" stroke="#727a85" stroke-width="0.6" />
<circle cx="360.00" cy="372.00" r="2.0" fill="#f6f8fa" stroke="#727a85" stroke-width="0.6" />
<circle cx="363.00" cy="366.50" r="2.0" fill="#f6f8fa" stroke="#727a85" stroke-width="0.6" />
<circle cx="370.20" cy="369.00" r="2.0" fill="#f6f8fa" stroke="#727a85" stroke-width="0.6" />
<circle cx="373.00" cy="366.00" r="2.0" fill="#f6f8fa" stroke="#727a85" stroke-width="0.6" />
<circle cx="372.70" cy="376.70" r="2.0" fill="#f6f8fa" stroke="#727a85" stroke-width="0.6" />
<circle cx="376.00" cy="379.60" r="2.0" fill="#f6f8fa" stroke="#727a85" stroke-width="0.6" />
<circle cx="378.80" cy="374.80" r="2.0" fill="#f6f8fa" stroke="#727a85" stroke-width="0.6" />
<circle cx="382.70" cy="382.50" r="2.0" fill="#f6f8fa" stroke="#727a85" stroke-width="0.6" />
<circle cx="376.00" cy="387.00" r="2.0" fill="#f6f8fa" stroke="#727a85" stroke-width="0.6" />
<circle cx="388.50" cy="360.00" r="2.0" fill="#f6f8fa" stroke="#727a85" stroke-width="0.6" />
<circle cx="379.80" cy="393.00" r="2.0" fill="#f6f8fa" stroke="#727a85" stroke-width="0.6" />
<circle cx="389.40" cy="393.00" r="2.0" fill="#f6f8fa" stroke="#727a85" stroke-width="0.6" />
<circle cx="395.20" cy="387.30" r="2.0" fill="#f6f8fa" stroke="#727a85" stroke-width="0.6" />
<circle cx="425.00" cy="293.10" r="2.0" fill="#f6f8fa" stroke="#727a85" stroke-width="0.6" />
<circle cx="427.40" cy="327.80" r="2.0" fill="#f6f8fa" stroke="#727a85" stroke-width="0.6" />
<circle cx="423.30" cy="335.60" r="2.0" fill="#f6f8fa" stroke="#727a85" stroke-width="0.6" />
<circle cx="423.30" cy="340.50" r="2.0" fill="#f6f8fa" stroke="#727a85" stroke-width="0.6" />
<circle cx="430.70" cy="339.70" r="2.0" fill="#f6f8fa" stroke="#727a85" stroke-width="0.6" />
<circle cx="456.90" cy="355.20" r="2.0" fill="#f6f8fa" stroke="#727a85" stroke-width="0.6" />
<circle cx="388.20" cy="359.80" r="2.0" fill="#f6f8fa" stroke="#727a85" stroke-width="0.6" />
<circle cx="400.40" cy="354.40" r="2.0" fill="#f6f8fa" stroke="#727a85" stroke-width="0.6" />
<circle cx="405.30" cy="355.20" r="2.0" fill="#f6f8fa" stroke="#727a85" stroke-width="0.6" />
<circle cx="382.50" cy="382.20" r="2.0" fill="#f6f8fa" stroke="#727a85" stroke-width="0.6" />
<circle cx="395.50" cy="388.00" r="2.0" fill="#f6f8fa" stroke="#727a85" stroke-width="0.6" />
<circle cx="456.50" cy="355.00" r="2.0" fill="#f6f8fa" stroke="#727a85" stroke-width="0.6" />
<circle cx="473.50" cy="362.00" r="2.0" fill="#f6f8fa" stroke="#727a85" stroke-width="0.6" />
<circle cx="458.50" cy="367.70" r="2.0" fill="#f6f8fa" stroke="#727a85" stroke-width="0.6" />
<circle cx="455.20" cy="371.00" r="2.0" fill="#f6f8fa" stroke="#727a85" stroke-width="0.6" />
<circle cx="440.20" cy="360.80" r="2.0" fill="#f6f8fa" stroke="#727a85" stroke-width="0.6" />
<circle cx="439.20" cy="374.80" r="2.0" fill="#f6f8fa" stroke="#727a85" stroke-width="0.6" />
<circle cx="437.70" cy="382.00" r="2.0" fill="#f6f8fa" stroke="#727a85" stroke-width="0.6" />
<circle cx="454.20" cy="382.00" r="2.0" fill="#f6f8fa" stroke="#727a85" stroke-width="0.6" />
<circle cx="477.30" cy="382.00" r="2.0" fill="#f6f8fa" stroke="#727a85" stroke-width="0.6" />
<circle cx="494.60" cy="390.20" r="2.0" fill="#f6f8fa" stroke="#727a85" stroke-width="0.6" />
<circle cx="487.30" cy="398.80" r="2.0" fill="#f6f8fa" stroke="#727a85" stroke-width="0.6" />
<circle cx="472.00" cy="398.80" r="2.0" fill="#f6f8fa" stroke="#727a85" stroke-width="0.6" />
<circle cx="467.00" cy="399.80" r="2.0" fill="#f6f8fa" stroke="#727a85" stroke-width="0.6" />
<circle cx="461.30" cy="393.00" r="2.0" fill="#f6f8fa" stroke="#727a85" stroke-width="0.6" />
<circle cx="454.60" cy="387.30" r="2.0" fill="#f6f8fa" stroke="#727a85" stroke-width="0.6" />
<circle cx="447.00" cy="391.00" r="2.0" fill="#f6f8fa" stroke="#727a85" stroke-width="0.6" />
<circle cx="432.00" cy="292.00" r="2.0" fill="#f6f8fa" stroke="#727a85" stroke-width="0.6" />
<circle cx="432.00" cy="312.00" r="2.0" fill="#f6f8fa" stroke="#727a85" stroke-width="0.6" />
<circle cx="421.00" cy="345.00" r="2.0" fill="#f6f8fa" stroke="#727a85" stroke-width="0.6" />
<circle cx="425.00" cy="348.00" r="2.0" fill="#f6f8fa" stroke="#727a85" stroke-width="0.6" />
<circle cx="428.00" cy="343.00" r="2.0" fill="#f6f8fa" stroke="#727a85" stroke-width="0.6" />
<circle cx="420.00" cy="350.00" r="2.0" fill="#f6f8fa" stroke="#727a85" stroke-width="0.6" />
<circle cx="373.80" cy="268.80" r="1.8" fill="#141432" stroke="#0c0d33" stroke-width="0.3" />
<circle cx="396.30" cy="281.30" r="1.8" fill="#141432" stroke="#0c0d33" stroke-width="0.3" />
<circle cx="377.00" cy="335.40" r="1.8" fill="#141432" stroke="#0c0d33" stroke-width="0.3" />
<circle cx="432.00" cy="261.30" r="1.8" fill="#141432" stroke="#0c0d33" stroke-width="0.3" />
<line x1="424.20" y1="269.60" x2="443.10" y2="269.90" stroke="#222" stroke-width="0.9" />
<circle cx="443.30" cy="263.50" r="1.9" fill="#c4532b" stroke="#7e3115" stroke-width="0.45" />
<circle cx="443.10" cy="270.20" r="1.9" fill="#c4532b" stroke="#7e3115" stroke-width="0.45" />
<rect x="362.50" y="270.50" width="20.00" height="7.00" rx="1.5" fill="#fff" stroke="#333" stroke-width="0.85"/>
<text x="372.50" y="275.81" font-size="4.9" fill="#333" text-anchor="middle" textLength="17.00" lengthAdjust="spacingAndGlyphs" >STAT1</text>
<rect x="386.30" y="283.80" width="16.70" height="6.70" rx="1.5" fill="#fff" stroke="#333" stroke-width="0.85"/>
<text x="394.65" y="288.96" font-size="4.9" fill="#333" text-anchor="middle" textLength="13.70" lengthAdjust="spacingAndGlyphs" >LAP3</text>
<rect x="366.30" y="327.30" width="18.30" height="6.50" rx="1.5" fill="#fff" stroke="#333" stroke-width="0.85"/>
<text x="375.45" y="332.36" font-size="4.9" fill="#333" text-anchor="middle" textLength="13.72" lengthAdjust="spacingAndGlyphs" >APOE</text>
<rect x="420.90" y="258.10" width="20.10" height="6.00" rx="1.5" fill="#fff" stroke="#333" stroke-width="0.85"/>
<text x="430.95" y="262.91" font-size="4.9" fill="#333" text-anchor="middle" textLength="17.10" lengthAdjust="spacingAndGlyphs" >VDAC3</text>
<rect x="406.70" y="265.90" width="17.50" height="6.30" rx="1.5" fill="#fff" stroke="#333" stroke-width="0.85"/>
<text x="415.45" y="270.86" font-size="4.9" fill="#333" text-anchor="middle" textLength="13.72" lengthAdjust="spacingAndGlyphs" >RTN4</text>
<rect x="443.70" y="270.90" width="20.60" height="7.40" rx="1.5" fill="#fff" stroke="#333" stroke-width="0.85"/>
<text x="454.00" y="276.41" font-size="4.9" fill="#333" text-anchor="middle" textLength="17.15" lengthAdjust="spacingAndGlyphs" >VDAC2</text>
<line x1="397.50" y1="258.50" x2="397.50" y2="407.00" stroke="#000" stroke-width="1.2" stroke-dasharray="5 5" stroke-dashoffset="0"/>
<line x1="432.50" y1="258.50" x2="432.50" y2="407.00" stroke="#000" stroke-width="1.2" stroke-dasharray="5 5" stroke-dashoffset="0"/>
<line x1="317.50" y1="347.50" x2="508.50" y2="347.50" stroke="#000" stroke-width="1.2" stroke-dasharray="5 5" stroke-dashoffset="0"/>
<line x1="317.50" y1="256.30" x2="317.50" y2="407.60" stroke="#111" stroke-width="1.25" />
<line x1="316.40" y1="407.50" x2="511.00" y2="407.50" stroke="#111" stroke-width="1.25" />
<line x1="313.80" y1="400.50" x2="317.00" y2="400.50" stroke="#111" stroke-width="1.0" />
<text x="310.00" y="403.30" font-size="7.5" fill="#222" text-anchor="end" stroke="#222" stroke-width="0.15">0</text>
<line x1="313.80" y1="358.50" x2="317.00" y2="358.50" stroke="#111" stroke-width="1.0" />
<text x="310.00" y="361.63" font-size="7.5" fill="#222" text-anchor="end" stroke="#222" stroke-width="0.15">1</text>
<line x1="313.80" y1="317.50" x2="317.00" y2="317.50" stroke="#111" stroke-width="1.0" />
<text x="310.00" y="319.96" font-size="7.5" fill="#222" text-anchor="end" stroke="#222" stroke-width="0.15">2</text>
<line x1="313.80" y1="275.50" x2="317.00" y2="275.50" stroke="#111" stroke-width="1.0" />
<text x="310.00" y="278.29" font-size="7.5" fill="#222" text-anchor="end" stroke="#222" stroke-width="0.15">3</text>
<line x1="327.50" y1="407.00" x2="327.50" y2="410.20" stroke="#111" stroke-width="1.0" />
<text x="325.40" y="421.60" font-size="7.5" fill="#222" text-anchor="middle" stroke="#222" stroke-width="0.15">−5</text>
<line x1="344.50" y1="407.00" x2="344.50" y2="410.20" stroke="#111" stroke-width="1.0" />
<text x="342.90" y="421.60" font-size="7.5" fill="#222" text-anchor="middle" stroke="#222" stroke-width="0.15">−4</text>
<line x1="362.50" y1="407.00" x2="362.50" y2="410.20" stroke="#111" stroke-width="1.0" />
<text x="360.40" y="421.60" font-size="7.5" fill="#222" text-anchor="middle" stroke="#222" stroke-width="0.15">−3</text>
<line x1="379.50" y1="407.00" x2="379.50" y2="410.20" stroke="#111" stroke-width="1.0" />
<text x="377.90" y="421.60" font-size="7.5" fill="#222" text-anchor="middle" stroke="#222" stroke-width="0.15">−2</text>
<line x1="397.50" y1="407.00" x2="397.50" y2="410.20" stroke="#111" stroke-width="1.0" />
<text x="395.40" y="421.60" font-size="7.5" fill="#222" text-anchor="middle" stroke="#222" stroke-width="0.15">−1</text>
<line x1="414.50" y1="407.00" x2="414.50" y2="410.20" stroke="#111" stroke-width="1.0" />
<text x="414.50" y="421.60" font-size="7.5" fill="#222" text-anchor="middle" stroke="#222" stroke-width="0.15">0</text>
<line x1="432.50" y1="407.00" x2="432.50" y2="410.20" stroke="#111" stroke-width="1.0" />
<text x="432.00" y="421.60" font-size="7.5" fill="#222" text-anchor="middle" stroke="#222" stroke-width="0.15">1</text>
<line x1="449.50" y1="407.00" x2="449.50" y2="410.20" stroke="#111" stroke-width="1.0" />
<text x="449.50" y="421.60" font-size="7.5" fill="#222" text-anchor="middle" stroke="#222" stroke-width="0.15">2</text>
<line x1="467.50" y1="407.00" x2="467.50" y2="410.20" stroke="#111" stroke-width="1.0" />
<text x="467.00" y="421.60" font-size="7.5" fill="#222" text-anchor="middle" stroke="#222" stroke-width="0.15">3</text>
<line x1="484.50" y1="407.00" x2="484.50" y2="410.20" stroke="#111" stroke-width="1.0" />
<text x="484.50" y="421.60" font-size="7.5" fill="#222" text-anchor="middle" stroke="#222" stroke-width="0.15">4</text>
<line x1="502.50" y1="407.00" x2="502.50" y2="410.20" stroke="#111" stroke-width="1.0" />
<text x="502.00" y="421.60" font-size="7.5" fill="#222" text-anchor="middle" stroke="#222" stroke-width="0.15">5</text>
<text x="414.00" y="247.30" font-size="8.4" fill="#1a1a1a" text-anchor="middle" stroke="#1a1a1a" stroke-width="0.15">B-II-1</text>
<text x="290.30" y="246.30" font-size="14.0" fill="#111" text-anchor="start" font-weight="bold" >D</text>
<text x="299.40" y="330.10" font-size="8.2" fill="#222" text-anchor="middle" textLength="60" lengthAdjust="spacingAndGlyphs" transform="rotate(-90 299.40 330.10)" stroke="#222" stroke-width="0.22">-log10(adj.<tspan font-style="italic">P</tspan>-value)</text>
<text x="414.00" y="435.00" font-size="8.4" fill="#222" text-anchor="middle" textLength="52" lengthAdjust="spacingAndGlyphs" stroke="#222" stroke-width="0.22">log2(foldchange)</text>
<text x="8.50" y="468.80" font-size="14.0" fill="#111" text-anchor="start" font-weight="bold" >E</text>
<line x1="72.00" y1="502.00" x2="124.80" y2="592.90" stroke="#a2a2a2" stroke-width="1.3" />
<line x1="72.00" y1="502.00" x2="136.30" y2="600.20" stroke="#a2a2a2" stroke-width="1.3" />
<line x1="114.50" y1="487.00" x2="124.80" y2="592.90" stroke="#a2a2a2" stroke-width="1.3" />
<line x1="114.50" y1="487.00" x2="136.30" y2="600.20" stroke="#a2a2a2" stroke-width="1.3" />
<line x1="155.20" y1="489.50" x2="124.80" y2="592.90" stroke="#a2a2a2" stroke-width="1.3" />
<line x1="155.20" y1="489.50" x2="136.30" y2="600.20" stroke="#a2a2a2" stroke-width="1.3" />
<line x1="192.30" y1="507.90" x2="124.80" y2="592.90" stroke="#a2a2a2" stroke-width="1.3" />
<line x1="192.30" y1="507.90" x2="136.30" y2="600.20" stroke="#a2a2a2" stroke-width="1.3" />
<line x1="204.30" y1="550.80" x2="124.80" y2="592.90" stroke="#a2a2a2" stroke-width="1.3" />
<line x1="204.30" y1="550.80" x2="136.30" y2="600.20" stroke="#a2a2a2" stroke-width="1.3" />
<line x1="72.00" y1="502.00" x2="114.50" y2="487.00" stroke="#969696" stroke-width="1.2" />
<line x1="72.00" y1="502.00" x2="155.20" y2="489.50" stroke="#969696" stroke-width="1.2" />
<line x1="72.00" y1="502.00" x2="192.30" y2="507.90" stroke="#969696" stroke-width="1.2" />
<line x1="72.00" y1="502.00" x2="204.30" y2="550.80" stroke="#969696" stroke-width="1.2" />
<line x1="114.50" y1="487.00" x2="155.20" y2="489.50" stroke="#969696" stroke-width="1.2" />
<line x1="114.50" y1="487.00" x2="192.30" y2="507.90" stroke="#969696" stroke-width="1.2" />
<line x1="114.50" y1="487.00" x2="204.30" y2="550.80" stroke="#969696" stroke-width="1.2" />
<line x1="155.20" y1="489.50" x2="192.30" y2="507.90" stroke="#969696" stroke-width="1.2" />
<line x1="155.20" y1="489.50" x2="204.30" y2="550.80" stroke="#969696" stroke-width="1.2" />
<line x1="192.30" y1="507.90" x2="204.30" y2="550.80" stroke="#969696" stroke-width="1.2" />
<rect x="61.3" y="481.5" width="64" height="26" rx="13" ry="13" transform="rotate(-19.4 93.3 494.5)" fill="#d2a3d7" fill-opacity="0.6" stroke="#b57fbf" stroke-width="0.9"/>
<ellipse cx="184.2" cy="516.9" rx="55.5" ry="27.7" transform="rotate(54 184.2 516.9)" fill="#84c1e3" fill-opacity="0.6" stroke="#48a9d3" stroke-width="1"/>
<ellipse cx="145.2" cy="659.4" rx="42.8" ry="81.6" transform="rotate(-2 145.2 659.4)" fill="#f4bcb6" fill-opacity="0.8" stroke="none"/>
<line x1="124.80" y1="592.90" x2="136.30" y2="600.20" stroke="#b47472" stroke-width="1.4" stroke-opacity="0.5"/>
<line x1="124.80" y1="592.90" x2="149.80" y2="623.80" stroke="#b47472" stroke-width="1.4" stroke-opacity="0.5"/>
<line x1="124.80" y1="592.90" x2="139.00" y2="641.40" stroke="#b47472" stroke-width="1.4" stroke-opacity="0.5"/>
<line x1="124.80" y1="592.90" x2="142.50" y2="658.90" stroke="#b47472" stroke-width="1.4" stroke-opacity="0.5"/>
<line x1="124.80" y1="592.90" x2="176.70" y2="655.60" stroke="#b47472" stroke-width="1.4" stroke-opacity="0.5"/>
<line x1="124.80" y1="592.90" x2="151.30" y2="685.80" stroke="#b47472" stroke-width="1.4" stroke-opacity="0.5"/>
<line x1="124.80" y1="592.90" x2="177.00" y2="683.80" stroke="#b47472" stroke-width="1.4" stroke-opacity="0.5"/>
<line x1="124.80" y1="592.90" x2="148.80" y2="707.50" stroke="#b47472" stroke-width="1.4" stroke-opacity="0.5"/>
<line x1="124.80" y1="592.90" x2="124.50" y2="708.80" stroke="#b47472" stroke-width="1.4" stroke-opacity="0.5"/>
<line x1="136.30" y1="600.20" x2="149.80" y2="623.80" stroke="#b47472" stroke-width="1.4" stroke-opacity="0.5"/>
<line x1="136.30" y1="600.20" x2="139.00" y2="641.40" stroke="#b47472" stroke-width="1.4" stroke-opacity="0.5"/>
<line x1="136.30" y1="600.20" x2="142.50" y2="658.90" stroke="#b47472" stroke-width="1.4" stroke-opacity="0.5"/>
<line x1="136.30" y1="600.20" x2="176.70" y2="655.60" stroke="#b47472" stroke-width="1.4" stroke-opacity="0.5"/>
<line x1="136.30" y1="600.20" x2="151.30" y2="685.80" stroke="#b47472" stroke-width="1.4" stroke-opacity="0.5"/>
<line x1="136.30" y1="600.20" x2="177.00" y2="683.80" stroke="#b47472" stroke-width="1.4" stroke-opacity="0.5"/>
<line x1="136.30" y1="600.20" x2="148.80" y2="707.50" stroke="#b47472" stroke-width="1.4" stroke-opacity="0.5"/>
<line x1="136.30" y1="600.20" x2="124.50" y2="708.80" stroke="#b47472" stroke-width="1.4" stroke-opacity="0.5"/>
<line x1="149.80" y1="623.80" x2="139.00" y2="641.40" stroke="#b47472" stroke-width="1.4" stroke-opacity="0.5"/>
<line x1="149.80" y1="623.80" x2="142.50" y2="658.90" stroke="#b47472" stroke-width="1.4" stroke-opacity="0.5"/>
<line x1="149.80" y1="623.80" x2="176.70" y2="655.60" stroke="#b47472" stroke-width="1.4" stroke-opacity="0.5"/>
<line x1="149.80" y1="623.80" x2="151.30" y2="685.80" stroke="#b47472" stroke-width="1.4" stroke-opacity="0.5"/>
<line x1="149.80" y1="623.80" x2="177.00" y2="683.80" stroke="#b47472" stroke-width="1.4" stroke-opacity="0.5"/>
<line x1="149.80" y1="623.80" x2="148.80" y2="707.50" stroke="#b47472" stroke-width="1.4" stroke-opacity="0.5"/>
<line x1="149.80" y1="623.80" x2="124.50" y2="708.80" stroke="#b47472" stroke-width="1.4" stroke-opacity="0.5"/>
<line x1="139.00" y1="641.40" x2="142.50" y2="658.90" stroke="#b47472" stroke-width="1.4" stroke-opacity="0.5"/>
<line x1="139.00" y1="641.40" x2="176.70" y2="655.60" stroke="#b47472" stroke-width="1.4" stroke-opacity="0.5"/>
<line x1="139.00" y1="641.40" x2="151.30" y2="685.80" stroke="#b47472" stroke-width="1.4" stroke-opacity="0.5"/>
<line x1="139.00" y1="641.40" x2="177.00" y2="683.80" stroke="#b47472" stroke-width="1.4" stroke-opacity="0.5"/>
<line x1="139.00" y1="641.40" x2="148.80" y2="707.50" stroke="#b47472" stroke-width="1.4" stroke-opacity="0.5"/>
<line x1="139.00" y1="641.40" x2="124.50" y2="708.80" stroke="#b47472" stroke-width="1.4" stroke-opacity="0.5"/>
<line x1="142.50" y1="658.90" x2="176.70" y2="655.60" stroke="#b47472" stroke-width="1.4" stroke-opacity="0.5"/>
<line x1="142.50" y1="658.90" x2="151.30" y2="685.80" stroke="#b47472" stroke-width="1.4" stroke-opacity="0.5"/>
<line x1="142.50" y1="658.90" x2="177.00" y2="683.80" stroke="#b47472" stroke-width="1.4" stroke-opacity="0.5"/>
<line x1="142.50" y1="658.90" x2="148.80" y2="707.50" stroke="#b47472" stroke-width="1.4" stroke-opacity="0.5"/>
<line x1="142.50" y1="658.90" x2="124.50" y2="708.80" stroke="#b47472" stroke-width="1.4" stroke-opacity="0.5"/>
<line x1="176.70" y1="655.60" x2="151.30" y2="685.80" stroke="#b47472" stroke-width="1.4" stroke-opacity="0.5"/>
<line x1="176.70" y1="655.60" x2="177.00" y2="683.80" stroke="#b47472" stroke-width="1.4" stroke-opacity="0.5"/>
<line x1="176.70" y1="655.60" x2="148.80" y2="707.50" stroke="#b47472" stroke-width="1.4" stroke-opacity="0.5"/>
<line x1="176.70" y1="655.60" x2="124.50" y2="708.80" stroke="#b47472" stroke-width="1.4" stroke-opacity="0.5"/>
<line x1="151.30" y1="685.80" x2="177.00" y2="683.80" stroke="#b47472" stroke-width="1.4" stroke-opacity="0.5"/>
<line x1="151.30" y1="685.80" x2="148.80" y2="707.50" stroke="#b47472" stroke-width="1.4" stroke-opacity="0.5"/>
<line x1="151.30" y1="685.80" x2="124.50" y2="708.80" stroke="#b47472" stroke-width="1.4" stroke-opacity="0.5"/>
<line x1="177.00" y1="683.80" x2="148.80" y2="707.50" stroke="#b47472" stroke-width="1.4" stroke-opacity="0.5"/>
<line x1="177.00" y1="683.80" x2="124.50" y2="708.80" stroke="#b47472" stroke-width="1.4" stroke-opacity="0.5"/>
<line x1="148.80" y1="707.50" x2="124.50" y2="708.80" stroke="#b47472" stroke-width="1.4" stroke-opacity="0.5"/>
<line x1="99.50" y1="604.50" x2="124.80" y2="592.90" stroke="#b98583" stroke-width="1.1" stroke-opacity="0.42"/>
<line x1="99.50" y1="604.50" x2="136.30" y2="600.20" stroke="#b98583" stroke-width="1.1" stroke-opacity="0.42"/>
<line x1="99.50" y1="604.50" x2="149.80" y2="623.80" stroke="#b98583" stroke-width="1.1" stroke-opacity="0.42"/>
<line x1="99.50" y1="604.50" x2="139.00" y2="641.40" stroke="#b98583" stroke-width="1.1" stroke-opacity="0.42"/>
<line x1="99.50" y1="604.50" x2="142.50" y2="658.90" stroke="#b98583" stroke-width="1.1" stroke-opacity="0.42"/>
<line x1="99.50" y1="604.50" x2="176.70" y2="655.60" stroke="#b98583" stroke-width="1.1" stroke-opacity="0.42"/>
<line x1="99.50" y1="604.50" x2="151.30" y2="685.80" stroke="#b98583" stroke-width="1.1" stroke-opacity="0.42"/>
<line x1="99.50" y1="604.50" x2="177.00" y2="683.80" stroke="#b98583" stroke-width="1.1" stroke-opacity="0.42"/>
<line x1="99.50" y1="604.50" x2="148.80" y2="707.50" stroke="#b98583" stroke-width="1.1" stroke-opacity="0.42"/>
<line x1="99.50" y1="604.50" x2="124.50" y2="708.80" stroke="#b98583" stroke-width="1.1" stroke-opacity="0.42"/>
<line x1="94.50" y1="634.50" x2="124.80" y2="592.90" stroke="#b98583" stroke-width="1.1" stroke-opacity="0.42"/>
<line x1="94.50" y1="634.50" x2="136.30" y2="600.20" stroke="#b98583" stroke-width="1.1" stroke-opacity="0.42"/>
<line x1="94.50" y1="634.50" x2="149.80" y2="623.80" stroke="#b98583" stroke-width="1.1" stroke-opacity="0.42"/>
<line x1="94.50" y1="634.50" x2="139.00" y2="641.40" stroke="#b98583" stroke-width="1.1" stroke-opacity="0.42"/>
<line x1="94.50" y1="634.50" x2="142.50" y2="658.90" stroke="#b98583" stroke-width="1.1" stroke-opacity="0.42"/>
<line x1="94.50" y1="634.50" x2="176.70" y2="655.60" stroke="#b98583" stroke-width="1.1" stroke-opacity="0.42"/>
<line x1="94.50" y1="634.50" x2="151.30" y2="685.80" stroke="#b98583" stroke-width="1.1" stroke-opacity="0.42"/>
<line x1="94.50" y1="634.50" x2="177.00" y2="683.80" stroke="#b98583" stroke-width="1.1" stroke-opacity="0.42"/>
<line x1="94.50" y1="634.50" x2="148.80" y2="707.50" stroke="#b98583" stroke-width="1.1" stroke-opacity="0.42"/>
<line x1="94.50" y1="634.50" x2="124.50" y2="708.80" stroke="#b98583" stroke-width="1.1" stroke-opacity="0.42"/>
<line x1="109.50" y1="634.30" x2="124.80" y2="592.90" stroke="#b98583" stroke-width="1.1" stroke-opacity="0.42"/>
<line x1="109.50" y1="634.30" x2="136.30" y2="600.20" stroke="#b98583" stroke-width="1.1" stroke-opacity="0.42"/>
<line x1="109.50" y1="634.30" x2="149.80" y2="623.80" stroke="#b98583" stroke-width="1.1" stroke-opacity="0.42"/>
<line x1="109.50" y1="634.30" x2="139.00" y2="641.40" stroke="#b98583" stroke-width="1.1" stroke-opacity="0.42"/>
<line x1="109.50" y1="634.30" x2="142.50" y2="658.90" stroke="#b98583" stroke-width="1.1" stroke-opacity="0.42"/>
<line x1="109.50" y1="634.30" x2="176.70" y2="655.60" stroke="#b98583" stroke-width="1.1" stroke-opacity="0.42"/>
<line x1="109.50" y1="634.30" x2="151.30" y2="685.80" stroke="#b98583" stroke-width="1.1" stroke-opacity="0.42"/>
<line x1="109.50" y1="634.30" x2="177.00" y2="683.80" stroke="#b98583" stroke-width="1.1" stroke-opacity="0.42"/>
<line x1="109.50" y1="634.30" x2="148.80" y2="707.50" stroke="#b98583" stroke-width="1.1" stroke-opacity="0.42"/>
<line x1="109.50" y1="634.30" x2="124.50" y2="708.80" stroke="#b98583" stroke-width="1.1" stroke-opacity="0.42"/>
<line x1="93.80" y1="661.30" x2="124.80" y2="592.90" stroke="#b98583" stroke-width="1.1" stroke-opacity="0.42"/>
<line x1="93.80" y1="661.30" x2="136.30" y2="600.20" stroke="#b98583" stroke-width="1.1" stroke-opacity="0.42"/>
<line x1="93.80" y1="661.30" x2="149.80" y2="623.80" stroke="#b98583" stroke-width="1.1" stroke-opacity="0.42"/>
<line x1="93.80" y1="661.30" x2="139.00" y2="641.40" stroke="#b98583" stroke-width="1.1" stroke-opacity="0.42"/>
<line x1="93.80" y1="661.30" x2="142.50" y2="658.90" stroke="#b98583" stroke-width="1.1" stroke-opacity="0.42"/>
<line x1="93.80" y1="661.30" x2="176.70" y2="655.60" stroke="#b98583" stroke-width="1.1" stroke-opacity="0.42"/>
<line x1="93.80" y1="661.30" x2="151.30" y2="685.80" stroke="#b98583" stroke-width="1.1" stroke-opacity="0.42"/>
<line x1="93.80" y1="661.30" x2="177.00" y2="683.80" stroke="#b98583" stroke-width="1.1" stroke-opacity="0.42"/>
<line x1="93.80" y1="661.30" x2="148.80" y2="707.50" stroke="#b98583" stroke-width="1.1" stroke-opacity="0.42"/>
<line x1="93.80" y1="661.30" x2="124.50" y2="708.80" stroke="#b98583" stroke-width="1.1" stroke-opacity="0.42"/>
<line x1="115.00" y1="657.30" x2="124.80" y2="592.90" stroke="#b98583" stroke-width="1.1" stroke-opacity="0.42"/>
<line x1="115.00" y1="657.30" x2="136.30" y2="600.20" stroke="#b98583" stroke-width="1.1" stroke-opacity="0.42"/>
<line x1="115.00" y1="657.30" x2="149.80" y2="623.80" stroke="#b98583" stroke-width="1.1" stroke-opacity="0.42"/>
<line x1="115.00" y1="657.30" x2="139.00" y2="641.40" stroke="#b98583" stroke-width="1.1" stroke-opacity="0.42"/>
<line x1="115.00" y1="657.30" x2="142.50" y2="658.90" stroke="#b98583" stroke-width="1.1" stroke-opacity="0.42"/>
<line x1="115.00" y1="657.30" x2="176.70" y2="655.60" stroke="#b98583" stroke-width="1.1" stroke-opacity="0.42"/>
<line x1="115.00" y1="657.30" x2="151.30" y2="685.80" stroke="#b98583" stroke-width="1.1" stroke-opacity="0.42"/>
<line x1="115.00" y1="657.30" x2="177.00" y2="683.80" stroke="#b98583" stroke-width="1.1" stroke-opacity="0.42"/>
<line x1="115.00" y1="657.30" x2="148.80" y2="707.50" stroke="#b98583" stroke-width="1.1" stroke-opacity="0.42"/>
<line x1="115.00" y1="657.30" x2="124.50" y2="708.80" stroke="#b98583" stroke-width="1.1" stroke-opacity="0.42"/>
<line x1="98.80" y1="690.50" x2="124.80" y2="592.90" stroke="#b98583" stroke-width="1.1" stroke-opacity="0.42"/>
<line x1="98.80" y1="690.50" x2="136.30" y2="600.20" stroke="#b98583" stroke-width="1.1" stroke-opacity="0.42"/>
<line x1="98.80" y1="690.50" x2="149.80" y2="623.80" stroke="#b98583" stroke-width="1.1" stroke-opacity="0.42"/>
<line x1="98.80" y1="690.50" x2="139.00" y2="641.40" stroke="#b98583" stroke-width="1.1" stroke-opacity="0.42"/>
<line x1="98.80" y1="690.50" x2="142.50" y2="658.90" stroke="#b98583" stroke-width="1.1" stroke-opacity="0.42"/>
<line x1="98.80" y1="690.50" x2="176.70" y2="655.60" stroke="#b98583" stroke-width="1.1" stroke-opacity="0.42"/>
<line x1="98.80" y1="690.50" x2="151.30" y2="685.80" stroke="#b98583" stroke-width="1.1" stroke-opacity="0.42"/>
<line x1="98.80" y1="690.50" x2="177.00" y2="683.80" stroke="#b98583" stroke-width="1.1" stroke-opacity="0.42"/>
<line x1="98.80" y1="690.50" x2="148.80" y2="707.50" stroke="#b98583" stroke-width="1.1" stroke-opacity="0.42"/>
<line x1="98.80" y1="690.50" x2="124.50" y2="708.80" stroke="#b98583" stroke-width="1.1" stroke-opacity="0.42"/>
<line x1="107.00" y1="687.00" x2="124.80" y2="592.90" stroke="#b98583" stroke-width="1.1" stroke-opacity="0.42"/>
<line x1="107.00" y1="687.00" x2="136.30" y2="600.20" stroke="#b98583" stroke-width="1.1" stroke-opacity="0.42"/>
<line x1="107.00" y1="687.00" x2="149.80" y2="623.80" stroke="#b98583" stroke-width="1.1" stroke-opacity="0.42"/>
<line x1="107.00" y1="687.00" x2="139.00" y2="641.40" stroke="#b98583" stroke-width="1.1" stroke-opacity="0.42"/>
<line x1="107.00" y1="687.00" x2="142.50" y2="658.90" stroke="#b98583" stroke-width="1.1" stroke-opacity="0.42"/>
<line x1="107.00" y1="687.00" x2="176.70" y2="655.60" stroke="#b98583" stroke-width="1.1" stroke-opacity="0.42"/>
<line x1="107.00" y1="687.00" x2="151.30" y2="685.80" stroke="#b98583" stroke-width="1.1" stroke-opacity="0.42"/>
<line x1="107.00" y1="687.00" x2="177.00" y2="683.80" stroke="#b98583" stroke-width="1.1" stroke-opacity="0.42"/>
<line x1="107.00" y1="687.00" x2="148.80" y2="707.50" stroke="#b98583" stroke-width="1.1" stroke-opacity="0.42"/>
<line x1="107.00" y1="687.00" x2="124.50" y2="708.80" stroke="#b98583" stroke-width="1.1" stroke-opacity="0.42"/>
<ellipse cx="73.3" cy="663.5" rx="51.0" ry="80.0" transform="rotate(2 73.3 663.5)" fill="#a8dbc7" fill-opacity="0.8" stroke="none"/>
<line x1="80.00" y1="606.20" x2="99.50" y2="604.50" stroke="#3a9a7a" stroke-width="1.3" stroke-opacity="0.45"/>
<line x1="80.00" y1="606.20" x2="94.50" y2="634.50" stroke="#3a9a7a" stroke-width="1.3" stroke-opacity="0.45"/>
<line x1="80.00" y1="606.20" x2="109.50" y2="634.30" stroke="#3a9a7a" stroke-width="1.3" stroke-opacity="0.45"/>
<line x1="80.00" y1="606.20" x2="32.00" y2="658.80" stroke="#3a9a7a" stroke-width="0.9" stroke-opacity="0.45"/>
<line x1="80.00" y1="606.20" x2="68.00" y2="655.00" stroke="#3a9a7a" stroke-width="0.9" stroke-opacity="0.45"/>
<line x1="80.00" y1="606.20" x2="93.80" y2="661.30" stroke="#3a9a7a" stroke-width="1.3" stroke-opacity="0.45"/>
<line x1="80.00" y1="606.20" x2="115.00" y2="657.30" stroke="#3a9a7a" stroke-width="1.3" stroke-opacity="0.45"/>
<line x1="80.00" y1="606.20" x2="70.50" y2="674.50" stroke="#3a9a7a" stroke-width="0.9" stroke-opacity="0.45"/>
<line x1="80.00" y1="606.20" x2="98.80" y2="690.50" stroke="#3a9a7a" stroke-width="1.3" stroke-opacity="0.45"/>
<line x1="80.00" y1="606.20" x2="107.00" y2="687.00" stroke="#3a9a7a" stroke-width="1.3" stroke-opacity="0.45"/>
<line x1="80.00" y1="606.20" x2="82.50" y2="727.50" stroke="#3a9a7a" stroke-width="0.9" stroke-opacity="0.45"/>
<line x1="99.50" y1="604.50" x2="94.50" y2="634.50" stroke="#3a9a7a" stroke-width="1.6" stroke-opacity="0.55"/>
<line x1="99.50" y1="604.50" x2="109.50" y2="634.30" stroke="#3a9a7a" stroke-width="1.6" stroke-opacity="0.55"/>
<line x1="99.50" y1="604.50" x2="32.00" y2="658.80" stroke="#3a9a7a" stroke-width="1.3" stroke-opacity="0.45"/>
<line x1="99.50" y1="604.50" x2="68.00" y2="655.00" stroke="#3a9a7a" stroke-width="1.3" stroke-opacity="0.45"/>
<line x1="99.50" y1="604.50" x2="93.80" y2="661.30" stroke="#3a9a7a" stroke-width="1.6" stroke-opacity="0.55"/>
<line x1="99.50" y1="604.50" x2="115.00" y2="657.30" stroke="#3a9a7a" stroke-width="1.6" stroke-opacity="0.55"/>
<line x1="99.50" y1="604.50" x2="70.50" y2="674.50" stroke="#3a9a7a" stroke-width="1.3" stroke-opacity="0.45"/>
<line x1="99.50" y1="604.50" x2="98.80" y2="690.50" stroke="#3a9a7a" stroke-width="1.6" stroke-opacity="0.55"/>
<line x1="99.50" y1="604.50" x2="107.00" y2="687.00" stroke="#3a9a7a" stroke-width="1.6" stroke-opacity="0.55"/>
<line x1="99.50" y1="604.50" x2="82.50" y2="727.50" stroke="#3a9a7a" stroke-width="1.3" stroke-opacity="0.45"/>
<line x1="94.50" y1="634.50" x2="109.50" y2="634.30" stroke="#3a9a7a" stroke-width="1.6" stroke-opacity="0.55"/>
<line x1="94.50" y1="634.50" x2="32.00" y2="658.80" stroke="#3a9a7a" stroke-width="1.3" stroke-opacity="0.45"/>
<line x1="94.50" y1="634.50" x2="68.00" y2="655.00" stroke="#3a9a7a" stroke-width="1.3" stroke-opacity="0.45"/>
<line x1="94.50" y1="634.50" x2="93.80" y2="661.30" stroke="#3a9a7a" stroke-width="1.6" stroke-opacity="0.55"/>
<line x1="94.50" y1="634.50" x2="115.00" y2="657.30" stroke="#3a9a7a" stroke-width="1.6" stroke-opacity="0.55"/>
<line x1="94.50" y1="634.50" x2="70.50" y2="674.50" stroke="#3a9a7a" stroke-width="1.3" stroke-opacity="0.45"/>
<line x1="94.50" y1="634.50" x2="98.80" y2="690.50" stroke="#3a9a7a" stroke-width="1.6" stroke-opacity="0.55"/>
<line x1="94.50" y1="634.50" x2="107.00" y2="687.00" stroke="#3a9a7a" stroke-width="1.6" stroke-opacity="0.55"/>
<line x1="94.50" y1="634.50" x2="82.50" y2="727.50" stroke="#3a9a7a" stroke-width="1.3" stroke-opacity="0.45"/>
<line x1="109.50" y1="634.30" x2="32.00" y2="658.80" stroke="#3a9a7a" stroke-width="1.3" stroke-opacity="0.45"/>
<line x1="109.50" y1="634.30" x2="68.00" y2="655.00" stroke="#3a9a7a" stroke-width="1.3" stroke-opacity="0.45"/>
<line x1="109.50" y1="634.30" x2="93.80" y2="661.30" stroke="#3a9a7a" stroke-width="1.6" stroke-opacity="0.55"/>
<line x1="109.50" y1="634.30" x2="115.00" y2="657.30" stroke="#3a9a7a" stroke-width="1.6" stroke-opacity="0.55"/>
<line x1="109.50" y1="634.30" x2="70.50" y2="674.50" stroke="#3a9a7a" stroke-width="1.3" stroke-opacity="0.45"/>
<line x1="109.50" y1="634.30" x2="98.80" y2="690.50" stroke="#3a9a7a" stroke-width="1.6" stroke-opacity="0.55"/>
<line x1="109.50" y1="634.30" x2="107.00" y2="687.00" stroke="#3a9a7a" stroke-width="1.6" stroke-opacity="0.55"/>
<line x1="109.50" y1="634.30" x2="82.50" y2="727.50" stroke="#3a9a7a" stroke-width="1.3" stroke-opacity="0.45"/>
<line x1="32.00" y1="658.80" x2="68.00" y2="655.00" stroke="#3a9a7a" stroke-width="0.9" stroke-opacity="0.45"/>
<line x1="32.00" y1="658.80" x2="93.80" y2="661.30" stroke="#3a9a7a" stroke-width="1.3" stroke-opacity="0.45"/>
<line x1="32.00" y1="658.80" x2="115.00" y2="657.30" stroke="#3a9a7a" stroke-width="1.3" stroke-opacity="0.45"/>
<line x1="32.00" y1="658.80" x2="70.50" y2="674.50" stroke="#3a9a7a" stroke-width="0.9" stroke-opacity="0.45"/>
<line x1="32.00" y1="658.80" x2="98.80" y2="690.50" stroke="#3a9a7a" stroke-width="1.3" stroke-opacity="0.45"/>
<line x1="32.00" y1="658.80" x2="107.00" y2="687.00" stroke="#3a9a7a" stroke-width="1.3" stroke-opacity="0.45"/>
<line x1="32.00" y1="658.80" x2="82.50" y2="727.50" stroke="#3a9a7a" stroke-width="0.9" stroke-opacity="0.45"/>
<line x1="68.00" y1="655.00" x2="93.80" y2="661.30" stroke="#3a9a7a" stroke-width="1.3" stroke-opacity="0.45"/>
<line x1="68.00" y1="655.00" x2="115.00" y2="657.30" stroke="#3a9a7a" stroke-width="1.3" stroke-opacity="0.45"/>
<line x1="68.00" y1="655.00" x2="70.50" y2="674.50" stroke="#3a9a7a" stroke-width="0.9" stroke-opacity="0.45"/>
<line x1="68.00" y1="655.00" x2="98.80" y2="690.50" stroke="#3a9a7a" stroke-width="1.3" stroke-opacity="0.45"/>
<line x1="68.00" y1="655.00" x2="107.00" y2="687.00" stroke="#3a9a7a" stroke-width="1.3" stroke-opacity="0.45"/>
<line x1="68.00" y1="655.00" x2="82.50" y2="727.50" stroke="#3a9a7a" stroke-width="0.9" stroke-opacity="0.45"/>
<line x1="93.80" y1="661.30" x2="115.00" y2="657.30" stroke="#3a9a7a" stroke-width="1.6" stroke-opacity="0.55"/>
<line x1="93.80" y1="661.30" x2="70.50" y2="674.50" stroke="#3a9a7a" stroke-width="1.3" stroke-opacity="0.45"/>
<line x1="93.80" y1="661.30" x2="98.80" y2="690.50" stroke="#3a9a7a" stroke-width="1.6" stroke-opacity="0.55"/>
<line x1="93.80" y1="661.30" x2="107.00" y2="687.00" stroke="#3a9a7a" stroke-width="1.6" stroke-opacity="0.55"/>
<line x1="93.80" y1="661.30" x2="82.50" y2="727.50" stroke="#3a9a7a" stroke-width="1.3" stroke-opacity="0.45"/>
<line x1="115.00" y1="657.30" x2="70.50" y2="674.50" stroke="#3a9a7a" stroke-width="1.3" stroke-opacity="0.45"/>
<line x1="115.00" y1="657.30" x2="98.80" y2="690.50" stroke="#3a9a7a" stroke-width="1.6" stroke-opacity="0.55"/>
<line x1="115.00" y1="657.30" x2="107.00" y2="687.00" stroke="#3a9a7a" stroke-width="1.6" stroke-opacity="0.55"/>
<line x1="115.00" y1="657.30" x2="82.50" y2="727.50" stroke="#3a9a7a" stroke-width="1.3" stroke-opacity="0.45"/>
<line x1="70.50" y1="674.50" x2="98.80" y2="690.50" stroke="#3a9a7a" stroke-width="1.3" stroke-opacity="0.45"/>
<line x1="70.50" y1="674.50" x2="107.00" y2="687.00" stroke="#3a9a7a" stroke-width="1.3" stroke-opacity="0.45"/>
<line x1="70.50" y1="674.50" x2="82.50" y2="727.50" stroke="#3a9a7a" stroke-width="0.9" stroke-opacity="0.45"/>
<line x1="98.80" y1="690.50" x2="107.00" y2="687.00" stroke="#3a9a7a" stroke-width="1.6" stroke-opacity="0.55"/>
<line x1="98.80" y1="690.50" x2="82.50" y2="727.50" stroke="#3a9a7a" stroke-width="1.3" stroke-opacity="0.45"/>
<line x1="107.00" y1="687.00" x2="82.50" y2="727.50" stroke="#3a9a7a" stroke-width="1.3" stroke-opacity="0.45"/>
<line x1="123.64" y1="592.90" x2="99.96" y2="690.50" stroke="#3a9a7a" stroke-width="1.1" stroke-opacity="0.3"/>
<line x1="108.69" y1="634.30" x2="100.31" y2="604.50" stroke="#3a9a7a" stroke-width="1.1" stroke-opacity="0.3"/>
<line x1="123.97" y1="592.90" x2="95.33" y2="634.50" stroke="#3a9a7a" stroke-width="1.1" stroke-opacity="0.3"/>
<line x1="97.85" y1="604.50" x2="108.65" y2="687.00" stroke="#3a9a7a" stroke-width="1.1" stroke-opacity="0.3"/>
<line x1="123.09" y1="592.90" x2="108.71" y2="687.00" stroke="#3a9a7a" stroke-width="1.1" stroke-opacity="0.3"/>
<line x1="91.85" y1="661.30" x2="101.45" y2="604.50" stroke="#3a9a7a" stroke-width="1.1" stroke-opacity="0.3"/>
<line x1="137.67" y1="600.20" x2="93.13" y2="634.50" stroke="#3a9a7a" stroke-width="1.1" stroke-opacity="0.3"/>
<line x1="109.09" y1="687.00" x2="92.41" y2="634.50" stroke="#3a9a7a" stroke-width="1.1" stroke-opacity="0.3"/>
<line x1="108.36" y1="687.00" x2="93.14" y2="634.50" stroke="#3a9a7a" stroke-width="1.1" stroke-opacity="0.3"/>
<line x1="92.71" y1="661.30" x2="108.09" y2="687.00" stroke="#3a9a7a" stroke-width="1.1" stroke-opacity="0.3"/>
<line x1="100.54" y1="604.50" x2="92.76" y2="661.30" stroke="#3a9a7a" stroke-width="1.1" stroke-opacity="0.3"/>
<line x1="97.27" y1="604.50" x2="109.23" y2="687.00" stroke="#3a9a7a" stroke-width="1.1" stroke-opacity="0.3"/>
<line x1="105.20" y1="687.00" x2="126.60" y2="592.90" stroke="#3a9a7a" stroke-width="1.1" stroke-opacity="0.3"/>
<line x1="94.98" y1="661.30" x2="105.82" y2="687.00" stroke="#3a9a7a" stroke-width="1.1" stroke-opacity="0.3"/>
<line x1="92.61" y1="634.50" x2="101.39" y2="604.50" stroke="#3a9a7a" stroke-width="1.1" stroke-opacity="0.3"/>
<line x1="100.76" y1="690.50" x2="97.54" y2="604.50" stroke="#3a9a7a" stroke-width="1.1" stroke-opacity="0.3"/>
<line x1="111.59" y1="634.30" x2="134.21" y2="600.20" stroke="#3a9a7a" stroke-width="1.1" stroke-opacity="0.3"/>
<line x1="136.66" y1="600.20" x2="94.14" y2="634.50" stroke="#3a9a7a" stroke-width="1.1" stroke-opacity="0.3"/>
<line x1="135.90" y1="600.20" x2="94.20" y2="661.30" stroke="#3a9a7a" stroke-width="1.1" stroke-opacity="0.3"/>
<line x1="107.69" y1="687.00" x2="93.11" y2="661.30" stroke="#3a9a7a" stroke-width="1.1" stroke-opacity="0.3"/>
<line x1="92.86" y1="634.50" x2="111.14" y2="634.30" stroke="#3a9a7a" stroke-width="1.1" stroke-opacity="0.3"/>
<line x1="115.92" y1="657.30" x2="135.38" y2="600.20" stroke="#3a9a7a" stroke-width="1.1" stroke-opacity="0.3"/>
<line x1="110.68" y1="634.30" x2="113.82" y2="657.30" stroke="#3a9a7a" stroke-width="1.1" stroke-opacity="0.3"/>
<line x1="101.34" y1="604.50" x2="92.66" y2="634.50" stroke="#3a9a7a" stroke-width="1.1" stroke-opacity="0.3"/>
<line x1="105.31" y1="687.00" x2="95.49" y2="661.30" stroke="#3a9a7a" stroke-width="1.1" stroke-opacity="0.3"/>
<line x1="137.48" y1="600.20" x2="98.32" y2="604.50" stroke="#3a9a7a" stroke-width="1.1" stroke-opacity="0.3"/>
<line x1="138.14" y1="600.20" x2="92.66" y2="634.50" stroke="#3a9a7a" stroke-width="1.1" stroke-opacity="0.3"/>
<line x1="80.00" y1="606.20" x2="124.80" y2="592.90" stroke="#4aa283" stroke-width="0.9" stroke-opacity="0.35"/>
<line x1="80.00" y1="606.20" x2="136.30" y2="600.20" stroke="#4aa283" stroke-width="0.9" stroke-opacity="0.35"/>
<line x1="80.00" y1="606.20" x2="149.80" y2="623.80" stroke="#4aa283" stroke-width="0.9" stroke-opacity="0.35"/>
<line x1="80.00" y1="606.20" x2="139.00" y2="641.40" stroke="#4aa283" stroke-width="0.9" stroke-opacity="0.35"/>
<line x1="80.00" y1="606.20" x2="142.50" y2="658.90" stroke="#4aa283" stroke-width="0.9" stroke-opacity="0.35"/>
<line x1="32.00" y1="658.80" x2="124.80" y2="592.90" stroke="#4aa283" stroke-width="0.9" stroke-opacity="0.35"/>
<line x1="32.00" y1="658.80" x2="136.30" y2="600.20" stroke="#4aa283" stroke-width="0.9" stroke-opacity="0.35"/>
<line x1="32.00" y1="658.80" x2="149.80" y2="623.80" stroke="#4aa283" stroke-width="0.9" stroke-opacity="0.35"/>
<line x1="32.00" y1="658.80" x2="139.00" y2="641.40" stroke="#4aa283" stroke-width="0.9" stroke-opacity="0.35"/>
<line x1="32.00" y1="658.80" x2="142.50" y2="658.90" stroke="#4aa283" stroke-width="0.9" stroke-opacity="0.35"/>
<line x1="68.00" y1="655.00" x2="124.80" y2="592.90" stroke="#4aa283" stroke-width="0.9" stroke-opacity="0.35"/>
<line x1="68.00" y1="655.00" x2="136.30" y2="600.20" stroke="#4aa283" stroke-width="0.9" stroke-opacity="0.35"/>
<line x1="68.00" y1="655.00" x2="149.80" y2="623.80" stroke="#4aa283" stroke-width="0.9" stroke-opacity="0.35"/>
<line x1="68.00" y1="655.00" x2="139.00" y2="641.40" stroke="#4aa283" stroke-width="0.9" stroke-opacity="0.35"/>
<line x1="68.00" y1="655.00" x2="142.50" y2="658.90" stroke="#4aa283" stroke-width="0.9" stroke-opacity="0.35"/>
<line x1="70.50" y1="674.50" x2="124.80" y2="592.90" stroke="#4aa283" stroke-width="0.9" stroke-opacity="0.35"/>
<line x1="70.50" y1="674.50" x2="136.30" y2="600.20" stroke="#4aa283" stroke-width="0.9" stroke-opacity="0.35"/>
<line x1="70.50" y1="674.50" x2="149.80" y2="623.80" stroke="#4aa283" stroke-width="0.9" stroke-opacity="0.35"/>
<line x1="70.50" y1="674.50" x2="139.00" y2="641.40" stroke="#4aa283" stroke-width="0.9" stroke-opacity="0.35"/>
<line x1="70.50" y1="674.50" x2="142.50" y2="658.90" stroke="#4aa283" stroke-width="0.9" stroke-opacity="0.35"/>
<line x1="82.50" y1="727.50" x2="124.80" y2="592.90" stroke="#4aa283" stroke-width="0.9" stroke-opacity="0.35"/>
<line x1="82.50" y1="727.50" x2="136.30" y2="600.20" stroke="#4aa283" stroke-width="0.9" stroke-opacity="0.35"/>
<line x1="82.50" y1="727.50" x2="149.80" y2="623.80" stroke="#4aa283" stroke-width="0.9" stroke-opacity="0.35"/>
<line x1="82.50" y1="727.50" x2="139.00" y2="641.40" stroke="#4aa283" stroke-width="0.9" stroke-opacity="0.35"/>
<line x1="82.50" y1="727.50" x2="142.50" y2="658.90" stroke="#4aa283" stroke-width="0.9" stroke-opacity="0.35"/>
<ellipse cx="145.2" cy="659.4" rx="42.8" ry="81.6" transform="rotate(-2 145.2 659.4)" fill="none" stroke="#d07878" stroke-width="0.9"/>
<ellipse cx="73.3" cy="663.5" rx="51.0" ry="80.0" transform="rotate(2 73.3 663.5)" fill="none" stroke="#3b9f7c" stroke-width="1"/>
<rect x="38.5" y="757" width="160" height="25" rx="12.5" ry="12.5" transform="rotate(-2.3 118.5 769.5)" fill="#e0e5a4" stroke="#aeb040" stroke-width="1"/>
<line x1="62.30" y1="770.40" x2="117.50" y2="773.90" stroke="#8f9070" stroke-width="0.8" />
<line x1="117.50" y1="773.90" x2="176.20" y2="765.50" stroke="#8f9070" stroke-width="0.8" />
<ellipse cx="72.0" cy="502.0" rx="5.5" ry="5.89" fill="#fdf7f2" stroke="#1a1a1a" stroke-width="0.9"/>
<ellipse cx="114.5" cy="487.0" rx="5.5" ry="5.89" fill="#fdf7f2" stroke="#1a1a1a" stroke-width="0.9"/>
<ellipse cx="155.2" cy="489.5" rx="5.4" ry="5.78" fill="#fdf7f2" stroke="#1a1a1a" stroke-width="0.9"/>
<ellipse cx="192.3" cy="507.9" rx="5.4" ry="5.78" fill="#fdf7f2" stroke="#1a1a1a" stroke-width="0.9"/>
<ellipse cx="204.3" cy="550.8" rx="5.8" ry="6.21" fill="#fdf7f2" stroke="#1a1a1a" stroke-width="0.9"/>
<ellipse cx="80.0" cy="606.2" rx="4.6" ry="4.92" fill="#fdf7f2" stroke="#1a1a1a" stroke-width="0.9"/>
<ellipse cx="99.5" cy="604.5" rx="4.6" ry="4.92" fill="#fdf7f2" stroke="#1a1a1a" stroke-width="0.9"/>
<ellipse cx="94.5" cy="634.5" rx="5.4" ry="5.78" fill="#fdf7f2" stroke="#1a1a1a" stroke-width="0.9"/>
<ellipse cx="109.5" cy="634.3" rx="5.2" ry="5.56" fill="#fdf7f2" stroke="#1a1a1a" stroke-width="0.9"/>
<ellipse cx="32.0" cy="658.8" rx="3.9" ry="4.17" fill="#fdf7f2" stroke="#1a1a1a" stroke-width="0.9"/>
<ellipse cx="68.0" cy="655.0" rx="3.4" ry="3.64" fill="#fdf7f2" stroke="#1a1a1a" stroke-width="0.9"/>
<ellipse cx="93.8" cy="661.3" rx="4.4" ry="4.71" fill="#fdf7f2" stroke="#1a1a1a" stroke-width="0.9"/>
<ellipse cx="115.0" cy="657.3" rx="5.2" ry="5.56" fill="#fdf7f2" stroke="#1a1a1a" stroke-width="0.9"/>
<ellipse cx="70.5" cy="674.5" rx="3.4" ry="3.64" fill="#fdf7f2" stroke="#1a1a1a" stroke-width="0.9"/>
<ellipse cx="98.8" cy="690.5" rx="5.8" ry="6.21" fill="#fdf7f2" stroke="#1a1a1a" stroke-width="0.9"/>
<ellipse cx="107.0" cy="687.0" rx="5.8" ry="6.21" fill="#fdf7f2" stroke="#1a1a1a" stroke-width="0.9"/>
<ellipse cx="82.5" cy="727.5" rx="4.8" ry="5.14" fill="#fdf7f2" stroke="#1a1a1a" stroke-width="0.9"/>
<ellipse cx="124.8" cy="592.9" rx="5.6" ry="5.99" fill="#fdf7f2" stroke="#1a1a1a" stroke-width="0.9"/>
<ellipse cx="136.3" cy="600.2" rx="6.0" ry="6.42" fill="#fdf7f2" stroke="#1a1a1a" stroke-width="0.9"/>
<ellipse cx="149.8" cy="623.8" rx="5.0" ry="5.35" fill="#fdf7f2" stroke="#1a1a1a" stroke-width="0.9"/>
<ellipse cx="139.0" cy="641.4" rx="3.5" ry="3.75" fill="#fdf7f2" stroke="#1a1a1a" stroke-width="0.9"/>
<ellipse cx="142.5" cy="658.9" rx="5.4" ry="5.78" fill="#fdf7f2" stroke="#1a1a1a" stroke-width="0.9"/>
<ellipse cx="176.7" cy="655.6" rx="3.4" ry="3.64" fill="#fdf7f2" stroke="#1a1a1a" stroke-width="0.9"/>
<ellipse cx="151.3" cy="685.8" rx="5.0" ry="5.35" fill="#fdf7f2" stroke="#1a1a1a" stroke-width="0.9"/>
<ellipse cx="177.0" cy="683.8" rx="3.0" ry="3.21" fill="#fdf7f2" stroke="#1a1a1a" stroke-width="0.9"/>
<ellipse cx="148.8" cy="707.5" rx="5.8" ry="6.21" fill="#fdf7f2" stroke="#1a1a1a" stroke-width="0.9"/>
<ellipse cx="124.5" cy="708.8" rx="4.5" ry="4.82" fill="#fdf7f2" stroke="#1a1a1a" stroke-width="0.9"/>
<ellipse cx="62.3" cy="770.4" rx="2.8" ry="2.3" fill="#fdf7f2" stroke="#1a1a1a" stroke-width="0.9"/>
<ellipse cx="117.5" cy="773.9" rx="5.8" ry="4.4" fill="#fdf7f2" stroke="#1a1a1a" stroke-width="0.9"/>
<ellipse cx="176.2" cy="765.5" rx="4.3" ry="3.4" fill="#fdf7f2" stroke="#1a1a1a" stroke-width="0.9"/>
<text x="78.00" y="482.00" font-size="5.5" fill="#111" text-anchor="start" textLength="59.19" lengthAdjust="spacingAndGlyphs" stroke="#111" stroke-width="0.1">organelle subcompartment</text>
<text x="87.50" y="498.60" font-size="5.5" fill="#111" text-anchor="start" textLength="150.05" lengthAdjust="spacingAndGlyphs" stroke="#111" stroke-width="0.1">nuclear outer membrane-endoplasmic reticulum membrane network</text>
<text x="22.00" y="511.60" font-size="5.5" fill="#111" text-anchor="start" textLength="88.37" lengthAdjust="spacingAndGlyphs" stroke="#111" stroke-width="0.1">endoplasmic reticulum subcompartment</text>
<text x="148.00" y="516.60" font-size="5.5" fill="#111" text-anchor="start" textLength="75.03" lengthAdjust="spacingAndGlyphs" stroke="#111" stroke-width="0.1">endoplasmic reticulum membrane</text>
<text x="172.70" y="560.10" font-size="5.5" fill="#111" text-anchor="start" textLength="49.74" lengthAdjust="spacingAndGlyphs" stroke="#111" stroke-width="0.1">endoplasmic reticulum</text>
<text x="83.80" y="589.60" font-size="5.5" fill="#111" text-anchor="start" textLength="73.37" lengthAdjust="spacingAndGlyphs" stroke="#111" stroke-width="0.1">integral component of membrane</text>
<text x="22.00" y="600.30" font-size="5.5" fill="#111" text-anchor="start" textLength="135.33" lengthAdjust="spacingAndGlyphs" stroke="#111" stroke-width="0.1">inorganic molecular entity transmembrane transporter activity</text>
<text x="30.00" y="614.60" font-size="5.5" fill="#111" text-anchor="start" textLength="85.31" lengthAdjust="spacingAndGlyphs" stroke="#111" stroke-width="0.1">ion transmembrane transporter activity</text>
<text x="159.80" y="607.90" font-size="5.5" fill="#111" text-anchor="start" textLength="73.92" lengthAdjust="spacingAndGlyphs" stroke="#111" stroke-width="0.1">intrinsic component of membrane</text>
<text x="135.00" y="619.60" font-size="5.5" fill="#111" text-anchor="start" textLength="64.19" lengthAdjust="spacingAndGlyphs" stroke="#111" stroke-width="0.1">ion transmembrane transport</text>
<text x="92.50" y="630.30" font-size="5.5" fill="#111" text-anchor="start" textLength="51.42" lengthAdjust="spacingAndGlyphs" stroke="#111" stroke-width="0.1">mitochondrial envelope</text>
<text x="53.80" y="639.60" font-size="5.5" fill="#111" text-anchor="start" textLength="31.40" lengthAdjust="spacingAndGlyphs" stroke="#111" stroke-width="0.1">mitochondrion</text>
<text x="170.50" y="637.00" font-size="5.5" fill="#111" text-anchor="start" textLength="90.87" lengthAdjust="spacingAndGlyphs" stroke="#111" stroke-width="0.1">anion transmembrane transporter activity</text>
<text x="116.20" y="646.20" font-size="5.5" fill="#111" text-anchor="start" textLength="91.70" lengthAdjust="spacingAndGlyphs" stroke="#111" stroke-width="0.1">active transmembrane transporter activity</text>
<text x="48.80" y="651.10" font-size="5.5" fill="#111" text-anchor="start" textLength="18.62" lengthAdjust="spacingAndGlyphs" stroke="#111" stroke-width="0.1">nucleoid</text>
<text x="72.50" y="653.60" font-size="5.5" fill="#111" text-anchor="start" textLength="55.02" lengthAdjust="spacingAndGlyphs" stroke="#111" stroke-width="0.1">mitochondrial membrane</text>
<text x="170.00" y="662.70" font-size="5.5" fill="#111" text-anchor="start" textLength="77.25" lengthAdjust="spacingAndGlyphs" stroke="#111" stroke-width="0.1">transmembrane transporter activity</text>
<text x="21.30" y="667.90" font-size="5.5" fill="#111" text-anchor="start" textLength="67.80" lengthAdjust="spacingAndGlyphs" stroke="#111" stroke-width="0.1">mitochondrial outer membrane</text>
<text x="74.50" y="671.60" font-size="5.5" fill="#111" text-anchor="start" textLength="90.88" lengthAdjust="spacingAndGlyphs" stroke="#111" stroke-width="0.1">mitochondrial protein-containing complex</text>
<text x="170.50" y="679.30" font-size="5.5" fill="#111" text-anchor="start" textLength="55.03" lengthAdjust="spacingAndGlyphs" stroke="#111" stroke-width="0.1">inorganic anion transport</text>
<text x="38.80" y="683.60" font-size="5.5" fill="#111" text-anchor="start" textLength="49.75" lengthAdjust="spacingAndGlyphs" stroke="#111" stroke-width="0.1">mitochondrial nucleoid</text>
<text x="105.00" y="682.60" font-size="5.5" fill="#111" text-anchor="start" textLength="20.29" lengthAdjust="spacingAndGlyphs" stroke="#111" stroke-width="0.1">envelope</text>
<text x="125.00" y="694.10" font-size="5.5" fill="#111" text-anchor="start" textLength="40.84" lengthAdjust="spacingAndGlyphs" stroke="#111" stroke-width="0.1">transporter activity</text>
<text x="71.30" y="699.10" font-size="5.5" fill="#111" text-anchor="start" textLength="42.25" lengthAdjust="spacingAndGlyphs" stroke="#111" stroke-width="0.1">organelle envelope</text>
<text x="152.00" y="704.60" font-size="5.5" fill="#111" text-anchor="start" textLength="56.13" lengthAdjust="spacingAndGlyphs" stroke="#111" stroke-width="0.1">transmembrane transport</text>
<text x="67.50" y="717.90" font-size="5.5" fill="#111" text-anchor="start" textLength="99.76" lengthAdjust="spacingAndGlyphs" stroke="#111" stroke-width="0.1">active ion transmembrane transporter activity</text>
<text x="53.80" y="736.10" font-size="5.5" fill="#111" text-anchor="start" textLength="44.73" lengthAdjust="spacingAndGlyphs" stroke="#111" stroke-width="0.1">mitochondrial matrix</text>
<text x="94.00" y="765.60" font-size="5.5" fill="#111" text-anchor="start" textLength="41.96" lengthAdjust="spacingAndGlyphs" stroke="#111" stroke-width="0.1">blood microparticle</text>
<text x="22.30" y="781.20" font-size="5.5" fill="#111" text-anchor="start" textLength="64.19" lengthAdjust="spacingAndGlyphs" stroke="#111" stroke-width="0.1">acute inflammatory response</text>
<text x="152.70" y="777.40" font-size="5.5" fill="#111" text-anchor="start" textLength="52.80" lengthAdjust="spacingAndGlyphs" stroke="#111" stroke-width="0.1">endocytic vesicle lumen</text>
<text x="279.80" y="469.40" font-size="14.0" fill="#111" text-anchor="start" font-weight="bold" >F</text>
<line x1="310.50" y1="491.20" x2="310.50" y2="540.90" stroke="#222" stroke-width="1.1" />
<line x1="310.10" y1="540.50" x2="507.00" y2="540.50" stroke="#222" stroke-width="1.1" />
<line x1="307.60" y1="499.50" x2="310.60" y2="499.50" stroke="#222" stroke-width="0.9" />
<text x="303.00" y="501.80" font-size="7.4" fill="#222" text-anchor="end" stroke="#222" stroke-width="0.15">26</text>
<line x1="307.60" y1="512.50" x2="310.60" y2="512.50" stroke="#222" stroke-width="0.9" />
<text x="303.00" y="514.60" font-size="7.4" fill="#222" text-anchor="end" stroke="#222" stroke-width="0.15">25</text>
<line x1="307.60" y1="524.50" x2="310.60" y2="524.50" stroke="#222" stroke-width="0.9" />
<text x="303.00" y="527.40" font-size="7.4" fill="#222" text-anchor="end" stroke="#222" stroke-width="0.15">24</text>
<line x1="307.60" y1="537.50" x2="310.60" y2="537.50" stroke="#222" stroke-width="0.9" />
<text x="303.00" y="540.20" font-size="7.4" fill="#222" text-anchor="end" stroke="#222" stroke-width="0.15">23</text>
<line x1="323.50" y1="540.40" x2="323.50" y2="543.40" stroke="#222" stroke-width="0.9" />
<line x1="344.50" y1="540.40" x2="344.50" y2="543.40" stroke="#222" stroke-width="0.9" />
<line x1="366.50" y1="540.40" x2="366.50" y2="543.40" stroke="#222" stroke-width="0.9" />
<line x1="387.50" y1="540.40" x2="387.50" y2="543.40" stroke="#222" stroke-width="0.9" />
<line x1="408.50" y1="540.40" x2="408.50" y2="543.40" stroke="#222" stroke-width="0.9" />
<line x1="430.50" y1="540.40" x2="430.50" y2="543.40" stroke="#222" stroke-width="0.9" />
<line x1="451.50" y1="540.40" x2="451.50" y2="543.40" stroke="#222" stroke-width="0.9" />
<line x1="472.50" y1="540.40" x2="472.50" y2="543.40" stroke="#222" stroke-width="0.9" />
<line x1="494.50" y1="540.40" x2="494.50" y2="543.40" stroke="#222" stroke-width="0.9" />
<text x="408.50" y="487.40" font-size="7.7" fill="#1a1a1a" text-anchor="middle" >ACO2</text>
<circle cx="323.30" cy="499.60" r="3.7" fill="#c9c9c9" stroke="#505050" stroke-width="0.65" fill-opacity="0.7"/>
<circle cx="323.30" cy="502.00" r="3.7" fill="#c9c9c9" stroke="#505050" stroke-width="0.65" fill-opacity="0.7"/>
<circle cx="323.30" cy="514.60" r="3.7" fill="#c9c9c9" stroke="#505050" stroke-width="0.65" fill-opacity="0.7"/>
<circle cx="323.30" cy="516.90" r="3.7" fill="#c9c9c9" stroke="#505050" stroke-width="0.65" fill-opacity="0.7"/>
<circle cx="323.30" cy="519.00" r="3.7" fill="#c9c9c9" stroke="#505050" stroke-width="0.65" fill-opacity="0.7"/>
<circle cx="323.30" cy="515.00" r="1.3" fill="#111" stroke="none" stroke-width="0.6" />
<rect x="315.4" y="504.20" width="16.5" height="3.30" fill="#d4d4d4" stroke="#1a1a1a" stroke-width="1.0"/>
<line x1="315.40" y1="504.90" x2="331.90" y2="504.90" stroke="#1a1a1a" stroke-width="1.1" />
<circle cx="344.65" cy="505.50" r="3.6" fill="#1f5d45" stroke="#0d2e22" stroke-width="0.7" />
<line x1="336.65" y1="505.50" x2="352.65" y2="505.50" stroke="#111" stroke-width="1.3" />
<circle cx="366.00" cy="517.60" r="3.6" fill="#1f5d45" stroke="#0d2e22" stroke-width="0.7" />
<circle cx="366.00" cy="520.80" r="3.6" fill="#1f5d45" stroke="#0d2e22" stroke-width="0.7" />
<line x1="358.00" y1="520.50" x2="374.00" y2="520.50" stroke="#111" stroke-width="1.3" />
<circle cx="387.35" cy="514.40" r="3.6" fill="#3f9443" stroke="#1c4d22" stroke-width="0.7" />
<circle cx="387.35" cy="518.70" r="3.6" fill="#3f9443" stroke="#1c4d22" stroke-width="0.7" />
<line x1="379.35" y1="516.50" x2="395.35" y2="516.50" stroke="#111" stroke-width="1.3" />
<circle cx="408.70" cy="503.80" r="3.6" fill="#4bab4e" stroke="#245f28" stroke-width="0.7" />
<circle cx="408.70" cy="507.70" r="3.6" fill="#4bab4e" stroke="#245f28" stroke-width="0.7" />
<line x1="400.70" y1="506.50" x2="416.70" y2="506.50" stroke="#111" stroke-width="1.3" />
<circle cx="430.05" cy="506.00" r="3.6" fill="#c8cb9a" stroke="#5d5f3c" stroke-width="0.7" />
<circle cx="430.05" cy="513.40" r="3.6" fill="#c8cb9a" stroke="#5d5f3c" stroke-width="0.7" />
<line x1="422.05" y1="509.50" x2="438.05" y2="509.50" stroke="#111" stroke-width="1.3" />
<circle cx="451.40" cy="506.00" r="3.6" fill="#c8cb9a" stroke="#5d5f3c" stroke-width="0.7" />
<circle cx="451.40" cy="509.80" r="3.6" fill="#c8cb9a" stroke="#5d5f3c" stroke-width="0.7" />
<line x1="443.40" y1="509.50" x2="459.40" y2="509.50" stroke="#111" stroke-width="1.3" />
<circle cx="472.75" cy="512.30" r="3.6" fill="#bd1230" stroke="#5a0a16" stroke-width="0.7" />
<circle cx="472.75" cy="516.10" r="3.6" fill="#bd1230" stroke="#5a0a16" stroke-width="0.7" />
<line x1="464.75" y1="514.50" x2="480.75" y2="514.50" stroke="#111" stroke-width="1.3" />
<circle cx="494.10" cy="503.40" r="3.6" fill="#bd1230" stroke="#5a0a16" stroke-width="0.7" />
<circle cx="494.10" cy="508.00" r="3.6" fill="#bd1230" stroke="#5a0a16" stroke-width="0.7" />
<line x1="486.10" y1="506.50" x2="502.10" y2="506.50" stroke="#111" stroke-width="1.3" />
<line x1="310.50" y1="560.00" x2="310.50" y2="609.80" stroke="#222" stroke-width="1.1" />
<line x1="310.10" y1="609.50" x2="507.00" y2="609.50" stroke="#222" stroke-width="1.1" />
<line x1="307.60" y1="567.50" x2="310.60" y2="567.50" stroke="#222" stroke-width="0.9" />
<text x="303.00" y="570.20" font-size="7.4" fill="#222" text-anchor="end" stroke="#222" stroke-width="0.15">26</text>
<line x1="307.60" y1="580.50" x2="310.60" y2="580.50" stroke="#222" stroke-width="0.9" />
<text x="303.00" y="583.10" font-size="7.4" fill="#222" text-anchor="end" stroke="#222" stroke-width="0.15">25</text>
<line x1="307.60" y1="593.50" x2="310.60" y2="593.50" stroke="#222" stroke-width="0.9" />
<text x="303.00" y="596.00" font-size="7.4" fill="#222" text-anchor="end" stroke="#222" stroke-width="0.15">24</text>
<line x1="307.60" y1="606.50" x2="310.60" y2="606.50" stroke="#222" stroke-width="0.9" />
<text x="303.00" y="608.90" font-size="7.4" fill="#222" text-anchor="end" stroke="#222" stroke-width="0.15">23</text>
<line x1="323.50" y1="609.30" x2="323.50" y2="612.30" stroke="#222" stroke-width="0.9" />
<line x1="344.50" y1="609.30" x2="344.50" y2="612.30" stroke="#222" stroke-width="0.9" />
<line x1="366.50" y1="609.30" x2="366.50" y2="612.30" stroke="#222" stroke-width="0.9" />
<line x1="387.50" y1="609.30" x2="387.50" y2="612.30" stroke="#222" stroke-width="0.9" />
<line x1="408.50" y1="609.30" x2="408.50" y2="612.30" stroke="#222" stroke-width="0.9" />
<line x1="430.50" y1="609.30" x2="430.50" y2="612.30" stroke="#222" stroke-width="0.9" />
<line x1="451.50" y1="609.30" x2="451.50" y2="612.30" stroke="#222" stroke-width="0.9" />
<line x1="472.50" y1="609.30" x2="472.50" y2="612.30" stroke="#222" stroke-width="0.9" />
<line x1="494.50" y1="609.30" x2="494.50" y2="612.30" stroke="#222" stroke-width="0.9" />
<text x="408.50" y="555.60" font-size="7.7" fill="#1a1a1a" text-anchor="middle" >ATP5C1</text>
<circle cx="323.30" cy="572.50" r="3.7" fill="#c9c9c9" stroke="#505050" stroke-width="0.65" fill-opacity="0.7"/>
<circle cx="323.30" cy="575.00" r="3.7" fill="#c9c9c9" stroke="#505050" stroke-width="0.65" fill-opacity="0.7"/>
<circle cx="323.30" cy="586.30" r="3.7" fill="#c9c9c9" stroke="#505050" stroke-width="0.65" fill-opacity="0.7"/>
<circle cx="323.30" cy="590.00" r="3.7" fill="#c9c9c9" stroke="#505050" stroke-width="0.65" fill-opacity="0.7"/>
<circle cx="323.30" cy="592.50" r="3.7" fill="#c9c9c9" stroke="#505050" stroke-width="0.65" fill-opacity="0.7"/>
<circle cx="323.30" cy="588.00" r="1.3" fill="#111" stroke="none" stroke-width="0.6" />
<rect x="315.4" y="576.20" width="16.5" height="3.80" fill="#d4d4d4" stroke="#1a1a1a" stroke-width="1.0"/>
<line x1="315.40" y1="577.00" x2="331.90" y2="577.00" stroke="#1a1a1a" stroke-width="1.1" />
<circle cx="344.65" cy="573.80" r="3.6" fill="#1f5d45" stroke="#0d2e22" stroke-width="0.7" />
<circle cx="344.65" cy="575.80" r="3.6" fill="#1f5d45" stroke="#0d2e22" stroke-width="0.7" />
<line x1="336.65" y1="575.50" x2="352.65" y2="575.50" stroke="#111" stroke-width="1.3" />
<circle cx="366.00" cy="586.30" r="3.6" fill="#1f5d45" stroke="#0d2e22" stroke-width="0.7" />
<circle cx="366.00" cy="588.00" r="3.6" fill="#1f5d45" stroke="#0d2e22" stroke-width="0.7" />
<line x1="358.00" y1="587.50" x2="374.00" y2="587.50" stroke="#111" stroke-width="1.3" />
<circle cx="387.35" cy="588.30" r="3.6" fill="#3f9443" stroke="#1c4d22" stroke-width="0.7" />
<circle cx="387.35" cy="590.00" r="3.6" fill="#3f9443" stroke="#1c4d22" stroke-width="0.7" />
<line x1="379.35" y1="590.50" x2="395.35" y2="590.50" stroke="#111" stroke-width="1.3" />
<circle cx="408.70" cy="572.00" r="3.6" fill="#4bab4e" stroke="#245f28" stroke-width="0.7" />
<circle cx="408.70" cy="575.00" r="3.6" fill="#4bab4e" stroke="#245f28" stroke-width="0.7" />
<line x1="400.70" y1="573.50" x2="416.70" y2="573.50" stroke="#111" stroke-width="1.3" />
<circle cx="430.05" cy="575.00" r="3.6" fill="#c8cb9a" stroke="#5d5f3c" stroke-width="0.7" />
<circle cx="430.05" cy="577.50" r="3.6" fill="#c8cb9a" stroke="#5d5f3c" stroke-width="0.7" />
<line x1="422.05" y1="576.50" x2="438.05" y2="576.50" stroke="#111" stroke-width="1.3" />
<circle cx="451.40" cy="573.80" r="3.6" fill="#c8cb9a" stroke="#5d5f3c" stroke-width="0.7" />
<circle cx="451.40" cy="577.00" r="3.6" fill="#c8cb9a" stroke="#5d5f3c" stroke-width="0.7" />
<line x1="443.40" y1="576.50" x2="459.40" y2="576.50" stroke="#111" stroke-width="1.3" />
<circle cx="472.75" cy="583.80" r="3.6" fill="#bd1230" stroke="#5a0a16" stroke-width="0.7" />
<circle cx="472.75" cy="585.50" r="3.6" fill="#bd1230" stroke="#5a0a16" stroke-width="0.7" />
<line x1="464.75" y1="585.50" x2="480.75" y2="585.50" stroke="#111" stroke-width="1.3" />
<circle cx="494.10" cy="580.00" r="3.6" fill="#bd1230" stroke="#5a0a16" stroke-width="0.7" />
<circle cx="494.10" cy="583.80" r="3.6" fill="#bd1230" stroke="#5a0a16" stroke-width="0.7" />
<line x1="486.10" y1="582.50" x2="502.10" y2="582.50" stroke="#111" stroke-width="1.3" />
<line x1="310.50" y1="628.80" x2="310.50" y2="678.90" stroke="#222" stroke-width="1.1" />
<line x1="310.10" y1="678.50" x2="507.00" y2="678.50" stroke="#222" stroke-width="1.1" />
<line x1="307.60" y1="635.50" x2="310.60" y2="635.50" stroke="#222" stroke-width="0.9" />
<text x="303.00" y="638.40" font-size="7.4" fill="#222" text-anchor="end" stroke="#222" stroke-width="0.15">26</text>
<line x1="307.60" y1="648.50" x2="310.60" y2="648.50" stroke="#222" stroke-width="0.9" />
<text x="303.00" y="651.30" font-size="7.4" fill="#222" text-anchor="end" stroke="#222" stroke-width="0.15">25</text>
<line x1="307.60" y1="661.50" x2="310.60" y2="661.50" stroke="#222" stroke-width="0.9" />
<text x="303.00" y="664.20" font-size="7.4" fill="#222" text-anchor="end" stroke="#222" stroke-width="0.15">24</text>
<line x1="307.60" y1="674.50" x2="310.60" y2="674.50" stroke="#222" stroke-width="0.9" />
<text x="303.00" y="677.10" font-size="7.4" fill="#222" text-anchor="end" stroke="#222" stroke-width="0.15">23</text>
<line x1="323.50" y1="678.40" x2="323.50" y2="681.40" stroke="#222" stroke-width="0.9" />
<line x1="344.50" y1="678.40" x2="344.50" y2="681.40" stroke="#222" stroke-width="0.9" />
<line x1="366.50" y1="678.40" x2="366.50" y2="681.40" stroke="#222" stroke-width="0.9" />
<line x1="387.50" y1="678.40" x2="387.50" y2="681.40" stroke="#222" stroke-width="0.9" />
<line x1="408.50" y1="678.40" x2="408.50" y2="681.40" stroke="#222" stroke-width="0.9" />
<line x1="430.50" y1="678.40" x2="430.50" y2="681.40" stroke="#222" stroke-width="0.9" />
<line x1="451.50" y1="678.40" x2="451.50" y2="681.40" stroke="#222" stroke-width="0.9" />
<line x1="472.50" y1="678.40" x2="472.50" y2="681.40" stroke="#222" stroke-width="0.9" />
<line x1="494.50" y1="678.40" x2="494.50" y2="681.40" stroke="#222" stroke-width="0.9" />
<text x="408.50" y="624.60" font-size="7.7" fill="#1a1a1a" text-anchor="middle" >UQCRC1</text>
<circle cx="323.30" cy="635.00" r="3.7" fill="#c9c9c9" stroke="#505050" stroke-width="0.65" fill-opacity="0.7"/>
<circle cx="323.30" cy="637.00" r="3.7" fill="#c9c9c9" stroke="#505050" stroke-width="0.65" fill-opacity="0.7"/>
<circle cx="323.30" cy="657.50" r="3.7" fill="#c9c9c9" stroke="#505050" stroke-width="0.65" fill-opacity="0.7"/>
<circle cx="323.30" cy="662.50" r="3.7" fill="#c9c9c9" stroke="#505050" stroke-width="0.65" fill-opacity="0.7"/>
<circle cx="323.30" cy="665.50" r="3.7" fill="#c9c9c9" stroke="#505050" stroke-width="0.65" fill-opacity="0.7"/>
<circle cx="323.30" cy="662.50" r="1.3" fill="#111" stroke="none" stroke-width="0.6" />
<rect x="315.4" y="640.00" width="16.5" height="7.00" fill="#d4d4d4" stroke="#1a1a1a" stroke-width="1.0"/>
<line x1="315.40" y1="642.00" x2="331.90" y2="642.00" stroke="#1a1a1a" stroke-width="1.1" />
<circle cx="344.65" cy="635.80" r="3.6" fill="#1f5d45" stroke="#0d2e22" stroke-width="0.7" />
<circle cx="344.65" cy="637.50" r="3.6" fill="#1f5d45" stroke="#0d2e22" stroke-width="0.7" />
<line x1="336.65" y1="636.50" x2="352.65" y2="636.50" stroke="#111" stroke-width="1.3" />
<circle cx="366.00" cy="672.50" r="3.6" fill="#1f5d45" stroke="#0d2e22" stroke-width="0.7" />
<line x1="358.00" y1="672.50" x2="374.00" y2="672.50" stroke="#111" stroke-width="1.3" />
<circle cx="387.35" cy="661.30" r="3.6" fill="#3f9443" stroke="#1c4d22" stroke-width="0.7" />
<circle cx="387.35" cy="668.80" r="3.6" fill="#3f9443" stroke="#1c4d22" stroke-width="0.7" />
<line x1="379.35" y1="664.50" x2="395.35" y2="664.50" stroke="#111" stroke-width="1.3" />
<circle cx="408.70" cy="642.50" r="3.6" fill="#4bab4e" stroke="#245f28" stroke-width="0.7" />
<circle cx="408.70" cy="645.50" r="3.6" fill="#4bab4e" stroke="#245f28" stroke-width="0.7" />
<line x1="400.70" y1="644.50" x2="416.70" y2="644.50" stroke="#111" stroke-width="1.3" />
<circle cx="430.05" cy="641.30" r="3.6" fill="#c8cb9a" stroke="#5d5f3c" stroke-width="0.7" />
<circle cx="430.05" cy="642.50" r="3.6" fill="#c8cb9a" stroke="#5d5f3c" stroke-width="0.7" />
<line x1="422.05" y1="642.50" x2="438.05" y2="642.50" stroke="#111" stroke-width="1.3" />
<circle cx="451.40" cy="638.80" r="3.6" fill="#c8cb9a" stroke="#5d5f3c" stroke-width="0.7" />
<circle cx="451.40" cy="643.30" r="3.6" fill="#c8cb9a" stroke="#5d5f3c" stroke-width="0.7" />
<line x1="443.40" y1="641.50" x2="459.40" y2="641.50" stroke="#111" stroke-width="1.3" />
<circle cx="472.75" cy="653.80" r="3.6" fill="#bd1230" stroke="#5a0a16" stroke-width="0.7" />
<circle cx="472.75" cy="657.00" r="3.6" fill="#bd1230" stroke="#5a0a16" stroke-width="0.7" />
<line x1="464.75" y1="655.50" x2="480.75" y2="655.50" stroke="#111" stroke-width="1.3" />
<circle cx="494.10" cy="643.80" r="3.6" fill="#bd1230" stroke="#5a0a16" stroke-width="0.7" />
<line x1="486.10" y1="644.50" x2="502.10" y2="644.50" stroke="#111" stroke-width="1.3" />
<line x1="310.50" y1="697.00" x2="310.50" y2="745.30" stroke="#222" stroke-width="1.1" />
<line x1="310.10" y1="744.50" x2="507.00" y2="744.50" stroke="#222" stroke-width="1.1" />
<line x1="307.60" y1="705.50" x2="310.60" y2="705.50" stroke="#222" stroke-width="0.9" />
<text x="303.00" y="707.60" font-size="7.4" fill="#222" text-anchor="end" stroke="#222" stroke-width="0.15">26</text>
<line x1="307.60" y1="717.50" x2="310.60" y2="717.50" stroke="#222" stroke-width="0.9" />
<text x="303.00" y="720.13" font-size="7.4" fill="#222" text-anchor="end" stroke="#222" stroke-width="0.15">25</text>
<line x1="307.60" y1="730.50" x2="310.60" y2="730.50" stroke="#222" stroke-width="0.9" />
<text x="303.00" y="732.67" font-size="7.4" fill="#222" text-anchor="end" stroke="#222" stroke-width="0.15">24</text>
<line x1="307.60" y1="742.50" x2="310.60" y2="742.50" stroke="#222" stroke-width="0.9" />
<text x="303.00" y="745.20" font-size="7.4" fill="#222" text-anchor="end" stroke="#222" stroke-width="0.15">23</text>
<line x1="323.50" y1="744.80" x2="323.50" y2="747.80" stroke="#222" stroke-width="0.9" />
<line x1="344.50" y1="744.80" x2="344.50" y2="747.80" stroke="#222" stroke-width="0.9" />
<line x1="366.50" y1="744.80" x2="366.50" y2="747.80" stroke="#222" stroke-width="0.9" />
<line x1="387.50" y1="744.80" x2="387.50" y2="747.80" stroke="#222" stroke-width="0.9" />
<line x1="408.50" y1="744.80" x2="408.50" y2="747.80" stroke="#222" stroke-width="0.9" />
<line x1="430.50" y1="744.80" x2="430.50" y2="747.80" stroke="#222" stroke-width="0.9" />
<line x1="451.50" y1="744.80" x2="451.50" y2="747.80" stroke="#222" stroke-width="0.9" />
<line x1="472.50" y1="744.80" x2="472.50" y2="747.80" stroke="#222" stroke-width="0.9" />
<line x1="494.50" y1="744.80" x2="494.50" y2="747.80" stroke="#222" stroke-width="0.9" />
<text x="408.50" y="693.80" font-size="7.7" fill="#1a1a1a" text-anchor="middle" >UQCRC2</text>
<circle cx="323.30" cy="704.30" r="3.7" fill="#c9c9c9" stroke="#505050" stroke-width="0.65" fill-opacity="0.7"/>
<circle cx="323.30" cy="721.30" r="3.7" fill="#c9c9c9" stroke="#505050" stroke-width="0.65" fill-opacity="0.7"/>
<circle cx="323.30" cy="725.00" r="3.7" fill="#c9c9c9" stroke="#505050" stroke-width="0.65" fill-opacity="0.7"/>
<circle cx="323.30" cy="723.00" r="1.3" fill="#111" stroke="none" stroke-width="0.6" />
<rect x="315.4" y="706.30" width="16.5" height="5.70" fill="#d4d4d4" stroke="#1a1a1a" stroke-width="1.0"/>
<line x1="315.40" y1="706.50" x2="331.90" y2="706.50" stroke="#1a1a1a" stroke-width="1.1" />
<circle cx="344.65" cy="707.00" r="3.6" fill="#1f5d45" stroke="#0d2e22" stroke-width="0.7" />
<circle cx="344.65" cy="709.50" r="3.6" fill="#1f5d45" stroke="#0d2e22" stroke-width="0.7" />
<line x1="336.65" y1="708.50" x2="352.65" y2="708.50" stroke="#111" stroke-width="1.3" />
<circle cx="366.00" cy="731.30" r="3.6" fill="#1f5d45" stroke="#0d2e22" stroke-width="0.7" />
<circle cx="366.00" cy="740.50" r="3.6" fill="#1f5d45" stroke="#0d2e22" stroke-width="0.7" />
<line x1="358.00" y1="733.50" x2="374.00" y2="733.50" stroke="#111" stroke-width="1.3" />
<circle cx="387.35" cy="726.30" r="3.6" fill="#3f9443" stroke="#1c4d22" stroke-width="0.7" />
<line x1="379.35" y1="726.50" x2="395.35" y2="726.50" stroke="#111" stroke-width="1.3" />
<circle cx="408.70" cy="707.00" r="3.6" fill="#4bab4e" stroke="#245f28" stroke-width="0.7" />
<circle cx="408.70" cy="710.00" r="3.6" fill="#4bab4e" stroke="#245f28" stroke-width="0.7" />
<line x1="400.70" y1="708.50" x2="416.70" y2="708.50" stroke="#111" stroke-width="1.3" />
<circle cx="430.05" cy="710.50" r="3.6" fill="#c8cb9a" stroke="#5d5f3c" stroke-width="0.7" />
<circle cx="430.05" cy="715.00" r="3.6" fill="#c8cb9a" stroke="#5d5f3c" stroke-width="0.7" />
<line x1="422.05" y1="712.50" x2="438.05" y2="712.50" stroke="#111" stroke-width="1.3" />
<circle cx="451.40" cy="707.50" r="3.6" fill="#c8cb9a" stroke="#5d5f3c" stroke-width="0.7" />
<circle cx="451.40" cy="710.00" r="3.6" fill="#c8cb9a" stroke="#5d5f3c" stroke-width="0.7" />
<line x1="443.40" y1="709.50" x2="459.40" y2="709.50" stroke="#111" stroke-width="1.3" />
<circle cx="472.75" cy="725.00" r="3.6" fill="#bd1230" stroke="#5a0a16" stroke-width="0.7" />
<circle cx="472.75" cy="727.00" r="3.6" fill="#bd1230" stroke="#5a0a16" stroke-width="0.7" />
<line x1="464.75" y1="726.50" x2="480.75" y2="726.50" stroke="#111" stroke-width="1.3" />
<circle cx="494.10" cy="710.50" r="3.6" fill="#bd1230" stroke="#5a0a16" stroke-width="0.7" />
<circle cx="494.10" cy="712.00" r="3.6" fill="#bd1230" stroke="#5a0a16" stroke-width="0.7" />
<line x1="486.10" y1="711.50" x2="502.10" y2="711.50" stroke="#111" stroke-width="1.3" />
<text x="286.90" y="620.90" font-size="9.2" fill="#222" text-anchor="middle" textLength="12" lengthAdjust="spacingAndGlyphs" transform="rotate(-90 286.90 620.90)" stroke="#222" stroke-width="0.2">LFQ</text>
<text x="323.60" y="759.20" font-size="7.5" fill="#1a1a1a" text-anchor="middle" >Controls</text>
<text x="354.80" y="759.20" font-size="7.5" fill="#1a1a1a" text-anchor="middle" >A-II-1</text>
<text x="397.50" y="759.20" font-size="7.5" fill="#1a1a1a" text-anchor="middle" >A-II-2</text>
<text x="440.20" y="759.20" font-size="7.5" fill="#1a1a1a" text-anchor="middle" >A-II-3</text>
<text x="482.60" y="759.20" font-size="7.5" fill="#1a1a1a" text-anchor="middle" >B-II-1</text>
<text x="351.05" y="764.30" font-size="7.5" fill="#1a1a1a" text-anchor="end" transform="rotate(-90 351.05 764.30)" >Before</text>
<text x="365.50" y="764.30" font-size="7.5" fill="#1a1a1a" text-anchor="end" transform="rotate(-90 365.50 764.30)" >After</text>
<text x="393.75" y="764.30" font-size="7.5" fill="#1a1a1a" text-anchor="end" transform="rotate(-90 393.75 764.30)" >Before</text>
<text x="408.20" y="764.30" font-size="7.5" fill="#1a1a1a" text-anchor="end" transform="rotate(-90 408.20 764.30)" >After</text>
<text x="436.45" y="764.30" font-size="7.5" fill="#1a1a1a" text-anchor="end" transform="rotate(-90 436.45 764.30)" >Before</text>
<text x="450.90" y="764.30" font-size="7.5" fill="#1a1a1a" text-anchor="end" transform="rotate(-90 450.90 764.30)" >After</text>
<text x="479.15" y="764.30" font-size="7.5" fill="#1a1a1a" text-anchor="end" transform="rotate(-90 479.15 764.30)" >Before</text>
<text x="493.60" y="764.30" font-size="7.5" fill="#1a1a1a" text-anchor="end" transform="rotate(-90 493.60 764.30)" >After</text>
<line x1="0.00" y1="0.50" x2="520.00" y2="0.50" stroke="#555" stroke-width="1" />
<line x1="0.50" y1="0.00" x2="0.50" y2="795.00" stroke="#444" stroke-width="1" />
<line x1="519.35" y1="0.00" x2="519.35" y2="795.00" stroke="#333" stroke-width="1.3" />
<line x1="0.00" y1="794.30" x2="520.00" y2="794.30" stroke="#333" stroke-width="1.4" /></svg>
</body></html>
